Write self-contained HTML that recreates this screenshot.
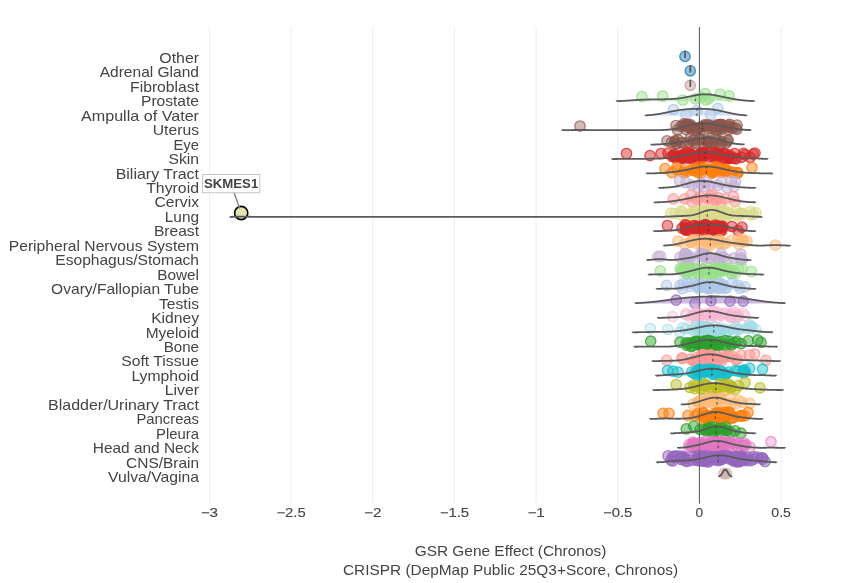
<!DOCTYPE html><html><head><meta charset="utf-8"><style>html,body{margin:0;padding:0;background:#fff}svg{will-change:transform}</style></head><body><svg width="849" height="583" viewBox="0 0 849 583" style="display:block;font-family:'Liberation Sans',sans-serif">
<rect width="849" height="583" fill="#fff"/>
<line x1="209.4" x2="209.4" y1="27" y2="503.6" stroke="#eee" stroke-width="1"/>
<line x1="291.1" x2="291.1" y1="27" y2="503.6" stroke="#eee" stroke-width="1"/>
<line x1="372.7" x2="372.7" y1="27" y2="503.6" stroke="#eee" stroke-width="1"/>
<line x1="454.4" x2="454.4" y1="27" y2="503.6" stroke="#eee" stroke-width="1"/>
<line x1="536.1" x2="536.1" y1="27" y2="503.6" stroke="#eee" stroke-width="1"/>
<line x1="617.7" x2="617.7" y1="27" y2="503.6" stroke="#eee" stroke-width="1"/>
<line x1="781.1" x2="781.1" y1="27" y2="503.6" stroke="#eee" stroke-width="1"/>
<line x1="699.4" x2="699.4" y1="27" y2="503.6" stroke="#666" stroke-width="1"/>
<g fill="#1f77b4" fill-opacity="0.47" stroke="#1f77b4" stroke-opacity="0.79" stroke-width="1.3"><circle cx="685.0" cy="56.4" r="5.2"/></g>
<line x1="685" x2="685" y1="58.0" y2="50.8" stroke="#5a5a5a" stroke-width="1.8"/>
<g fill="#1f77b4" fill-opacity="0.47" stroke="#1f77b4" stroke-opacity="0.79" stroke-width="1.3"><circle cx="690.3" cy="70.8" r="5.2"/></g>
<line x1="690.3" x2="690.3" y1="72.4" y2="65.2" stroke="#5a5a5a" stroke-width="1.8"/>
<g fill="#c49c94" fill-opacity="0.47" stroke="#c49c94" stroke-opacity="0.79" stroke-width="1.3"><circle cx="690.3" cy="85.3" r="5.2"/></g>
<line x1="690.3" x2="690.3" y1="86.9" y2="79.7" stroke="#5a5a5a" stroke-width="1.8"/>
<g fill="#98df8a" fill-opacity="0.47" stroke="#98df8a" stroke-opacity="0.79" stroke-width="1.3"><circle cx="641.9" cy="96.5" r="5.2"/><circle cx="662.7" cy="96.0" r="5.2"/><circle cx="682.9" cy="100.0" r="5.2"/><circle cx="695.4" cy="98.9" r="5.2"/><circle cx="701.0" cy="97.3" r="5.2"/><circle cx="705.3" cy="93.7" r="5.2"/><circle cx="706.0" cy="100.0" r="5.2"/><circle cx="709.0" cy="98.3" r="5.2"/><circle cx="720.1" cy="94.2" r="5.2"/><circle cx="729.1" cy="95.8" r="5.2"/></g>
<path d="M616.5,101.3L616.5,101.15L617.0,101.13L617.4,101.12L617.9,101.11L618.3,101.09L618.8,101.07L619.3,101.06L619.7,101.04L620.2,101.02L620.6,101.00L621.1,100.98L621.6,100.96L622.0,100.94L622.5,100.92L622.9,100.90L623.4,100.87L623.8,100.85L624.3,100.82L624.8,100.80L625.2,100.77L625.7,100.74L626.1,100.71L626.6,100.69L627.1,100.66L627.5,100.63L628.0,100.60L628.4,100.57L628.9,100.53L629.4,100.50L629.8,100.47L630.3,100.44L630.7,100.41L631.2,100.37L631.7,100.34L632.1,100.31L632.6,100.28L633.0,100.25L633.5,100.21L634.0,100.18L634.4,100.15L634.9,100.12L635.3,100.09L635.8,100.06L636.3,100.03L636.7,100.00L637.2,99.97L637.6,99.94L638.1,99.91L638.5,99.89L639.0,99.86L639.5,99.84L639.9,99.81L640.4,99.79L640.8,99.77L641.3,99.74L641.8,99.72L642.2,99.70L642.7,99.68L643.1,99.66L643.6,99.65L644.1,99.63L644.5,99.61L645.0,99.60L645.4,99.58L645.9,99.57L646.4,99.56L646.8,99.54L647.3,99.53L647.7,99.52L648.2,99.51L648.7,99.50L649.1,99.49L649.6,99.48L650.0,99.47L650.5,99.47L651.0,99.46L651.4,99.45L651.9,99.44L652.3,99.44L652.8,99.43L653.2,99.42L653.7,99.42L654.2,99.41L654.6,99.40L655.1,99.40L655.5,99.39L656.0,99.39L656.5,99.38L656.9,99.38L657.4,99.37L657.8,99.37L658.3,99.36L658.8,99.35L659.2,99.35L659.7,99.34L660.1,99.34L660.6,99.33L661.1,99.32L661.5,99.32L662.0,99.31L662.4,99.30L662.9,99.29L663.4,99.29L663.8,99.28L664.3,99.27L664.7,99.26L665.2,99.25L665.6,99.24L666.1,99.22L666.6,99.21L667.0,99.20L667.5,99.18L667.9,99.17L668.4,99.15L668.9,99.13L669.3,99.12L669.8,99.10L670.2,99.08L670.7,99.05L671.2,99.03L671.6,99.00L672.1,98.98L672.5,98.95L673.0,98.92L673.5,98.89L673.9,98.85L674.4,98.82L674.8,98.78L675.3,98.74L675.8,98.70L676.2,98.65L676.7,98.61L677.1,98.56L677.6,98.51L678.1,98.46L678.5,98.40L679.0,98.35L679.4,98.29L679.9,98.23L680.3,98.16L680.8,98.10L681.3,98.03L681.7,97.96L682.2,97.89L682.6,97.81L683.1,97.74L683.6,97.66L684.0,97.58L684.5,97.50L684.9,97.41L685.4,97.33L685.9,97.24L686.3,97.15L686.8,97.06L687.2,96.97L687.7,96.88L688.2,96.78L688.6,96.69L689.1,96.60L689.5,96.50L690.0,96.40L690.5,96.31L690.9,96.21L691.4,96.12L691.8,96.02L692.3,95.92L692.7,95.83L693.2,95.74L693.7,95.65L694.1,95.56L694.6,95.47L695.0,95.38L695.5,95.30L696.0,95.21L696.4,95.13L696.9,95.06L697.3,94.98L697.8,94.91L698.3,94.84L698.7,94.78L699.2,94.72L699.6,94.66L700.1,94.61L700.6,94.56L701.0,94.51L701.5,94.47L701.9,94.44L702.4,94.41L702.9,94.38L703.3,94.36L703.8,94.34L704.2,94.33L704.7,94.32L705.2,94.32L705.6,94.32L706.1,94.33L706.5,94.34L707.0,94.36L707.4,94.38L707.9,94.40L708.4,94.43L708.8,94.47L709.3,94.51L709.7,94.55L710.2,94.60L710.7,94.65L711.1,94.70L711.6,94.76L712.0,94.82L712.5,94.88L713.0,94.95L713.4,95.02L713.9,95.10L714.3,95.17L714.8,95.25L715.3,95.33L715.7,95.41L716.2,95.50L716.6,95.58L717.1,95.67L717.6,95.76L718.0,95.85L718.5,95.94L718.9,96.03L719.4,96.12L719.8,96.22L720.3,96.31L720.8,96.40L721.2,96.50L721.7,96.59L722.1,96.69L722.6,96.78L723.1,96.88L723.5,96.97L724.0,97.07L724.4,97.16L724.9,97.26L725.4,97.35L725.8,97.45L726.3,97.54L726.7,97.63L727.2,97.73L727.7,97.82L728.1,97.91L728.6,98.00L729.0,98.09L729.5,98.18L730.0,98.27L730.4,98.35L730.9,98.44L731.3,98.52L731.8,98.61L732.3,98.69L732.7,98.78L733.2,98.86L733.6,98.94L734.1,99.02L734.5,99.10L735.0,99.17L735.5,99.25L735.9,99.33L736.4,99.40L736.8,99.47L737.3,99.54L737.8,99.61L738.2,99.68L738.7,99.75L739.1,99.81L739.6,99.88L740.1,99.94L740.5,100.00L741.0,100.06L741.4,100.12L741.9,100.17L742.4,100.23L742.8,100.28L743.3,100.33L743.7,100.38L744.2,100.43L744.7,100.48L745.1,100.52L745.6,100.56L746.0,100.61L746.5,100.65L747.0,100.68L747.4,100.72L747.9,100.76L748.3,100.79L748.8,100.82L749.2,100.85L749.7,100.88L750.2,100.91L750.6,100.94L751.1,100.96L751.5,100.99L752.0,101.01L752.5,101.03L752.9,101.05L753.4,101.07L753.8,101.09L754.3,101.11L754.3,101.3" fill="#98df8a" fill-opacity="0.45" stroke="#5a5a5a" stroke-width="1.8" stroke-linejoin="round"/>
<line x1="695.3" x2="695.3" y1="101.3" y2="95.3" stroke="#333" stroke-opacity="0.7" stroke-width="1.3" stroke-dasharray="2.5,2.5"/>
<g fill="#aec7e8" fill-opacity="0.47" stroke="#aec7e8" stroke-opacity="0.79" stroke-width="1.3"><circle cx="673.5" cy="109.5" r="5.2"/><circle cx="686.0" cy="114.9" r="5.2"/><circle cx="696.6" cy="110.7" r="5.2"/><circle cx="710.7" cy="114.9" r="5.2"/><circle cx="717.8" cy="108.3" r="5.2"/></g>
<path d="M645.5,115.8L645.5,115.40L645.8,115.38L646.2,115.36L646.5,115.34L646.8,115.32L647.2,115.30L647.5,115.27L647.9,115.25L648.2,115.23L648.5,115.20L648.9,115.18L649.2,115.15L649.5,115.12L649.9,115.09L650.2,115.06L650.5,115.03L650.9,115.00L651.2,114.97L651.6,114.93L651.9,114.90L652.2,114.86L652.6,114.83L652.9,114.79L653.2,114.75L653.6,114.71L653.9,114.67L654.3,114.63L654.6,114.58L654.9,114.54L655.3,114.49L655.6,114.45L655.9,114.40L656.3,114.35L656.6,114.30L656.9,114.25L657.3,114.20L657.6,114.15L658.0,114.10L658.3,114.04L658.6,113.99L659.0,113.93L659.3,113.88L659.6,113.82L660.0,113.76L660.3,113.70L660.6,113.64L661.0,113.58L661.3,113.52L661.7,113.46L662.0,113.39L662.3,113.33L662.7,113.26L663.0,113.20L663.3,113.13L663.7,113.07L664.0,113.00L664.4,112.93L664.7,112.87L665.0,112.80L665.4,112.73L665.7,112.66L666.0,112.59L666.4,112.52L666.7,112.45L667.0,112.38L667.4,112.32L667.7,112.25L668.1,112.18L668.4,112.11L668.7,112.04L669.1,111.97L669.4,111.90L669.7,111.83L670.1,111.76L670.4,111.69L670.8,111.62L671.1,111.55L671.4,111.49L671.8,111.42L672.1,111.35L672.4,111.29L672.8,111.22L673.1,111.16L673.4,111.09L673.8,111.03L674.1,110.96L674.5,110.90L674.8,110.84L675.1,110.78L675.5,110.72L675.8,110.66L676.1,110.60L676.5,110.54L676.8,110.48L677.1,110.43L677.5,110.37L677.8,110.32L678.2,110.26L678.5,110.21L678.8,110.16L679.2,110.11L679.5,110.06L679.8,110.01L680.2,109.96L680.5,109.92L680.9,109.87L681.2,109.83L681.5,109.78L681.9,109.74L682.2,109.70L682.5,109.66L682.9,109.62L683.2,109.58L683.5,109.54L683.9,109.51L684.2,109.47L684.6,109.44L684.9,109.41L685.2,109.37L685.6,109.34L685.9,109.31L686.2,109.28L686.6,109.26L686.9,109.23L687.2,109.20L687.6,109.18L687.9,109.15L688.3,109.13L688.6,109.10L688.9,109.08L689.3,109.06L689.6,109.04L689.9,109.02L690.3,109.00L690.6,108.99L691.0,108.97L691.3,108.95L691.6,108.94L692.0,108.92L692.3,108.91L692.6,108.89L693.0,108.88L693.3,108.87L693.6,108.86L694.0,108.85L694.3,108.84L694.7,108.83L695.0,108.82L695.3,108.81L695.7,108.80L696.0,108.79L696.3,108.79L696.7,108.78L697.0,108.78L697.3,108.77L697.7,108.77L698.0,108.77L698.4,108.76L698.7,108.76L699.0,108.76L699.4,108.76L699.7,108.76L700.0,108.76L700.4,108.76L700.7,108.77L701.0,108.77L701.4,108.77L701.7,108.78L702.1,108.78L702.4,108.79L702.7,108.80L703.1,108.80L703.4,108.81L703.7,108.82L704.1,108.83L704.4,108.84L704.8,108.86L705.1,108.87L705.4,108.89L705.8,108.90L706.1,108.92L706.4,108.94L706.8,108.96L707.1,108.98L707.4,109.00L707.8,109.02L708.1,109.04L708.5,109.07L708.8,109.10L709.1,109.12L709.5,109.15L709.8,109.18L710.1,109.22L710.5,109.25L710.8,109.28L711.1,109.32L711.5,109.36L711.8,109.40L712.2,109.44L712.5,109.48L712.8,109.52L713.2,109.57L713.5,109.61L713.8,109.66L714.2,109.71L714.5,109.76L714.9,109.81L715.2,109.87L715.5,109.92L715.9,109.98L716.2,110.04L716.5,110.09L716.9,110.15L717.2,110.22L717.5,110.28L717.9,110.34L718.2,110.41L718.6,110.47L718.9,110.54L719.2,110.61L719.6,110.68L719.9,110.75L720.2,110.82L720.6,110.89L720.9,110.97L721.2,111.04L721.6,111.12L721.9,111.19L722.3,111.27L722.6,111.34L722.9,111.42L723.3,111.50L723.6,111.58L723.9,111.65L724.3,111.73L724.6,111.81L725.0,111.89L725.3,111.97L725.6,112.05L726.0,112.13L726.3,112.21L726.6,112.28L727.0,112.36L727.3,112.44L727.6,112.52L728.0,112.60L728.3,112.67L728.7,112.75L729.0,112.83L729.3,112.90L729.7,112.98L730.0,113.05L730.3,113.13L730.7,113.20L731.0,113.27L731.4,113.34L731.7,113.41L732.0,113.48L732.4,113.55L732.7,113.62L733.0,113.68L733.4,113.75L733.7,113.81L734.0,113.88L734.4,113.94L734.7,114.00L735.1,114.06L735.4,114.12L735.7,114.18L736.1,114.23L736.4,114.29L736.7,114.34L737.1,114.39L737.4,114.44L737.7,114.49L738.1,114.54L738.4,114.59L738.8,114.64L739.1,114.68L739.4,114.72L739.8,114.77L740.1,114.81L740.4,114.85L740.8,114.89L741.1,114.92L741.5,114.96L741.8,114.99L742.1,115.03L742.5,115.06L742.8,115.09L743.1,115.12L743.5,115.15L743.8,115.18L744.1,115.21L744.5,115.24L744.8,115.26L745.2,115.29L745.5,115.31L745.8,115.33L746.2,115.35L746.5,115.37L746.5,115.8" fill="#aec7e8" fill-opacity="0.45" stroke="#5a5a5a" stroke-width="1.8" stroke-linejoin="round"/>
<line x1="696.9" x2="696.9" y1="115.8" y2="108.8" stroke="#333" stroke-opacity="0.7" stroke-width="1.3" stroke-dasharray="2.5,2.5"/>
<g fill="#8c564b" fill-opacity="0.4" stroke="#8c564b" stroke-opacity="0.72" stroke-width="1.3"><circle cx="580.0" cy="126.0" r="5.2"/><circle cx="676.0" cy="125.5" r="5.2"/><circle cx="737.0" cy="125.1" r="5.2"/><circle cx="691.4" cy="126.2" r="5.2"/><circle cx="721.5" cy="129.7" r="5.2"/><circle cx="722.9" cy="125.1" r="5.2"/><circle cx="686.0" cy="124.5" r="5.2"/><circle cx="721.8" cy="124.4" r="5.2"/><circle cx="716.2" cy="125.1" r="5.2"/><circle cx="686.3" cy="125.7" r="5.2"/><circle cx="699.6" cy="127.7" r="5.2"/><circle cx="729.7" cy="127.6" r="5.2"/><circle cx="709.2" cy="128.8" r="5.2"/><circle cx="710.1" cy="125.8" r="5.2"/><circle cx="732.7" cy="127.8" r="5.2"/><circle cx="690.4" cy="124.7" r="5.2"/><circle cx="720.9" cy="128.5" r="5.2"/><circle cx="719.2" cy="128.3" r="5.2"/><circle cx="736.9" cy="129.4" r="5.2"/><circle cx="699.1" cy="128.2" r="5.2"/><circle cx="708.5" cy="124.9" r="5.2"/><circle cx="705.1" cy="124.6" r="5.2"/><circle cx="686.9" cy="124.0" r="5.2"/><circle cx="677.5" cy="129.8" r="5.2"/><circle cx="687.2" cy="125.5" r="5.2"/><circle cx="702.0" cy="126.3" r="5.2"/><circle cx="693.7" cy="127.7" r="5.2"/><circle cx="683.7" cy="123.9" r="5.2"/><circle cx="705.3" cy="125.6" r="5.2"/><circle cx="698.0" cy="128.0" r="5.2"/><circle cx="719.8" cy="124.6" r="5.2"/><circle cx="687.7" cy="127.1" r="5.2"/><circle cx="729.0" cy="126.9" r="5.2"/><circle cx="720.1" cy="126.9" r="5.2"/><circle cx="711.6" cy="126.9" r="5.2"/><circle cx="700.7" cy="129.8" r="5.2"/><circle cx="719.4" cy="124.7" r="5.2"/><circle cx="735.6" cy="128.0" r="5.2"/><circle cx="690.8" cy="127.1" r="5.2"/><circle cx="711.8" cy="128.9" r="5.2"/><circle cx="681.1" cy="126.3" r="5.2"/><circle cx="716.4" cy="129.5" r="5.2"/><circle cx="728.8" cy="129.8" r="5.2"/><circle cx="691.0" cy="128.6" r="5.2"/><circle cx="729.7" cy="124.3" r="5.2"/><circle cx="683.3" cy="125.6" r="5.2"/><circle cx="718.7" cy="125.3" r="5.2"/><circle cx="697.1" cy="129.4" r="5.2"/><circle cx="713.7" cy="127.1" r="5.2"/><circle cx="728.6" cy="125.2" r="5.2"/><circle cx="717.7" cy="125.2" r="5.2"/><circle cx="690.6" cy="127.1" r="5.2"/><circle cx="686.1" cy="129.5" r="5.2"/></g>
<path d="M562.0,130.2L562.0,130.17L562.6,130.16L563.3,130.16L563.9,130.15L564.5,130.14L565.1,130.14L565.8,130.13L566.4,130.12L567.0,130.11L567.7,130.10L568.3,130.09L568.9,130.08L569.6,130.07L570.2,130.06L570.8,130.05L571.4,130.04L572.1,130.03L572.7,130.02L573.3,130.01L574.0,130.00L574.6,129.99L575.2,129.98L575.8,129.98L576.5,129.97L577.1,129.96L577.7,129.96L578.4,129.95L579.0,129.95L579.6,129.95L580.3,129.95L580.9,129.95L581.5,129.95L582.1,129.96L582.8,129.96L583.4,129.97L584.0,129.97L584.7,129.98L585.3,129.99L585.9,130.00L586.5,130.01L587.2,130.02L587.8,130.03L588.4,130.04L589.1,130.05L589.7,130.06L590.3,130.07L590.9,130.08L591.6,130.09L592.2,130.10L592.8,130.11L593.5,130.12L594.1,130.13L594.7,130.13L595.4,130.14L596.0,130.15L596.6,130.15L597.2,130.16L597.9,130.17L598.5,130.17L599.1,130.17L599.8,130.18L600.4,130.18L601.0,130.18L601.6,130.19L602.3,130.19L602.9,130.19L603.5,130.19L604.2,130.19L604.8,130.19L605.4,130.20L606.1,130.20L606.7,130.20L607.3,130.20L607.9,130.20L608.6,130.20L609.2,130.20L609.8,130.20L610.5,130.20L611.1,130.20L611.7,130.20L612.3,130.20L613.0,130.20L613.6,130.20L614.2,130.20L614.9,130.20L615.5,130.20L616.1,130.20L616.8,130.20L617.4,130.20L618.0,130.20L618.6,130.20L619.3,130.20L619.9,130.20L620.5,130.20L621.2,130.20L621.8,130.20L622.4,130.20L623.0,130.20L623.7,130.20L624.3,130.20L624.9,130.20L625.6,130.20L626.2,130.20L626.8,130.20L627.5,130.20L628.1,130.20L628.7,130.20L629.3,130.20L630.0,130.20L630.6,130.20L631.2,130.20L631.9,130.20L632.5,130.20L633.1,130.20L633.7,130.20L634.4,130.20L635.0,130.20L635.6,130.20L636.3,130.20L636.9,130.20L637.5,130.20L638.1,130.20L638.8,130.20L639.4,130.20L640.0,130.20L640.7,130.20L641.3,130.20L641.9,130.20L642.6,130.20L643.2,130.20L643.8,130.20L644.4,130.20L645.1,130.20L645.7,130.20L646.3,130.20L647.0,130.20L647.6,130.20L648.2,130.20L648.8,130.19L649.5,130.19L650.1,130.19L650.7,130.19L651.4,130.19L652.0,130.19L652.6,130.18L653.3,130.18L653.9,130.18L654.5,130.17L655.1,130.17L655.8,130.16L656.4,130.15L657.0,130.15L657.7,130.14L658.3,130.13L658.9,130.11L659.5,130.10L660.2,130.09L660.8,130.07L661.4,130.05L662.1,130.03L662.7,130.00L663.3,129.97L664.0,129.94L664.6,129.91L665.2,129.87L665.8,129.83L666.5,129.79L667.1,129.74L667.7,129.69L668.4,129.63L669.0,129.57L669.6,129.50L670.2,129.43L670.9,129.36L671.5,129.28L672.1,129.20L672.8,129.11L673.4,129.02L674.0,128.92L674.7,128.82L675.3,128.71L675.9,128.60L676.5,128.48L677.2,128.36L677.8,128.24L678.4,128.11L679.1,127.98L679.7,127.84L680.3,127.70L680.9,127.56L681.6,127.42L682.2,127.27L682.8,127.12L683.5,126.97L684.1,126.81L684.7,126.66L685.3,126.50L686.0,126.34L686.6,126.18L687.2,126.02L687.9,125.86L688.5,125.71L689.1,125.55L689.8,125.39L690.4,125.23L691.0,125.08L691.6,124.93L692.3,124.78L692.9,124.63L693.5,124.49L694.2,124.36L694.8,124.23L695.4,124.10L696.0,123.98L696.7,123.87L697.3,123.77L697.9,123.67L698.6,123.58L699.2,123.50L699.8,123.43L700.5,123.36L701.1,123.31L701.7,123.27L702.3,123.24L703.0,123.21L703.6,123.20L704.2,123.20L704.9,123.21L705.5,123.23L706.1,123.26L706.7,123.30L707.4,123.35L708.0,123.40L708.6,123.47L709.3,123.55L709.9,123.63L710.5,123.73L711.2,123.83L711.8,123.94L712.4,124.05L713.0,124.17L713.7,124.30L714.3,124.43L714.9,124.56L715.6,124.70L716.2,124.84L716.8,124.98L717.4,125.13L718.1,125.27L718.7,125.42L719.3,125.57L720.0,125.72L720.6,125.87L721.2,126.01L721.9,126.16L722.5,126.30L723.1,126.45L723.7,126.59L724.4,126.73L725.0,126.87L725.6,127.00L726.3,127.13L726.9,127.26L727.5,127.39L728.1,127.52L728.8,127.64L729.4,127.76L730.0,127.88L730.7,127.99L731.3,128.10L731.9,128.21L732.5,128.32L733.2,128.42L733.8,128.52L734.4,128.62L735.1,128.72L735.7,128.81L736.3,128.90L737.0,128.98L737.6,129.07L738.2,129.15L738.8,129.22L739.5,129.30L740.1,129.37L740.7,129.43L741.4,129.50L742.0,129.56L742.6,129.61L743.2,129.67L743.9,129.72L744.5,129.76L745.1,129.81L745.8,129.85L746.4,129.89L747.0,129.92L747.7,129.95L748.3,129.98L748.9,130.01L749.5,130.03L750.2,130.05L750.8,130.07L750.8,130.2" fill="#8c564b" fill-opacity="0.45" stroke="#5a5a5a" stroke-width="1.8" stroke-linejoin="round"/>
<line x1="702.5" x2="702.5" y1="130.2" y2="123.2" stroke="#333" stroke-opacity="0.7" stroke-width="1.3" stroke-dasharray="2.5,2.5"/>
<g fill="#8c564b" fill-opacity="0.4" stroke="#8c564b" stroke-opacity="0.72" stroke-width="1.3"><circle cx="667.0" cy="140.9" r="5.2"/><circle cx="728.0" cy="139.8" r="5.2"/><circle cx="708.8" cy="141.2" r="5.2"/><circle cx="705.7" cy="139.7" r="5.2"/><circle cx="727.7" cy="140.9" r="5.2"/><circle cx="714.7" cy="139.1" r="5.2"/><circle cx="726.3" cy="143.0" r="5.2"/><circle cx="694.5" cy="139.0" r="5.2"/><circle cx="699.6" cy="139.6" r="5.2"/><circle cx="696.5" cy="143.7" r="5.2"/><circle cx="683.8" cy="143.0" r="5.2"/><circle cx="671.5" cy="142.5" r="5.2"/><circle cx="716.7" cy="139.3" r="5.2"/><circle cx="693.4" cy="140.3" r="5.2"/><circle cx="712.0" cy="144.0" r="5.2"/><circle cx="678.1" cy="139.7" r="5.2"/><circle cx="688.2" cy="142.4" r="5.2"/><circle cx="700.7" cy="138.8" r="5.2"/><circle cx="694.2" cy="142.6" r="5.2"/><circle cx="675.7" cy="143.8" r="5.2"/><circle cx="681.9" cy="142.3" r="5.2"/><circle cx="721.4" cy="141.4" r="5.2"/><circle cx="675.0" cy="141.6" r="5.2"/><circle cx="675.0" cy="140.9" r="5.2"/><circle cx="707.3" cy="143.7" r="5.2"/><circle cx="710.0" cy="142.7" r="5.2"/><circle cx="676.9" cy="144.2" r="5.2"/><circle cx="690.5" cy="138.0" r="5.2"/><circle cx="708.0" cy="141.3" r="5.2"/><circle cx="707.8" cy="142.6" r="5.2"/><circle cx="721.8" cy="143.3" r="5.2"/><circle cx="717.5" cy="140.5" r="5.2"/><circle cx="719.6" cy="144.4" r="5.2"/><circle cx="712.0" cy="143.4" r="5.2"/></g>
<path d="M650.6,144.6L650.6,144.60L650.9,144.60L651.2,144.59L651.5,144.59L651.8,144.59L652.2,144.58L652.5,144.58L652.8,144.57L653.1,144.56L653.4,144.56L653.7,144.55L654.0,144.54L654.3,144.54L654.7,144.53L655.0,144.52L655.3,144.51L655.6,144.50L655.9,144.49L656.2,144.48L656.5,144.47L656.8,144.46L657.2,144.44L657.5,144.43L657.8,144.42L658.1,144.40L658.4,144.39L658.7,144.37L659.0,144.36L659.3,144.34L659.6,144.32L660.0,144.30L660.3,144.29L660.6,144.27L660.9,144.25L661.2,144.22L661.5,144.20L661.8,144.18L662.1,144.16L662.5,144.14L662.8,144.11L663.1,144.09L663.4,144.06L663.7,144.04L664.0,144.01L664.3,143.99L664.6,143.96L665.0,143.93L665.3,143.90L665.6,143.87L665.9,143.85L666.2,143.82L666.5,143.79L666.8,143.76L667.1,143.73L667.4,143.70L667.8,143.67L668.1,143.64L668.4,143.60L668.7,143.57L669.0,143.54L669.3,143.51L669.6,143.48L669.9,143.45L670.3,143.41L670.6,143.38L670.9,143.35L671.2,143.32L671.5,143.28L671.8,143.25L672.1,143.22L672.4,143.18L672.8,143.15L673.1,143.12L673.4,143.08L673.7,143.05L674.0,143.02L674.3,142.98L674.6,142.95L674.9,142.91L675.2,142.88L675.6,142.84L675.9,142.81L676.2,142.77L676.5,142.74L676.8,142.70L677.1,142.67L677.4,142.63L677.7,142.59L678.1,142.55L678.4,142.51L678.7,142.48L679.0,142.44L679.3,142.40L679.6,142.35L679.9,142.31L680.2,142.27L680.6,142.23L680.9,142.18L681.2,142.14L681.5,142.09L681.8,142.05L682.1,142.00L682.4,141.95L682.7,141.90L683.0,141.85L683.4,141.80L683.7,141.75L684.0,141.70L684.3,141.64L684.6,141.59L684.9,141.53L685.2,141.48L685.5,141.42L685.9,141.36L686.2,141.30L686.5,141.24L686.8,141.18L687.1,141.12L687.4,141.05L687.7,140.99L688.0,140.92L688.4,140.86L688.7,140.79L689.0,140.72L689.3,140.65L689.6,140.58L689.9,140.51L690.2,140.44L690.5,140.37L690.8,140.30L691.2,140.23L691.5,140.15L691.8,140.08L692.1,140.01L692.4,139.93L692.7,139.86L693.0,139.79L693.3,139.71L693.7,139.64L694.0,139.57L694.3,139.49L694.6,139.42L694.9,139.35L695.2,139.27L695.5,139.20L695.8,139.13L696.2,139.06L696.5,138.99L696.8,138.92L697.1,138.85L697.4,138.79L697.7,138.72L698.0,138.66L698.3,138.59L698.6,138.53L699.0,138.47L699.3,138.41L699.6,138.35L699.9,138.30L700.2,138.25L700.5,138.19L700.8,138.14L701.1,138.10L701.5,138.05L701.8,138.01L702.1,137.96L702.4,137.92L702.7,137.89L703.0,137.85L703.3,137.82L703.6,137.79L704.0,137.76L704.3,137.74L704.6,137.72L704.9,137.70L705.2,137.68L705.5,137.67L705.8,137.66L706.1,137.65L706.4,137.64L706.8,137.64L707.1,137.64L707.4,137.64L707.7,137.65L708.0,137.66L708.3,137.67L708.6,137.68L708.9,137.70L709.3,137.72L709.6,137.74L709.9,137.77L710.2,137.80L710.5,137.83L710.8,137.86L711.1,137.90L711.4,137.94L711.8,137.98L712.1,138.02L712.4,138.07L712.7,138.12L713.0,138.17L713.3,138.23L713.6,138.28L713.9,138.34L714.2,138.40L714.6,138.46L714.9,138.53L715.2,138.59L715.5,138.66L715.8,138.73L716.1,138.81L716.4,138.88L716.7,138.96L717.1,139.03L717.4,139.11L717.7,139.19L718.0,139.27L718.3,139.36L718.6,139.44L718.9,139.53L719.2,139.61L719.6,139.70L719.9,139.79L720.2,139.88L720.5,139.97L720.8,140.06L721.1,140.15L721.4,140.24L721.7,140.33L722.0,140.42L722.4,140.52L722.7,140.61L723.0,140.70L723.3,140.79L723.6,140.89L723.9,140.98L724.2,141.07L724.5,141.16L724.9,141.25L725.2,141.34L725.5,141.43L725.8,141.52L726.1,141.61L726.4,141.70L726.7,141.79L727.0,141.88L727.4,141.96L727.7,142.05L728.0,142.13L728.3,142.21L728.6,142.29L728.9,142.37L729.2,142.45L729.5,142.53L729.8,142.60L730.2,142.68L730.5,142.75L730.8,142.82L731.1,142.89L731.4,142.96L731.7,143.03L732.0,143.09L732.3,143.16L732.7,143.22L733.0,143.28L733.3,143.34L733.6,143.40L733.9,143.45L734.2,143.51L734.5,143.56L734.8,143.61L735.2,143.66L735.5,143.70L735.8,143.75L736.1,143.79L736.4,143.84L736.7,143.88L737.0,143.92L737.3,143.95L737.6,143.99L738.0,144.02L738.3,144.06L738.6,144.09L738.9,144.12L739.2,144.15L739.5,144.18L739.8,144.20L740.1,144.23L740.5,144.25L740.8,144.27L741.1,144.30L741.4,144.32L741.7,144.34L742.0,144.35L742.3,144.37L742.6,144.39L743.0,144.40L743.3,144.42L743.6,144.43L743.9,144.45L744.2,144.46L744.2,144.6" fill="#8c564b" fill-opacity="0.45" stroke="#5a5a5a" stroke-width="1.8" stroke-linejoin="round"/>
<line x1="703.7" x2="703.7" y1="144.6" y2="137.8" stroke="#333" stroke-opacity="0.7" stroke-width="1.3" stroke-dasharray="2.5,2.5"/>
<g fill="#d62728" fill-opacity="0.47" stroke="#d62728" stroke-opacity="0.79" stroke-width="1.3"><circle cx="626.5" cy="153.5" r="5.2"/><circle cx="650.0" cy="155.6" r="5.2"/><circle cx="661.0" cy="153.6" r="5.2"/><circle cx="668.0" cy="153.1" r="5.2"/><circle cx="750.0" cy="157.4" r="5.2"/><circle cx="753.0" cy="154.1" r="5.2"/><circle cx="755.0" cy="153.1" r="5.2"/><circle cx="672.0" cy="156.4" r="5.2"/><circle cx="745.0" cy="154.9" r="5.2"/><circle cx="714.4" cy="152.8" r="5.2"/><circle cx="695.8" cy="158.6" r="5.2"/><circle cx="682.1" cy="155.1" r="5.2"/><circle cx="691.0" cy="157.5" r="5.2"/><circle cx="705.0" cy="153.5" r="5.2"/><circle cx="724.6" cy="154.1" r="5.2"/><circle cx="702.6" cy="152.6" r="5.2"/><circle cx="715.1" cy="152.6" r="5.2"/><circle cx="717.4" cy="154.7" r="5.2"/><circle cx="714.0" cy="157.2" r="5.2"/><circle cx="683.7" cy="154.2" r="5.2"/><circle cx="683.2" cy="155.9" r="5.2"/><circle cx="689.7" cy="157.2" r="5.2"/><circle cx="734.5" cy="158.2" r="5.2"/><circle cx="716.8" cy="153.1" r="5.2"/><circle cx="693.3" cy="156.0" r="5.2"/><circle cx="728.9" cy="158.0" r="5.2"/><circle cx="715.8" cy="157.4" r="5.2"/><circle cx="723.1" cy="158.0" r="5.2"/><circle cx="689.1" cy="158.5" r="5.2"/><circle cx="689.8" cy="154.0" r="5.2"/><circle cx="711.9" cy="155.8" r="5.2"/><circle cx="674.0" cy="156.9" r="5.2"/><circle cx="694.9" cy="156.8" r="5.2"/><circle cx="685.3" cy="157.1" r="5.2"/><circle cx="730.3" cy="155.6" r="5.2"/><circle cx="691.7" cy="155.2" r="5.2"/><circle cx="716.7" cy="158.4" r="5.2"/><circle cx="704.0" cy="156.2" r="5.2"/><circle cx="700.4" cy="153.2" r="5.2"/><circle cx="691.3" cy="154.2" r="5.2"/><circle cx="673.6" cy="155.5" r="5.2"/><circle cx="701.2" cy="156.3" r="5.2"/><circle cx="685.3" cy="156.8" r="5.2"/><circle cx="700.1" cy="157.9" r="5.2"/><circle cx="700.5" cy="156.9" r="5.2"/><circle cx="728.6" cy="158.1" r="5.2"/><circle cx="682.4" cy="158.7" r="5.2"/><circle cx="731.9" cy="158.1" r="5.2"/><circle cx="689.3" cy="152.4" r="5.2"/><circle cx="701.8" cy="152.7" r="5.2"/><circle cx="728.0" cy="158.6" r="5.2"/><circle cx="697.7" cy="156.6" r="5.2"/><circle cx="681.6" cy="158.1" r="5.2"/><circle cx="682.9" cy="156.6" r="5.2"/><circle cx="701.1" cy="154.9" r="5.2"/><circle cx="741.3" cy="157.3" r="5.2"/><circle cx="678.8" cy="156.0" r="5.2"/><circle cx="691.4" cy="157.7" r="5.2"/><circle cx="686.9" cy="155.5" r="5.2"/><circle cx="701.0" cy="157.9" r="5.2"/><circle cx="679.4" cy="156.8" r="5.2"/><circle cx="703.6" cy="156.2" r="5.2"/><circle cx="710.4" cy="157.1" r="5.2"/><circle cx="698.7" cy="155.7" r="5.2"/><circle cx="724.2" cy="153.8" r="5.2"/><circle cx="716.5" cy="156.1" r="5.2"/><circle cx="743.5" cy="153.4" r="5.2"/><circle cx="675.7" cy="157.8" r="5.2"/><circle cx="719.8" cy="154.3" r="5.2"/><circle cx="734.7" cy="153.5" r="5.2"/><circle cx="704.4" cy="152.7" r="5.2"/><circle cx="673.9" cy="154.4" r="5.2"/><circle cx="681.9" cy="156.8" r="5.2"/><circle cx="726.7" cy="154.4" r="5.2"/><circle cx="705.9" cy="154.8" r="5.2"/><circle cx="698.1" cy="156.3" r="5.2"/><circle cx="719.8" cy="155.0" r="5.2"/><circle cx="725.0" cy="158.6" r="5.2"/><circle cx="735.9" cy="158.8" r="5.2"/><circle cx="701.3" cy="157.7" r="5.2"/><circle cx="686.2" cy="152.9" r="5.2"/><circle cx="700.9" cy="158.7" r="5.2"/></g>
<path d="M611.8,159.1L611.8,159.05L612.3,159.04L612.8,159.04L613.4,159.03L613.9,159.03L614.4,159.02L614.9,159.01L615.4,159.01L616.0,159.00L616.5,158.99L617.0,158.98L617.5,158.97L618.0,158.96L618.6,158.95L619.1,158.94L619.6,158.93L620.1,158.92L620.6,158.91L621.2,158.90L621.7,158.89L622.2,158.88L622.7,158.88L623.2,158.87L623.8,158.86L624.3,158.86L624.8,158.85L625.3,158.85L625.8,158.85L626.4,158.85L626.9,158.85L627.4,158.85L627.9,158.85L628.4,158.85L628.9,158.86L629.5,158.86L630.0,158.87L630.5,158.87L631.0,158.88L631.5,158.89L632.1,158.89L632.6,158.90L633.1,158.91L633.6,158.92L634.1,158.92L634.7,158.93L635.2,158.93L635.7,158.94L636.2,158.94L636.7,158.95L637.3,158.95L637.8,158.95L638.3,158.95L638.8,158.95L639.3,158.95L639.9,158.94L640.4,158.94L640.9,158.93L641.4,158.93L641.9,158.92L642.5,158.91L643.0,158.90L643.5,158.89L644.0,158.88L644.5,158.87L645.1,158.86L645.6,158.85L646.1,158.84L646.6,158.83L647.1,158.81L647.7,158.80L648.2,158.79L648.7,158.78L649.2,158.77L649.7,158.76L650.3,158.74L650.8,158.73L651.3,158.72L651.8,158.71L652.3,158.70L652.9,158.69L653.4,158.68L653.9,158.67L654.4,158.66L654.9,158.64L655.5,158.63L656.0,158.62L656.5,158.60L657.0,158.59L657.5,158.57L658.1,158.56L658.6,158.54L659.1,158.52L659.6,158.50L660.1,158.48L660.6,158.46L661.2,158.43L661.7,158.41L662.2,158.38L662.7,158.35L663.2,158.32L663.8,158.29L664.3,158.26L664.8,158.22L665.3,158.18L665.8,158.15L666.4,158.10L666.9,158.06L667.4,158.02L667.9,157.97L668.4,157.92L669.0,157.87L669.5,157.81L670.0,157.76L670.5,157.70L671.0,157.64L671.6,157.58L672.1,157.51L672.6,157.45L673.1,157.38L673.6,157.31L674.2,157.23L674.7,157.16L675.2,157.08L675.7,157.00L676.2,156.92L676.8,156.84L677.3,156.75L677.8,156.67L678.3,156.58L678.8,156.49L679.4,156.40L679.9,156.31L680.4,156.21L680.9,156.11L681.4,156.01L682.0,155.91L682.5,155.81L683.0,155.71L683.5,155.60L684.0,155.50L684.6,155.39L685.1,155.28L685.6,155.17L686.1,155.06L686.6,154.95L687.2,154.83L687.7,154.72L688.2,154.60L688.7,154.49L689.2,154.37L689.8,154.26L690.3,154.14L690.8,154.03L691.3,153.91L691.8,153.80L692.3,153.69L692.9,153.58L693.4,153.47L693.9,153.36L694.4,153.26L694.9,153.16L695.5,153.06L696.0,152.96L696.5,152.87L697.0,152.79L697.5,152.70L698.1,152.62L698.6,152.55L699.1,152.48L699.6,152.41L700.1,152.35L700.7,152.30L701.2,152.25L701.7,152.21L702.2,152.17L702.7,152.14L703.3,152.12L703.8,152.10L704.3,152.09L704.8,152.08L705.3,152.08L705.9,152.09L706.4,152.10L706.9,152.12L707.4,152.15L707.9,152.18L708.5,152.22L709.0,152.26L709.5,152.31L710.0,152.37L710.5,152.43L711.1,152.50L711.6,152.57L712.1,152.65L712.6,152.73L713.1,152.81L713.7,152.90L714.2,152.99L714.7,153.09L715.2,153.19L715.7,153.29L716.3,153.39L716.8,153.50L717.3,153.61L717.8,153.72L718.3,153.83L718.9,153.94L719.4,154.06L719.9,154.17L720.4,154.28L720.9,154.40L721.4,154.51L722.0,154.62L722.5,154.73L723.0,154.85L723.5,154.96L724.0,155.06L724.6,155.17L725.1,155.28L725.6,155.38L726.1,155.48L726.6,155.58L727.2,155.68L727.7,155.77L728.2,155.86L728.7,155.95L729.2,156.04L729.8,156.13L730.3,156.21L730.8,156.29L731.3,156.37L731.8,156.44L732.4,156.52L732.9,156.59L733.4,156.66L733.9,156.73L734.4,156.79L735.0,156.85L735.5,156.92L736.0,156.98L736.5,157.03L737.0,157.09L737.6,157.14L738.1,157.20L738.6,157.25L739.1,157.30L739.6,157.34L740.2,157.39L740.7,157.43L741.2,157.48L741.7,157.52L742.2,157.56L742.8,157.59L743.3,157.63L743.8,157.67L744.3,157.70L744.8,157.73L745.4,157.76L745.9,157.79L746.4,157.82L746.9,157.85L747.4,157.87L748.0,157.90L748.5,157.93L749.0,157.95L749.5,157.98L750.0,158.01L750.6,158.03L751.1,158.06L751.6,158.09L752.1,158.11L752.6,158.14L753.1,158.17L753.7,158.20L754.2,158.23L754.7,158.27L755.2,158.30L755.7,158.33L756.3,158.37L756.8,158.40L757.3,158.44L757.8,158.47L758.3,158.51L758.9,158.54L759.4,158.58L759.9,158.61L760.4,158.65L760.9,158.68L761.5,158.71L762.0,158.74L762.5,158.77L763.0,158.80L763.5,158.82L764.1,158.85L764.6,158.87L765.1,158.90L765.6,158.92L766.1,158.93L766.7,158.95L767.2,158.97L767.7,158.98L767.7,159.1" fill="#d62728" fill-opacity="0.45" stroke="#5a5a5a" stroke-width="1.8" stroke-linejoin="round"/>
<line x1="705.2" x2="705.2" y1="159.1" y2="152.1" stroke="#333" stroke-opacity="0.7" stroke-width="1.3" stroke-dasharray="2.5,2.5"/>
<g fill="#ff7f0e" fill-opacity="0.47" stroke="#ff7f0e" stroke-opacity="0.79" stroke-width="1.3"><circle cx="665.0" cy="168.6" r="5.2"/><circle cx="752.0" cy="167.6" r="5.2"/><circle cx="672.0" cy="172.6" r="5.2"/><circle cx="738.0" cy="172.9" r="5.2"/><circle cx="725.8" cy="171.9" r="5.2"/><circle cx="699.0" cy="166.9" r="5.2"/><circle cx="677.3" cy="170.0" r="5.2"/><circle cx="685.3" cy="172.7" r="5.2"/><circle cx="714.0" cy="169.1" r="5.2"/><circle cx="684.5" cy="170.1" r="5.2"/><circle cx="712.3" cy="172.6" r="5.2"/><circle cx="737.2" cy="172.9" r="5.2"/><circle cx="713.4" cy="170.9" r="5.2"/><circle cx="704.0" cy="167.0" r="5.2"/><circle cx="726.9" cy="170.5" r="5.2"/><circle cx="714.2" cy="166.9" r="5.2"/><circle cx="694.8" cy="170.9" r="5.2"/><circle cx="722.1" cy="171.2" r="5.2"/><circle cx="737.1" cy="172.7" r="5.2"/><circle cx="704.9" cy="169.4" r="5.2"/><circle cx="731.5" cy="172.3" r="5.2"/><circle cx="717.3" cy="167.1" r="5.2"/><circle cx="715.7" cy="169.3" r="5.2"/><circle cx="701.0" cy="173.2" r="5.2"/><circle cx="693.1" cy="169.3" r="5.2"/><circle cx="711.4" cy="170.2" r="5.2"/><circle cx="725.5" cy="169.0" r="5.2"/><circle cx="724.2" cy="169.4" r="5.2"/><circle cx="712.1" cy="172.6" r="5.2"/><circle cx="700.1" cy="170.2" r="5.2"/><circle cx="720.4" cy="169.2" r="5.2"/><circle cx="712.5" cy="172.8" r="5.2"/><circle cx="676.7" cy="167.6" r="5.2"/><circle cx="702.5" cy="168.7" r="5.2"/><circle cx="720.7" cy="172.1" r="5.2"/><circle cx="698.5" cy="172.8" r="5.2"/><circle cx="723.7" cy="170.7" r="5.2"/><circle cx="696.1" cy="169.2" r="5.2"/><circle cx="697.6" cy="169.2" r="5.2"/><circle cx="683.4" cy="172.5" r="5.2"/><circle cx="708.0" cy="169.5" r="5.2"/><circle cx="695.4" cy="169.7" r="5.2"/><circle cx="732.7" cy="172.2" r="5.2"/><circle cx="691.4" cy="170.0" r="5.2"/></g>
<path d="M646.4,173.5L646.4,173.47L646.8,173.47L647.2,173.46L647.7,173.45L648.1,173.45L648.5,173.44L648.9,173.43L649.3,173.43L649.8,173.42L650.2,173.41L650.6,173.40L651.0,173.39L651.4,173.38L651.9,173.37L652.3,173.36L652.7,173.35L653.1,173.33L653.5,173.32L654.0,173.31L654.4,173.29L654.8,173.28L655.2,173.26L655.6,173.24L656.1,173.23L656.5,173.21L656.9,173.19L657.3,173.17L657.7,173.15L658.2,173.13L658.6,173.11L659.0,173.09L659.4,173.07L659.8,173.04L660.3,173.02L660.7,173.00L661.1,172.97L661.5,172.95L661.9,172.92L662.4,172.89L662.8,172.87L663.2,172.84L663.6,172.81L664.0,172.78L664.5,172.75L664.9,172.72L665.3,172.69L665.7,172.65L666.1,172.62L666.6,172.59L667.0,172.55L667.4,172.52L667.8,172.48L668.2,172.45L668.7,172.41L669.1,172.37L669.5,172.33L669.9,172.29L670.3,172.25L670.8,172.21L671.2,172.16L671.6,172.12L672.0,172.07L672.4,172.03L672.9,171.98L673.3,171.93L673.7,171.88L674.1,171.83L674.5,171.78L675.0,171.73L675.4,171.67L675.8,171.62L676.2,171.56L676.6,171.50L677.1,171.45L677.5,171.39L677.9,171.32L678.3,171.26L678.7,171.20L679.2,171.13L679.6,171.07L680.0,171.00L680.4,170.93L680.8,170.86L681.3,170.79L681.7,170.71L682.1,170.64L682.5,170.57L682.9,170.49L683.4,170.41L683.8,170.33L684.2,170.25L684.6,170.17L685.0,170.09L685.5,170.00L685.9,169.92L686.3,169.83L686.7,169.75L687.1,169.66L687.6,169.57L688.0,169.48L688.4,169.39L688.8,169.30L689.2,169.21L689.7,169.12L690.1,169.03L690.5,168.93L690.9,168.84L691.3,168.75L691.8,168.66L692.2,168.56L692.6,168.47L693.0,168.38L693.4,168.29L693.9,168.20L694.3,168.11L694.7,168.02L695.1,167.94L695.5,167.85L696.0,167.77L696.4,167.68L696.8,167.60L697.2,167.52L697.6,167.45L698.1,167.37L698.5,167.30L698.9,167.23L699.3,167.16L699.7,167.10L700.2,167.04L700.6,166.98L701.0,166.92L701.4,166.87L701.8,166.82L702.3,166.77L702.7,166.73L703.1,166.69L703.5,166.66L703.9,166.63L704.4,166.60L704.8,166.58L705.2,166.56L705.6,166.54L706.0,166.53L706.5,166.52L706.9,166.52L707.3,166.52L707.7,166.53L708.1,166.54L708.6,166.55L709.0,166.57L709.4,166.59L709.8,166.61L710.2,166.64L710.7,166.67L711.1,166.71L711.5,166.75L711.9,166.80L712.3,166.84L712.8,166.90L713.2,166.95L713.6,167.01L714.0,167.07L714.4,167.13L714.9,167.20L715.3,167.27L715.7,167.34L716.1,167.42L716.5,167.49L717.0,167.57L717.4,167.65L717.8,167.74L718.2,167.82L718.6,167.91L719.1,168.00L719.5,168.09L719.9,168.18L720.3,168.27L720.7,168.37L721.2,168.46L721.6,168.56L722.0,168.65L722.4,168.75L722.8,168.84L723.3,168.94L723.7,169.04L724.1,169.14L724.5,169.23L724.9,169.33L725.4,169.43L725.8,169.53L726.2,169.62L726.6,169.72L727.0,169.81L727.5,169.91L727.9,170.00L728.3,170.10L728.7,170.19L729.1,170.28L729.6,170.37L730.0,170.47L730.4,170.55L730.8,170.64L731.2,170.73L731.7,170.81L732.1,170.90L732.5,170.98L732.9,171.06L733.3,171.14L733.8,171.22L734.2,171.30L734.6,171.38L735.0,171.45L735.4,171.52L735.9,171.59L736.3,171.66L736.7,171.73L737.1,171.79L737.5,171.86L738.0,171.92L738.4,171.98L738.8,172.04L739.2,172.09L739.6,172.14L740.1,172.20L740.5,172.25L740.9,172.30L741.3,172.34L741.7,172.39L742.2,172.43L742.6,172.47L743.0,172.51L743.4,172.55L743.8,172.58L744.3,172.62L744.7,172.65L745.1,172.68L745.5,172.71L745.9,172.74L746.4,172.76L746.8,172.79L747.2,172.81L747.6,172.84L748.0,172.86L748.5,172.88L748.9,172.90L749.3,172.92L749.7,172.94L750.1,172.95L750.6,172.97L751.0,172.99L751.4,173.00L751.8,173.02L752.2,173.03L752.7,173.05L753.1,173.06L753.5,173.08L753.9,173.09L754.3,173.10L754.8,173.12L755.2,173.13L755.6,173.14L756.0,173.16L756.4,173.17L756.9,173.18L757.3,173.19L757.7,173.21L758.1,173.22L758.5,173.23L759.0,173.24L759.4,173.26L759.8,173.27L760.2,173.28L760.6,173.29L761.1,173.30L761.5,173.31L761.9,173.32L762.3,173.33L762.7,173.34L763.2,173.35L763.6,173.36L764.0,173.37L764.4,173.38L764.8,173.39L765.3,173.40L765.7,173.41L766.1,173.41L766.5,173.42L766.9,173.43L767.4,173.44L767.8,173.44L768.2,173.45L768.6,173.45L769.0,173.46L769.5,173.46L769.9,173.47L770.3,173.47L770.7,173.48L771.1,173.48L771.6,173.48L772.0,173.49L772.4,173.49L772.4,173.5" fill="#ff7f0e" fill-opacity="0.45" stroke="#5a5a5a" stroke-width="1.8" stroke-linejoin="round"/>
<line x1="706.4" x2="706.4" y1="173.5" y2="166.5" stroke="#333" stroke-opacity="0.7" stroke-width="1.3" stroke-dasharray="2.5,2.5"/>
<g fill="#c5b0d5" fill-opacity="0.47" stroke="#c5b0d5" stroke-opacity="0.79" stroke-width="1.3"><circle cx="679.7" cy="180.5" r="5.2"/><circle cx="686.0" cy="182.6" r="5.2"/><circle cx="692.0" cy="185.0" r="5.2"/><circle cx="698.0" cy="187.5" r="5.2"/><circle cx="701.0" cy="183.5" r="5.2"/><circle cx="704.4" cy="186.8" r="5.2"/><circle cx="706.0" cy="182.0" r="5.2"/><circle cx="710.0" cy="185.4" r="5.2"/><circle cx="717.8" cy="185.4" r="5.2"/><circle cx="721.4" cy="181.9" r="5.2"/><circle cx="727.0" cy="187.8" r="5.2"/><circle cx="731.3" cy="181.2" r="5.2"/><circle cx="735.5" cy="181.9" r="5.2"/><circle cx="734.0" cy="186.5" r="5.2"/></g>
<path d="M658.9,188.0L658.9,187.88L659.2,187.87L659.5,187.86L659.9,187.86L660.2,187.85L660.5,187.84L660.8,187.83L661.2,187.82L661.5,187.81L661.8,187.80L662.1,187.79L662.4,187.78L662.8,187.77L663.1,187.76L663.4,187.74L663.7,187.73L664.1,187.71L664.4,187.70L664.7,187.68L665.0,187.66L665.3,187.65L665.7,187.63L666.0,187.61L666.3,187.59L666.6,187.56L666.9,187.54L667.3,187.52L667.6,187.49L667.9,187.47L668.2,187.44L668.6,187.41L668.9,187.38L669.2,187.35L669.5,187.32L669.8,187.28L670.2,187.25L670.5,187.21L670.8,187.18L671.1,187.14L671.5,187.10L671.8,187.06L672.1,187.01L672.4,186.97L672.7,186.92L673.1,186.88L673.4,186.83L673.7,186.78L674.0,186.73L674.4,186.68L674.7,186.62L675.0,186.57L675.3,186.51L675.6,186.45L676.0,186.39L676.3,186.33L676.6,186.27L676.9,186.20L677.3,186.14L677.6,186.07L677.9,186.00L678.2,185.93L678.5,185.86L678.9,185.79L679.2,185.72L679.5,185.64L679.8,185.57L680.2,185.49L680.5,185.41L680.8,185.33L681.1,185.25L681.4,185.17L681.8,185.09L682.1,185.00L682.4,184.92L682.7,184.83L683.0,184.75L683.4,184.66L683.7,184.57L684.0,184.49L684.3,184.40L684.7,184.31L685.0,184.22L685.3,184.13L685.6,184.04L685.9,183.95L686.3,183.86L686.6,183.77L686.9,183.68L687.2,183.59L687.6,183.50L687.9,183.41L688.2,183.32L688.5,183.23L688.8,183.14L689.2,183.06L689.5,182.97L689.8,182.88L690.1,182.80L690.5,182.71L690.8,182.63L691.1,182.55L691.4,182.47L691.7,182.39L692.1,182.31L692.4,182.23L692.7,182.16L693.0,182.09L693.4,182.01L693.7,181.94L694.0,181.88L694.3,181.81L694.6,181.75L695.0,181.68L695.3,181.62L695.6,181.57L695.9,181.51L696.3,181.46L696.6,181.41L696.9,181.36L697.2,181.31L697.5,181.27L697.9,181.23L698.2,181.19L698.5,181.16L698.8,181.13L699.1,181.10L699.5,181.07L699.8,181.05L700.1,181.02L700.4,181.01L700.8,180.99L701.1,180.98L701.4,180.97L701.7,180.96L702.0,180.96L702.4,180.96L702.7,180.96L703.0,180.97L703.3,180.98L703.7,180.99L704.0,181.00L704.3,181.02L704.6,181.04L704.9,181.06L705.3,181.08L705.6,181.11L705.9,181.14L706.2,181.17L706.6,181.21L706.9,181.25L707.2,181.29L707.5,181.33L707.8,181.37L708.2,181.42L708.5,181.47L708.8,181.52L709.1,181.57L709.5,181.62L709.8,181.68L710.1,181.74L710.4,181.80L710.7,181.86L711.1,181.92L711.4,181.98L711.7,182.05L712.0,182.12L712.4,182.18L712.7,182.25L713.0,182.32L713.3,182.39L713.6,182.46L714.0,182.54L714.3,182.61L714.6,182.68L714.9,182.76L715.2,182.83L715.6,182.90L715.9,182.98L716.2,183.05L716.5,183.13L716.9,183.20L717.2,183.28L717.5,183.36L717.8,183.43L718.1,183.51L718.5,183.58L718.8,183.66L719.1,183.73L719.4,183.80L719.8,183.88L720.1,183.95L720.4,184.02L720.7,184.10L721.0,184.17L721.4,184.24L721.7,184.31L722.0,184.38L722.3,184.45L722.7,184.52L723.0,184.59L723.3,184.65L723.6,184.72L723.9,184.79L724.3,184.85L724.6,184.92L724.9,184.98L725.2,185.04L725.6,185.11L725.9,185.17L726.2,185.23L726.5,185.29L726.8,185.35L727.2,185.41L727.5,185.47L727.8,185.52L728.1,185.58L728.5,185.64L728.8,185.69L729.1,185.74L729.4,185.80L729.7,185.85L730.1,185.90L730.4,185.95L730.7,186.01L731.0,186.06L731.4,186.10L731.7,186.15L732.0,186.20L732.3,186.25L732.6,186.29L733.0,186.34L733.3,186.39L733.6,186.43L733.9,186.47L734.2,186.52L734.6,186.56L734.9,186.60L735.2,186.64L735.5,186.68L735.9,186.72L736.2,186.76L736.5,186.80L736.8,186.84L737.1,186.87L737.5,186.91L737.8,186.94L738.1,186.98L738.4,187.01L738.8,187.05L739.1,187.08L739.4,187.11L739.7,187.14L740.0,187.17L740.4,187.20L740.7,187.23L741.0,187.26L741.3,187.29L741.7,187.31L742.0,187.34L742.3,187.37L742.6,187.39L742.9,187.41L743.3,187.44L743.6,187.46L743.9,187.48L744.2,187.50L744.6,187.52L744.9,187.54L745.2,187.56L745.5,187.58L745.8,187.60L746.2,187.62L746.5,187.63L746.8,187.65L747.1,187.67L747.5,187.68L747.8,187.70L748.1,187.71L748.4,187.72L748.7,187.74L749.1,187.75L749.4,187.76L749.7,187.77L750.0,187.78L750.3,187.79L750.7,187.80L751.0,187.81L751.3,187.82L751.6,187.83L752.0,187.84L752.3,187.84L752.6,187.85L752.9,187.86L753.2,187.86L753.6,187.87L753.9,187.88L754.2,187.88L754.5,187.89L754.9,187.89L755.2,187.90L755.5,187.90L755.5,188.0" fill="#c5b0d5" fill-opacity="0.45" stroke="#5a5a5a" stroke-width="1.8" stroke-linejoin="round"/>
<line x1="704.2" x2="704.2" y1="188.0" y2="181.0" stroke="#333" stroke-opacity="0.7" stroke-width="1.3" stroke-dasharray="2.5,2.5"/>
<g fill="#ff9896" fill-opacity="0.47" stroke="#ff9896" stroke-opacity="0.79" stroke-width="1.3"><circle cx="673.3" cy="198.9" r="5.2"/><circle cx="684.6" cy="198.9" r="5.2"/><circle cx="691.0" cy="195.3" r="5.2"/><circle cx="692.4" cy="202.4" r="5.2"/><circle cx="697.0" cy="199.4" r="5.2"/><circle cx="700.0" cy="196.9" r="5.2"/><circle cx="704.0" cy="201.4" r="5.2"/><circle cx="708.0" cy="198.4" r="5.2"/><circle cx="710.0" cy="195.9" r="5.2"/><circle cx="712.2" cy="194.6" r="5.2"/><circle cx="714.0" cy="200.4" r="5.2"/><circle cx="716.4" cy="200.3" r="5.2"/><circle cx="718.0" cy="197.4" r="5.2"/><circle cx="720.7" cy="202.4" r="5.2"/><circle cx="725.0" cy="198.9" r="5.2"/><circle cx="733.4" cy="196.7" r="5.2"/><circle cx="734.8" cy="201.7" r="5.2"/></g>
<path d="M654.2,202.4L654.2,202.34L654.5,202.34L654.9,202.33L655.2,202.33L655.6,202.32L655.9,202.31L656.2,202.31L656.6,202.30L656.9,202.29L657.2,202.29L657.6,202.28L657.9,202.27L658.3,202.26L658.6,202.25L658.9,202.24L659.3,202.23L659.6,202.21L659.9,202.20L660.3,202.19L660.6,202.17L661.0,202.16L661.3,202.14L661.6,202.13L662.0,202.11L662.3,202.09L662.6,202.07L663.0,202.06L663.3,202.04L663.7,202.01L664.0,201.99L664.3,201.97L664.7,201.95L665.0,201.92L665.3,201.90L665.7,201.87L666.0,201.84L666.4,201.81L666.7,201.79L667.0,201.76L667.4,201.73L667.7,201.69L668.0,201.66L668.4,201.63L668.7,201.59L669.1,201.56L669.4,201.52L669.7,201.48L670.1,201.45L670.4,201.41L670.7,201.37L671.1,201.33L671.4,201.28L671.8,201.24L672.1,201.20L672.4,201.15L672.8,201.11L673.1,201.06L673.4,201.02L673.8,200.97L674.1,200.92L674.5,200.87L674.8,200.82L675.1,200.77L675.5,200.72L675.8,200.67L676.1,200.62L676.5,200.57L676.8,200.51L677.2,200.46L677.5,200.40L677.8,200.35L678.2,200.29L678.5,200.24L678.8,200.18L679.2,200.12L679.5,200.06L679.9,200.01L680.2,199.95L680.5,199.89L680.9,199.83L681.2,199.77L681.6,199.71L681.9,199.65L682.2,199.58L682.6,199.52L682.9,199.46L683.2,199.40L683.6,199.33L683.9,199.27L684.3,199.20L684.6,199.14L684.9,199.07L685.3,199.01L685.6,198.94L685.9,198.88L686.3,198.81L686.6,198.74L687.0,198.67L687.3,198.61L687.6,198.54L688.0,198.47L688.3,198.40L688.6,198.33L689.0,198.26L689.3,198.20L689.7,198.13L690.0,198.06L690.3,197.99L690.7,197.92L691.0,197.85L691.3,197.78L691.7,197.71L692.0,197.64L692.4,197.57L692.7,197.50L693.0,197.43L693.4,197.36L693.7,197.30L694.0,197.23L694.4,197.16L694.7,197.09L695.1,197.03L695.4,196.96L695.7,196.90L696.1,196.83L696.4,196.77L696.7,196.70L697.1,196.64L697.4,196.58L697.8,196.52L698.1,196.46L698.4,196.40L698.8,196.34L699.1,196.29L699.4,196.23L699.8,196.18L700.1,196.13L700.5,196.07L700.8,196.03L701.1,195.98L701.5,195.93L701.8,195.89L702.1,195.84L702.5,195.80L702.8,195.76L703.2,195.72L703.5,195.69L703.8,195.65L704.2,195.62L704.5,195.59L704.9,195.56L705.2,195.54L705.5,195.51L705.9,195.49L706.2,195.47L706.5,195.46L706.9,195.44L707.2,195.43L707.6,195.42L707.9,195.41L708.2,195.40L708.6,195.40L708.9,195.40L709.2,195.40L709.6,195.40L709.9,195.41L710.3,195.42L710.6,195.43L710.9,195.44L711.3,195.46L711.6,195.47L711.9,195.49L712.3,195.52L712.6,195.54L713.0,195.57L713.3,195.60L713.6,195.63L714.0,195.66L714.3,195.70L714.6,195.73L715.0,195.77L715.3,195.81L715.7,195.86L716.0,195.90L716.3,195.95L716.7,196.00L717.0,196.05L717.3,196.10L717.7,196.16L718.0,196.21L718.4,196.27L718.7,196.33L719.0,196.39L719.4,196.46L719.7,196.52L720.0,196.59L720.4,196.65L720.7,196.72L721.1,196.79L721.4,196.86L721.7,196.94L722.1,197.01L722.4,197.08L722.7,197.16L723.1,197.23L723.4,197.31L723.8,197.39L724.1,197.47L724.4,197.55L724.8,197.63L725.1,197.71L725.4,197.79L725.8,197.87L726.1,197.96L726.5,198.04L726.8,198.12L727.1,198.20L727.5,198.29L727.8,198.37L728.1,198.46L728.5,198.54L728.8,198.62L729.2,198.71L729.5,198.79L729.8,198.87L730.2,198.96L730.5,199.04L730.9,199.12L731.2,199.20L731.5,199.29L731.9,199.37L732.2,199.45L732.5,199.53L732.9,199.61L733.2,199.69L733.6,199.76L733.9,199.84L734.2,199.92L734.6,199.99L734.9,200.07L735.2,200.14L735.6,200.21L735.9,200.28L736.3,200.35L736.6,200.42L736.9,200.49L737.3,200.56L737.6,200.62L737.9,200.69L738.3,200.75L738.6,200.81L739.0,200.87L739.3,200.93L739.6,200.99L740.0,201.04L740.3,201.10L740.6,201.15L741.0,201.20L741.3,201.25L741.7,201.30L742.0,201.35L742.3,201.39L742.7,201.44L743.0,201.48L743.3,201.52L743.7,201.56L744.0,201.60L744.4,201.64L744.7,201.68L745.0,201.71L745.4,201.75L745.7,201.78L746.0,201.81L746.4,201.84L746.7,201.87L747.1,201.90L747.4,201.92L747.7,201.95L748.1,201.97L748.4,202.00L748.7,202.02L749.1,202.04L749.4,202.06L749.8,202.08L750.1,202.10L750.4,202.12L750.8,202.13L751.1,202.15L751.4,202.16L751.8,202.18L752.1,202.19L752.5,202.20L752.8,202.22L753.1,202.23L753.5,202.24L753.8,202.25L754.1,202.26L754.5,202.27L754.8,202.28L755.2,202.28L755.5,202.29L755.5,202.4" fill="#ff9896" fill-opacity="0.45" stroke="#5a5a5a" stroke-width="1.8" stroke-linejoin="round"/>
<line x1="707.3" x2="707.3" y1="202.4" y2="195.4" stroke="#333" stroke-opacity="0.7" stroke-width="1.3" stroke-dasharray="2.5,2.5"/>
<g fill="#dbdb8d" fill-opacity="0.47" stroke="#dbdb8d" stroke-opacity="0.79" stroke-width="1.3"><circle cx="671.0" cy="213.2" r="5.2"/><circle cx="756.0" cy="212.8" r="5.2"/><circle cx="715.2" cy="213.0" r="5.2"/><circle cx="738.2" cy="215.9" r="5.2"/><circle cx="702.1" cy="210.9" r="5.2"/><circle cx="706.8" cy="216.6" r="5.2"/><circle cx="728.0" cy="215.4" r="5.2"/><circle cx="702.7" cy="213.5" r="5.2"/><circle cx="706.4" cy="210.6" r="5.2"/><circle cx="717.0" cy="212.1" r="5.2"/><circle cx="694.2" cy="210.8" r="5.2"/><circle cx="727.0" cy="214.4" r="5.2"/><circle cx="709.2" cy="213.1" r="5.2"/><circle cx="724.8" cy="212.7" r="5.2"/><circle cx="708.4" cy="215.1" r="5.2"/><circle cx="710.1" cy="216.0" r="5.2"/><circle cx="691.2" cy="214.4" r="5.2"/><circle cx="701.8" cy="216.1" r="5.2"/><circle cx="710.7" cy="216.6" r="5.2"/><circle cx="708.3" cy="215.5" r="5.2"/><circle cx="723.3" cy="211.0" r="5.2"/><circle cx="695.1" cy="212.7" r="5.2"/><circle cx="682.4" cy="211.8" r="5.2"/><circle cx="729.0" cy="212.9" r="5.2"/><circle cx="709.6" cy="213.5" r="5.2"/><circle cx="736.5" cy="210.9" r="5.2"/><circle cx="753.3" cy="214.4" r="5.2"/><circle cx="691.4" cy="214.9" r="5.2"/><circle cx="712.7" cy="214.8" r="5.2"/><circle cx="713.7" cy="216.2" r="5.2"/><circle cx="727.1" cy="216.5" r="5.2"/><circle cx="736.0" cy="214.9" r="5.2"/><circle cx="702.3" cy="212.5" r="5.2"/><circle cx="694.3" cy="215.4" r="5.2"/><circle cx="740.6" cy="213.5" r="5.2"/><circle cx="750.7" cy="214.8" r="5.2"/><circle cx="701.1" cy="211.8" r="5.2"/><circle cx="720.1" cy="215.1" r="5.2"/><circle cx="675.0" cy="213.7" r="5.2"/><circle cx="701.9" cy="211.8" r="5.2"/><circle cx="723.5" cy="212.0" r="5.2"/><circle cx="715.6" cy="210.8" r="5.2"/><circle cx="704.6" cy="216.5" r="5.2"/><circle cx="690.9" cy="213.6" r="5.2"/><circle cx="721.0" cy="215.4" r="5.2"/><circle cx="681.3" cy="210.8" r="5.2"/><circle cx="681.0" cy="215.0" r="5.2"/><circle cx="706.5" cy="211.4" r="5.2"/><circle cx="742.4" cy="213.3" r="5.2"/><circle cx="703.9" cy="211.6" r="5.2"/><circle cx="750.5" cy="211.5" r="5.2"/><circle cx="708.8" cy="211.0" r="5.2"/><circle cx="710.9" cy="210.9" r="5.2"/><circle cx="710.9" cy="214.0" r="5.2"/><circle cx="713.1" cy="212.3" r="5.2"/><circle cx="725.9" cy="210.7" r="5.2"/><circle cx="702.6" cy="211.5" r="5.2"/><circle cx="718.0" cy="213.8" r="5.2"/><circle cx="720.3" cy="211.3" r="5.2"/><circle cx="719.2" cy="211.6" r="5.2"/><circle cx="705.4" cy="213.8" r="5.2"/><circle cx="741.5" cy="213.8" r="5.2"/></g>
<circle cx="241.2" cy="213" r="6.6" fill="#e4e4b0" stroke="#000" stroke-width="1.6"/>
<path d="M230.0,216.8L230.0,216.81L231.8,216.78L233.5,216.74L235.3,216.70L237.1,216.65L238.9,216.61L240.6,216.59L242.4,216.60L244.2,216.62L246.0,216.67L247.7,216.71L249.5,216.76L251.3,216.79L253.1,216.81L254.8,216.83L256.6,216.83L258.4,216.84L260.1,216.84L261.9,216.84L263.7,216.84L265.5,216.84L267.2,216.84L269.0,216.84L270.8,216.84L272.6,216.84L274.3,216.84L276.1,216.84L277.9,216.84L279.7,216.84L281.4,216.84L283.2,216.84L285.0,216.84L286.7,216.84L288.5,216.84L290.3,216.84L292.1,216.84L293.8,216.84L295.6,216.84L297.4,216.84L299.2,216.84L300.9,216.84L302.7,216.84L304.5,216.84L306.3,216.84L308.0,216.84L309.8,216.84L311.6,216.84L313.3,216.84L315.1,216.84L316.9,216.84L318.7,216.84L320.4,216.84L322.2,216.84L324.0,216.84L325.8,216.84L327.5,216.84L329.3,216.84L331.1,216.84L332.9,216.84L334.6,216.84L336.4,216.84L338.2,216.84L339.9,216.84L341.7,216.84L343.5,216.84L345.3,216.84L347.0,216.84L348.8,216.84L350.6,216.84L352.4,216.84L354.1,216.84L355.9,216.84L357.7,216.84L359.5,216.84L361.2,216.84L363.0,216.84L364.8,216.84L366.5,216.84L368.3,216.84L370.1,216.84L371.9,216.84L373.6,216.84L375.4,216.84L377.2,216.84L379.0,216.84L380.7,216.84L382.5,216.84L384.3,216.84L386.1,216.84L387.8,216.84L389.6,216.84L391.4,216.84L393.1,216.84L394.9,216.84L396.7,216.84L398.5,216.84L400.2,216.84L402.0,216.84L403.8,216.84L405.6,216.84L407.3,216.84L409.1,216.84L410.9,216.84L412.7,216.84L414.4,216.84L416.2,216.84L418.0,216.84L419.7,216.84L421.5,216.84L423.3,216.84L425.1,216.84L426.8,216.84L428.6,216.84L430.4,216.84L432.2,216.84L433.9,216.84L435.7,216.84L437.5,216.84L439.3,216.84L441.0,216.84L442.8,216.84L444.6,216.84L446.3,216.84L448.1,216.84L449.9,216.84L451.7,216.84L453.4,216.84L455.2,216.84L457.0,216.84L458.8,216.84L460.5,216.84L462.3,216.84L464.1,216.84L465.9,216.84L467.6,216.84L469.4,216.84L471.2,216.84L472.9,216.84L474.7,216.84L476.5,216.84L478.3,216.84L480.0,216.84L481.8,216.84L483.6,216.84L485.4,216.84L487.1,216.84L488.9,216.84L490.7,216.84L492.5,216.84L494.2,216.84L496.0,216.84L497.8,216.84L499.5,216.84L501.3,216.84L503.1,216.84L504.9,216.84L506.6,216.84L508.4,216.84L510.2,216.84L512.0,216.84L513.7,216.84L515.5,216.84L517.3,216.84L519.1,216.84L520.8,216.84L522.6,216.84L524.4,216.84L526.1,216.84L527.9,216.84L529.7,216.84L531.5,216.84L533.2,216.84L535.0,216.84L536.8,216.84L538.6,216.84L540.3,216.84L542.1,216.84L543.9,216.84L545.7,216.84L547.4,216.84L549.2,216.84L551.0,216.84L552.7,216.84L554.5,216.84L556.3,216.84L558.1,216.84L559.8,216.84L561.6,216.84L563.4,216.84L565.2,216.84L566.9,216.84L568.7,216.84L570.5,216.84L572.3,216.84L574.0,216.84L575.8,216.84L577.6,216.84L579.3,216.84L581.1,216.84L582.9,216.84L584.7,216.84L586.4,216.84L588.2,216.84L590.0,216.84L591.8,216.84L593.5,216.84L595.3,216.84L597.1,216.84L598.9,216.84L600.6,216.84L602.4,216.84L604.2,216.84L605.9,216.84L607.7,216.84L609.5,216.84L611.3,216.84L613.0,216.84L614.8,216.84L616.6,216.84L618.4,216.84L620.1,216.84L621.9,216.84L623.7,216.84L625.5,216.84L627.2,216.84L629.0,216.84L630.8,216.84L632.5,216.84L634.3,216.84L636.1,216.84L637.9,216.84L639.6,216.84L641.4,216.84L643.2,216.84L645.0,216.84L646.7,216.84L648.5,216.84L650.3,216.84L652.1,216.84L653.8,216.84L655.6,216.84L657.4,216.84L659.1,216.83L660.9,216.82L662.7,216.80L664.5,216.77L666.2,216.72L668.0,216.65L669.8,216.56L671.6,216.46L673.3,216.35L675.1,216.26L676.9,216.17L678.7,216.10L680.4,216.04L682.2,215.98L684.0,215.92L685.7,215.84L687.5,215.72L689.3,215.56L691.1,215.33L692.8,215.03L694.6,214.63L696.4,214.15L698.2,213.58L699.9,212.95L701.7,212.27L703.5,211.59L705.3,210.97L707.0,210.44L708.8,210.05L710.6,209.84L712.3,209.84L714.1,210.04L715.9,210.41L717.7,210.94L719.4,211.56L721.2,212.24L723.0,212.92L724.8,213.56L726.5,214.13L728.3,214.61L730.1,215.01L731.9,215.32L733.6,215.55L735.4,215.72L737.2,215.83L738.9,215.91L740.7,215.97L742.5,216.02L744.3,216.07L746.0,216.13L747.8,216.20L749.6,216.29L751.4,216.39L753.1,216.50L754.9,216.59L756.7,216.68L758.5,216.74L760.2,216.78L762.0,216.81L762.0,216.8" fill="#dbdb8d" fill-opacity="0.45" stroke="#5a5a5a" stroke-width="1.8" stroke-linejoin="round"/>
<line x1="707.3" x2="707.3" y1="216.8" y2="210.4" stroke="#333" stroke-opacity="0.7" stroke-width="1.3" stroke-dasharray="2.5,2.5"/>
<g fill="#d62728" fill-opacity="0.47" stroke="#d62728" stroke-opacity="0.79" stroke-width="1.3"><circle cx="667.5" cy="225.5" r="5.2"/><circle cx="682.0" cy="228.2" r="5.2"/><circle cx="742.0" cy="227.1" r="5.2"/><circle cx="722.0" cy="226.2" r="5.2"/><circle cx="701.9" cy="228.2" r="5.2"/><circle cx="685.4" cy="230.2" r="5.2"/><circle cx="695.3" cy="225.7" r="5.2"/><circle cx="705.4" cy="227.6" r="5.2"/><circle cx="708.2" cy="228.1" r="5.2"/><circle cx="695.6" cy="227.6" r="5.2"/><circle cx="696.6" cy="229.2" r="5.2"/><circle cx="716.5" cy="225.6" r="5.2"/><circle cx="718.6" cy="229.2" r="5.2"/><circle cx="685.9" cy="229.5" r="5.2"/><circle cx="721.4" cy="227.0" r="5.2"/><circle cx="720.8" cy="227.9" r="5.2"/><circle cx="687.0" cy="229.0" r="5.2"/><circle cx="697.0" cy="230.5" r="5.2"/><circle cx="696.7" cy="228.2" r="5.2"/><circle cx="708.8" cy="228.4" r="5.2"/><circle cx="710.2" cy="227.5" r="5.2"/><circle cx="696.6" cy="226.9" r="5.2"/><circle cx="715.0" cy="229.3" r="5.2"/><circle cx="721.8" cy="230.6" r="5.2"/><circle cx="715.8" cy="230.7" r="5.2"/><circle cx="697.9" cy="227.5" r="5.2"/><circle cx="715.2" cy="225.0" r="5.2"/><circle cx="718.3" cy="226.3" r="5.2"/><circle cx="686.1" cy="225.0" r="5.2"/><circle cx="704.9" cy="230.1" r="5.2"/><circle cx="696.8" cy="229.7" r="5.2"/><circle cx="710.8" cy="226.4" r="5.2"/><circle cx="712.9" cy="228.4" r="5.2"/><circle cx="686.1" cy="228.3" r="5.2"/><circle cx="702.7" cy="225.7" r="5.2"/><circle cx="696.0" cy="230.6" r="5.2"/><circle cx="705.5" cy="225.0" r="5.2"/><circle cx="712.3" cy="229.9" r="5.2"/><circle cx="685.5" cy="227.3" r="5.2"/><circle cx="723.1" cy="226.8" r="5.2"/><circle cx="718.6" cy="227.4" r="5.2"/><circle cx="705.8" cy="226.5" r="5.2"/><circle cx="717.8" cy="229.1" r="5.2"/><circle cx="711.9" cy="229.6" r="5.2"/><circle cx="701.5" cy="226.8" r="5.2"/><circle cx="685.1" cy="224.9" r="5.2"/><circle cx="702.3" cy="230.7" r="5.2"/><circle cx="720.4" cy="230.4" r="5.2"/><circle cx="705.6" cy="224.7" r="5.2"/><circle cx="738.2" cy="230.7" r="5.2"/><circle cx="688.2" cy="230.2" r="5.2"/><circle cx="718.3" cy="227.8" r="5.2"/><circle cx="699.5" cy="229.0" r="5.2"/><circle cx="732.0" cy="226.5" r="5.2"/><circle cx="717.4" cy="228.1" r="5.2"/><circle cx="693.1" cy="225.9" r="5.2"/></g>
<path d="M653.7,231.3L653.7,231.22L654.0,231.21L654.4,231.21L654.7,231.20L655.1,231.20L655.4,231.19L655.7,231.18L656.1,231.17L656.4,231.16L656.8,231.15L657.1,231.14L657.4,231.13L657.8,231.12L658.1,231.11L658.5,231.10L658.8,231.09L659.1,231.08L659.5,231.06L659.8,231.05L660.1,231.04L660.5,231.02L660.8,231.01L661.2,230.99L661.5,230.98L661.8,230.96L662.2,230.95L662.5,230.93L662.9,230.92L663.2,230.90L663.5,230.89L663.9,230.87L664.2,230.86L664.6,230.84L664.9,230.83L665.2,230.81L665.6,230.80L665.9,230.78L666.3,230.77L666.6,230.75L666.9,230.74L667.3,230.72L667.6,230.71L668.0,230.69L668.3,230.68L668.6,230.66L669.0,230.64L669.3,230.63L669.6,230.61L670.0,230.59L670.3,230.57L670.7,230.55L671.0,230.53L671.3,230.50L671.7,230.48L672.0,230.46L672.4,230.43L672.7,230.40L673.0,230.37L673.4,230.34L673.7,230.30L674.1,230.27L674.4,230.23L674.7,230.19L675.1,230.15L675.4,230.10L675.8,230.05L676.1,230.00L676.4,229.95L676.8,229.89L677.1,229.84L677.5,229.78L677.8,229.71L678.1,229.65L678.5,229.58L678.8,229.51L679.2,229.44L679.5,229.36L679.8,229.29L680.2,229.21L680.5,229.13L680.8,229.05L681.2,228.96L681.5,228.88L681.9,228.79L682.2,228.70L682.5,228.61L682.9,228.52L683.2,228.43L683.6,228.34L683.9,228.24L684.2,228.15L684.6,228.06L684.9,227.96L685.3,227.87L685.6,227.78L685.9,227.68L686.3,227.59L686.6,227.50L687.0,227.40L687.3,227.31L687.6,227.22L688.0,227.13L688.3,227.04L688.7,226.95L689.0,226.87L689.3,226.78L689.7,226.69L690.0,226.61L690.3,226.53L690.7,226.44L691.0,226.36L691.4,226.28L691.7,226.21L692.0,226.13L692.4,226.05L692.7,225.98L693.1,225.91L693.4,225.83L693.7,225.76L694.1,225.69L694.4,225.63L694.8,225.56L695.1,225.50L695.4,225.43L695.8,225.37L696.1,225.31L696.5,225.25L696.8,225.19L697.1,225.14L697.5,225.08L697.8,225.03L698.2,224.98L698.5,224.93L698.8,224.88L699.2,224.83L699.5,224.79L699.8,224.74L700.2,224.70L700.5,224.66L700.9,224.62L701.2,224.59L701.5,224.55L701.9,224.52L702.2,224.49L702.6,224.46L702.9,224.44L703.2,224.41L703.6,224.39L703.9,224.37L704.3,224.35L704.6,224.33L704.9,224.32L705.3,224.31L705.6,224.30L706.0,224.29L706.3,224.28L706.6,224.28L707.0,224.28L707.3,224.28L707.7,224.28L708.0,224.29L708.3,224.30L708.7,224.31L709.0,224.32L709.4,224.33L709.7,224.35L710.0,224.36L710.4,224.38L710.7,224.41L711.0,224.43L711.4,224.46L711.7,224.48L712.1,224.51L712.4,224.54L712.7,224.58L713.1,224.61L713.4,224.65L713.8,224.69L714.1,224.73L714.4,224.77L714.8,224.81L715.1,224.85L715.5,224.90L715.8,224.95L716.1,224.99L716.5,225.04L716.8,225.09L717.2,225.15L717.5,225.20L717.8,225.25L718.2,225.31L718.5,225.36L718.9,225.42L719.2,225.47L719.5,225.53L719.9,225.59L720.2,225.65L720.5,225.71L720.9,225.77L721.2,225.83L721.6,225.89L721.9,225.95L722.2,226.01L722.6,226.07L722.9,226.13L723.3,226.19L723.6,226.25L723.9,226.32L724.3,226.38L724.6,226.44L725.0,226.50L725.3,226.56L725.6,226.63L726.0,226.69L726.3,226.75L726.7,226.81L727.0,226.87L727.3,226.93L727.7,227.00L728.0,227.06L728.4,227.12L728.7,227.18L729.0,227.24L729.4,227.31L729.7,227.37L730.0,227.43L730.4,227.49L730.7,227.56L731.1,227.62L731.4,227.68L731.7,227.75L732.1,227.81L732.4,227.88L732.8,227.94L733.1,228.01L733.4,228.07L733.8,228.14L734.1,228.21L734.5,228.28L734.8,228.34L735.1,228.41L735.5,228.48L735.8,228.55L736.2,228.62L736.5,228.69L736.8,228.76L737.2,228.83L737.5,228.90L737.9,228.97L738.2,229.04L738.5,229.12L738.9,229.19L739.2,229.26L739.6,229.33L739.9,229.40L740.2,229.47L740.6,229.54L740.9,229.61L741.2,229.68L741.6,229.74L741.9,229.81L742.3,229.87L742.6,229.94L742.9,230.00L743.3,230.06L743.6,230.12L744.0,230.18L744.3,230.24L744.6,230.30L745.0,230.35L745.3,230.40L745.7,230.45L746.0,230.50L746.3,230.55L746.7,230.60L747.0,230.64L747.4,230.68L747.7,230.72L748.0,230.76L748.4,230.79L748.7,230.83L749.1,230.86L749.4,230.89L749.7,230.92L750.1,230.95L750.4,230.97L750.7,231.00L751.1,231.02L751.4,231.04L751.8,231.06L752.1,231.08L752.4,231.09L752.8,231.11L753.1,231.13L753.5,231.14L753.8,231.15L754.1,231.16L754.5,231.17L754.8,231.18L755.2,231.19L755.5,231.20L755.5,231.3" fill="#d62728" fill-opacity="0.45" stroke="#5a5a5a" stroke-width="1.8" stroke-linejoin="round"/>
<line x1="708.3" x2="708.3" y1="231.3" y2="224.3" stroke="#333" stroke-opacity="0.7" stroke-width="1.3" stroke-dasharray="2.5,2.5"/>
<g fill="#ffbb78" fill-opacity="0.47" stroke="#ffbb78" stroke-opacity="0.79" stroke-width="1.3"><circle cx="775.3" cy="245.1" r="5.2"/><circle cx="678.0" cy="241.2" r="5.2"/><circle cx="747.0" cy="241.2" r="5.2"/><circle cx="737.9" cy="239.5" r="5.2"/><circle cx="723.3" cy="244.0" r="5.2"/><circle cx="738.8" cy="244.2" r="5.2"/><circle cx="708.0" cy="241.4" r="5.2"/><circle cx="719.3" cy="239.7" r="5.2"/><circle cx="697.4" cy="239.5" r="5.2"/><circle cx="705.2" cy="240.4" r="5.2"/><circle cx="743.7" cy="241.6" r="5.2"/><circle cx="718.5" cy="243.2" r="5.2"/><circle cx="709.1" cy="240.4" r="5.2"/><circle cx="690.4" cy="241.4" r="5.2"/><circle cx="693.7" cy="239.8" r="5.2"/><circle cx="706.1" cy="240.6" r="5.2"/><circle cx="691.2" cy="242.3" r="5.2"/><circle cx="714.4" cy="241.3" r="5.2"/><circle cx="707.9" cy="244.2" r="5.2"/><circle cx="697.2" cy="243.7" r="5.2"/><circle cx="731.5" cy="240.5" r="5.2"/><circle cx="741.1" cy="240.9" r="5.2"/><circle cx="710.5" cy="245.3" r="5.2"/><circle cx="684.6" cy="244.2" r="5.2"/><circle cx="709.6" cy="242.8" r="5.2"/><circle cx="720.2" cy="241.8" r="5.2"/><circle cx="700.3" cy="243.2" r="5.2"/><circle cx="725.9" cy="243.1" r="5.2"/><circle cx="742.4" cy="239.4" r="5.2"/></g>
<path d="M663.6,245.7L663.6,245.56L664.0,245.55L664.4,245.53L664.9,245.51L665.3,245.49L665.7,245.47L666.1,245.45L666.6,245.43L667.0,245.40L667.4,245.37L667.8,245.34L668.2,245.31L668.7,245.27L669.1,245.24L669.5,245.20L669.9,245.15L670.4,245.11L670.8,245.06L671.2,245.01L671.6,244.96L672.0,244.90L672.5,244.84L672.9,244.78L673.3,244.72L673.7,244.65L674.2,244.58L674.6,244.51L675.0,244.43L675.4,244.35L675.8,244.27L676.3,244.19L676.7,244.10L677.1,244.02L677.5,243.93L678.0,243.83L678.4,243.74L678.8,243.64L679.2,243.55L679.6,243.45L680.1,243.35L680.5,243.24L680.9,243.14L681.3,243.04L681.8,242.93L682.2,242.82L682.6,242.72L683.0,242.61L683.4,242.50L683.9,242.39L684.3,242.28L684.7,242.18L685.1,242.07L685.6,241.96L686.0,241.85L686.4,241.74L686.8,241.64L687.3,241.53L687.7,241.42L688.1,241.32L688.5,241.21L688.9,241.11L689.4,241.01L689.8,240.91L690.2,240.80L690.6,240.71L691.1,240.61L691.5,240.51L691.9,240.41L692.3,240.32L692.7,240.23L693.2,240.14L693.6,240.05L694.0,239.96L694.4,239.88L694.9,239.79L695.3,239.71L695.7,239.64L696.1,239.56L696.5,239.49L697.0,239.42L697.4,239.35L697.8,239.28L698.2,239.22L698.7,239.16L699.1,239.11L699.5,239.06L699.9,239.01L700.3,238.96L700.8,238.92L701.2,238.88L701.6,238.85L702.0,238.82L702.5,238.79L702.9,238.77L703.3,238.75L703.7,238.74L704.1,238.73L704.6,238.72L705.0,238.72L705.4,238.72L705.8,238.73L706.3,238.74L706.7,238.75L707.1,238.77L707.5,238.79L707.9,238.82L708.4,238.85L708.8,238.88L709.2,238.92L709.6,238.96L710.1,239.00L710.5,239.05L710.9,239.10L711.3,239.15L711.7,239.21L712.2,239.27L712.6,239.33L713.0,239.40L713.4,239.47L713.9,239.54L714.3,239.61L714.7,239.69L715.1,239.76L715.5,239.84L716.0,239.92L716.4,240.00L716.8,240.08L717.2,240.17L717.7,240.25L718.1,240.34L718.5,240.42L718.9,240.51L719.3,240.60L719.8,240.69L720.2,240.77L720.6,240.86L721.0,240.95L721.5,241.04L721.9,241.12L722.3,241.21L722.7,241.29L723.1,241.38L723.6,241.46L724.0,241.54L724.4,241.63L724.8,241.71L725.3,241.79L725.7,241.86L726.1,241.94L726.5,242.02L727.0,242.09L727.4,242.16L727.8,242.24L728.2,242.31L728.6,242.37L729.1,242.44L729.5,242.51L729.9,242.57L730.3,242.63L730.8,242.69L731.2,242.75L731.6,242.81L732.0,242.87L732.4,242.93L732.9,242.98L733.3,243.04L733.7,243.09L734.1,243.14L734.6,243.20L735.0,243.25L735.4,243.30L735.8,243.35L736.2,243.40L736.7,243.45L737.1,243.50L737.5,243.54L737.9,243.59L738.4,243.64L738.8,243.69L739.2,243.74L739.6,243.79L740.0,243.84L740.5,243.89L740.9,243.94L741.3,243.99L741.7,244.04L742.2,244.09L742.6,244.14L743.0,244.19L743.4,244.24L743.8,244.29L744.3,244.35L744.7,244.40L745.1,244.45L745.5,244.50L746.0,244.55L746.4,244.60L746.8,244.65L747.2,244.70L747.6,244.75L748.1,244.80L748.5,244.85L748.9,244.90L749.3,244.94L749.8,244.99L750.2,245.03L750.6,245.07L751.0,245.11L751.4,245.15L751.9,245.19L752.3,245.23L752.7,245.26L753.1,245.29L753.6,245.32L754.0,245.35L754.4,245.38L754.8,245.41L755.2,245.43L755.7,245.45L756.1,245.47L756.5,245.49L756.9,245.50L757.4,245.52L757.8,245.53L758.2,245.54L758.6,245.55L759.0,245.55L759.5,245.56L759.9,245.56L760.3,245.56L760.7,245.56L761.2,245.56L761.6,245.55L762.0,245.55L762.4,245.54L762.8,245.53L763.3,245.52L763.7,245.51L764.1,245.50L764.5,245.48L765.0,245.47L765.4,245.45L765.8,245.43L766.2,245.42L766.6,245.40L767.1,245.38L767.5,245.36L767.9,245.34L768.3,245.32L768.8,245.30L769.2,245.28L769.6,245.26L770.0,245.24L770.5,245.22L770.9,245.21L771.3,245.19L771.7,245.17L772.1,245.16L772.6,245.15L773.0,245.14L773.4,245.13L773.8,245.12L774.3,245.12L774.7,245.11L775.1,245.11L775.5,245.11L775.9,245.11L776.4,245.12L776.8,245.12L777.2,245.13L777.6,245.14L778.1,245.15L778.5,245.16L778.9,245.18L779.3,245.19L779.7,245.21L780.2,245.23L780.6,245.24L781.0,245.26L781.4,245.28L781.9,245.30L782.3,245.32L782.7,245.34L783.1,245.37L783.5,245.39L784.0,245.41L784.4,245.43L784.8,245.45L785.2,245.47L785.7,245.48L786.1,245.50L786.5,245.52L786.9,245.54L787.3,245.55L787.8,245.57L788.2,245.58L788.6,245.59L789.0,245.61L789.5,245.62L789.9,245.63L790.3,245.64L790.3,245.7" fill="#ffbb78" fill-opacity="0.45" stroke="#5a5a5a" stroke-width="1.8" stroke-linejoin="round"/>
<line x1="710.4" x2="710.4" y1="245.7" y2="239.0" stroke="#333" stroke-opacity="0.7" stroke-width="1.3" stroke-dasharray="2.5,2.5"/>
<g fill="#c5b0d5" fill-opacity="0.47" stroke="#c5b0d5" stroke-opacity="0.79" stroke-width="1.3"><circle cx="658.0" cy="256.4" r="5.2"/><circle cx="660.5" cy="256.4" r="5.2"/><circle cx="680.0" cy="257.2" r="5.2"/><circle cx="742.0" cy="259.5" r="5.2"/><circle cx="686.1" cy="259.1" r="5.2"/><circle cx="710.7" cy="258.3" r="5.2"/><circle cx="740.8" cy="254.1" r="5.2"/><circle cx="727.3" cy="259.6" r="5.2"/><circle cx="683.9" cy="256.8" r="5.2"/><circle cx="719.0" cy="259.9" r="5.2"/><circle cx="740.6" cy="257.6" r="5.2"/><circle cx="703.3" cy="253.6" r="5.2"/><circle cx="686.8" cy="254.5" r="5.2"/><circle cx="720.3" cy="256.9" r="5.2"/><circle cx="733.9" cy="258.2" r="5.2"/><circle cx="708.1" cy="258.2" r="5.2"/><circle cx="703.5" cy="256.4" r="5.2"/><circle cx="703.8" cy="257.1" r="5.2"/><circle cx="717.4" cy="258.2" r="5.2"/><circle cx="740.4" cy="259.7" r="5.2"/><circle cx="701.6" cy="254.9" r="5.2"/><circle cx="684.9" cy="253.5" r="5.2"/><circle cx="721.0" cy="253.7" r="5.2"/><circle cx="690.4" cy="256.7" r="5.2"/><circle cx="723.8" cy="257.4" r="5.2"/><circle cx="688.7" cy="259.2" r="5.2"/><circle cx="700.7" cy="253.5" r="5.2"/><circle cx="685.1" cy="257.1" r="5.2"/><circle cx="693.5" cy="259.5" r="5.2"/><circle cx="685.3" cy="253.7" r="5.2"/><circle cx="706.7" cy="255.7" r="5.2"/><circle cx="706.4" cy="255.1" r="5.2"/></g>
<path d="M647.0,260.2L647.0,260.05L647.3,260.04L647.7,260.02L648.0,260.00L648.4,259.98L648.7,259.96L649.1,259.94L649.4,259.91L649.8,259.89L650.1,259.86L650.5,259.83L650.8,259.79L651.2,259.76L651.5,259.72L651.8,259.68L652.2,259.65L652.5,259.61L652.9,259.57L653.2,259.52L653.6,259.48L653.9,259.44L654.3,259.40L654.6,259.36L655.0,259.32L655.3,259.28L655.6,259.24L656.0,259.21L656.3,259.18L656.7,259.15L657.0,259.12L657.4,259.10L657.7,259.08L658.1,259.06L658.4,259.05L658.8,259.04L659.1,259.04L659.5,259.04L659.8,259.04L660.1,259.05L660.5,259.06L660.8,259.08L661.2,259.10L661.5,259.12L661.9,259.15L662.2,259.18L662.6,259.21L662.9,259.25L663.3,259.28L663.6,259.32L664.0,259.36L664.3,259.40L664.6,259.44L665.0,259.48L665.3,259.52L665.7,259.56L666.0,259.60L666.4,259.64L666.7,259.68L667.1,259.71L667.4,259.75L667.8,259.78L668.1,259.81L668.5,259.83L668.8,259.86L669.1,259.88L669.5,259.90L669.8,259.91L670.2,259.92L670.5,259.94L670.9,259.94L671.2,259.95L671.6,259.95L671.9,259.95L672.3,259.95L672.6,259.94L673.0,259.93L673.3,259.92L673.6,259.91L674.0,259.89L674.3,259.87L674.7,259.85L675.0,259.82L675.4,259.80L675.7,259.77L676.1,259.74L676.4,259.71L676.8,259.67L677.1,259.64L677.4,259.60L677.8,259.56L678.1,259.52L678.5,259.47L678.8,259.43L679.2,259.38L679.5,259.34L679.9,259.29L680.2,259.24L680.6,259.19L680.9,259.14L681.3,259.09L681.6,259.04L681.9,258.99L682.3,258.94L682.6,258.89L683.0,258.83L683.3,258.78L683.7,258.73L684.0,258.68L684.4,258.63L684.7,258.58L685.1,258.52L685.4,258.47L685.8,258.42L686.1,258.37L686.4,258.32L686.8,258.26L687.1,258.21L687.5,258.15L687.8,258.10L688.2,258.04L688.5,257.99L688.9,257.93L689.2,257.87L689.6,257.81L689.9,257.75L690.2,257.68L690.6,257.62L690.9,257.55L691.3,257.48L691.6,257.41L692.0,257.34L692.3,257.26L692.7,257.18L693.0,257.10L693.4,257.02L693.7,256.94L694.1,256.85L694.4,256.76L694.7,256.67L695.1,256.58L695.4,256.49L695.8,256.39L696.1,256.29L696.5,256.19L696.8,256.09L697.2,255.99L697.5,255.89L697.9,255.78L698.2,255.68L698.6,255.57L698.9,255.46L699.2,255.35L699.6,255.25L699.9,255.14L700.3,255.03L700.6,254.92L701.0,254.82L701.3,254.71L701.7,254.61L702.0,254.51L702.4,254.41L702.7,254.31L703.1,254.22L703.4,254.12L703.7,254.03L704.1,253.95L704.4,253.86L704.8,253.78L705.1,253.71L705.5,253.64L705.8,253.57L706.2,253.51L706.5,253.45L706.9,253.39L707.2,253.35L707.5,253.30L707.9,253.27L708.2,253.23L708.6,253.21L708.9,253.19L709.3,253.17L709.6,253.16L710.0,253.16L710.3,253.16L710.7,253.17L711.0,253.18L711.4,253.20L711.7,253.23L712.0,253.26L712.4,253.30L712.7,253.34L713.1,253.39L713.4,253.44L713.8,253.50L714.1,253.56L714.5,253.62L714.8,253.70L715.2,253.77L715.5,253.85L715.9,253.93L716.2,254.02L716.5,254.11L716.9,254.20L717.2,254.30L717.6,254.39L717.9,254.49L718.3,254.59L718.6,254.70L719.0,254.80L719.3,254.91L719.7,255.01L720.0,255.12L720.4,255.23L720.7,255.34L721.0,255.44L721.4,255.55L721.7,255.66L722.1,255.76L722.4,255.87L722.8,255.97L723.1,256.08L723.5,256.18L723.8,256.28L724.2,256.38L724.5,256.47L724.8,256.57L725.2,256.66L725.5,256.75L725.9,256.84L726.2,256.93L726.6,257.01L726.9,257.09L727.3,257.17L727.6,257.25L728.0,257.32L728.3,257.40L728.7,257.47L729.0,257.54L729.3,257.61L729.7,257.67L730.0,257.74L730.4,257.80L730.7,257.86L731.1,257.92L731.4,257.98L731.8,258.03L732.1,258.09L732.5,258.15L732.8,258.20L733.2,258.25L733.5,258.31L733.8,258.36L734.2,258.41L734.5,258.46L734.9,258.52L735.2,258.57L735.6,258.62L735.9,258.67L736.3,258.72L736.6,258.77L737.0,258.83L737.3,258.88L737.7,258.93L738.0,258.98L738.3,259.03L738.7,259.08L739.0,259.13L739.4,259.18L739.7,259.23L740.1,259.28L740.4,259.33L740.8,259.38L741.1,259.42L741.5,259.47L741.8,259.51L742.1,259.56L742.5,259.60L742.8,259.64L743.2,259.67L743.5,259.71L743.9,259.75L744.2,259.78L744.6,259.81L744.9,259.84L745.3,259.87L745.6,259.90L746.0,259.92L746.3,259.95L746.6,259.97L747.0,259.99L747.3,260.01L747.7,260.02L748.0,260.04L748.4,260.05L748.7,260.06L749.1,260.08L749.4,260.09L749.8,260.10L750.1,260.10L750.5,260.11L750.8,260.12L750.8,260.2" fill="#c5b0d5" fill-opacity="0.45" stroke="#5a5a5a" stroke-width="1.8" stroke-linejoin="round"/>
<line x1="706.8" x2="706.8" y1="260.2" y2="253.4" stroke="#333" stroke-opacity="0.7" stroke-width="1.3" stroke-dasharray="2.5,2.5"/>
<g fill="#98df8a" fill-opacity="0.47" stroke="#98df8a" stroke-opacity="0.79" stroke-width="1.3"><circle cx="660.3" cy="270.9" r="5.2"/><circle cx="751.4" cy="271.5" r="5.2"/><circle cx="680.0" cy="268.7" r="5.2"/><circle cx="742.0" cy="268.4" r="5.2"/><circle cx="710.0" cy="271.0" r="5.2"/><circle cx="726.8" cy="269.2" r="5.2"/><circle cx="713.7" cy="271.2" r="5.2"/><circle cx="700.3" cy="274.2" r="5.2"/><circle cx="692.0" cy="273.5" r="5.2"/><circle cx="713.9" cy="270.4" r="5.2"/><circle cx="682.6" cy="269.2" r="5.2"/><circle cx="718.2" cy="271.2" r="5.2"/><circle cx="720.7" cy="268.3" r="5.2"/><circle cx="729.5" cy="268.4" r="5.2"/><circle cx="712.2" cy="274.2" r="5.2"/><circle cx="686.6" cy="273.8" r="5.2"/><circle cx="690.3" cy="270.1" r="5.2"/><circle cx="716.5" cy="268.3" r="5.2"/><circle cx="733.7" cy="270.6" r="5.2"/><circle cx="703.7" cy="269.5" r="5.2"/><circle cx="710.5" cy="270.5" r="5.2"/><circle cx="702.9" cy="270.2" r="5.2"/><circle cx="731.6" cy="273.9" r="5.2"/><circle cx="723.3" cy="268.9" r="5.2"/><circle cx="726.7" cy="269.1" r="5.2"/><circle cx="689.9" cy="268.8" r="5.2"/><circle cx="692.3" cy="268.1" r="5.2"/><circle cx="697.9" cy="269.6" r="5.2"/><circle cx="711.6" cy="273.6" r="5.2"/><circle cx="717.9" cy="270.6" r="5.2"/><circle cx="713.4" cy="274.3" r="5.2"/><circle cx="703.0" cy="269.6" r="5.2"/><circle cx="685.0" cy="268.2" r="5.2"/><circle cx="714.6" cy="272.9" r="5.2"/><circle cx="709.1" cy="273.6" r="5.2"/><circle cx="716.3" cy="269.1" r="5.2"/><circle cx="702.0" cy="268.5" r="5.2"/><circle cx="730.2" cy="272.8" r="5.2"/><circle cx="738.7" cy="269.0" r="5.2"/><circle cx="683.9" cy="269.6" r="5.2"/><circle cx="717.5" cy="273.8" r="5.2"/><circle cx="721.3" cy="270.5" r="5.2"/><circle cx="716.2" cy="268.1" r="5.2"/><circle cx="685.9" cy="272.0" r="5.2"/><circle cx="698.4" cy="274.3" r="5.2"/><circle cx="706.2" cy="274.3" r="5.2"/><circle cx="681.7" cy="270.3" r="5.2"/><circle cx="708.2" cy="268.1" r="5.2"/><circle cx="735.4" cy="273.2" r="5.2"/><circle cx="711.7" cy="270.1" r="5.2"/><circle cx="722.2" cy="271.0" r="5.2"/><circle cx="689.6" cy="271.4" r="5.2"/></g>
<path d="M648.3,274.6L648.3,274.55L648.7,274.54L649.1,274.54L649.5,274.53L649.8,274.52L650.2,274.51L650.6,274.50L651.0,274.49L651.4,274.48L651.8,274.47L652.1,274.46L652.5,274.44L652.9,274.43L653.3,274.42L653.7,274.40L654.1,274.39L654.5,274.38L654.8,274.36L655.2,274.35L655.6,274.33L656.0,274.32L656.4,274.31L656.8,274.30L657.1,274.29L657.5,274.28L657.9,274.27L658.3,274.26L658.7,274.25L659.1,274.24L659.5,274.24L659.8,274.24L660.2,274.24L660.6,274.24L661.0,274.24L661.4,274.24L661.8,274.24L662.1,274.25L662.5,274.25L662.9,274.26L663.3,274.27L663.7,274.28L664.1,274.28L664.5,274.29L664.8,274.30L665.2,274.31L665.6,274.32L666.0,274.33L666.4,274.34L666.8,274.35L667.1,274.36L667.5,274.36L667.9,274.37L668.3,274.37L668.7,274.37L669.1,274.37L669.5,274.37L669.8,274.37L670.2,274.36L670.6,274.35L671.0,274.34L671.4,274.33L671.8,274.32L672.1,274.30L672.5,274.28L672.9,274.25L673.3,274.23L673.7,274.20L674.1,274.17L674.5,274.13L674.8,274.10L675.2,274.06L675.6,274.01L676.0,273.97L676.4,273.92L676.8,273.87L677.1,273.81L677.5,273.76L677.9,273.70L678.3,273.64L678.7,273.57L679.1,273.51L679.5,273.44L679.8,273.37L680.2,273.30L680.6,273.23L681.0,273.15L681.4,273.08L681.8,273.00L682.2,272.92L682.5,272.84L682.9,272.76L683.3,272.68L683.7,272.59L684.1,272.51L684.5,272.42L684.8,272.34L685.2,272.25L685.6,272.17L686.0,272.08L686.4,271.99L686.8,271.90L687.2,271.81L687.5,271.72L687.9,271.63L688.3,271.54L688.7,271.44L689.1,271.35L689.5,271.26L689.8,271.16L690.2,271.06L690.6,270.97L691.0,270.87L691.4,270.77L691.8,270.67L692.2,270.57L692.5,270.47L692.9,270.37L693.3,270.27L693.7,270.17L694.1,270.07L694.5,269.97L694.8,269.87L695.2,269.76L695.6,269.66L696.0,269.56L696.4,269.46L696.8,269.36L697.2,269.26L697.5,269.16L697.9,269.07L698.3,268.97L698.7,268.88L699.1,268.79L699.5,268.70L699.8,268.61L700.2,268.53L700.6,268.44L701.0,268.36L701.4,268.29L701.8,268.21L702.2,268.15L702.5,268.08L702.9,268.02L703.3,267.96L703.7,267.90L704.1,267.85L704.5,267.81L704.8,267.76L705.2,267.73L705.6,267.69L706.0,267.67L706.4,267.64L706.8,267.63L707.2,267.61L707.5,267.60L707.9,267.60L708.3,267.60L708.7,267.61L709.1,267.62L709.5,267.64L709.8,267.66L710.2,267.68L710.6,267.71L711.0,267.75L711.4,267.79L711.8,267.83L712.2,267.88L712.5,267.94L712.9,267.99L713.3,268.05L713.7,268.12L714.1,268.19L714.5,268.26L714.8,268.33L715.2,268.41L715.6,268.49L716.0,268.58L716.4,268.66L716.8,268.75L717.2,268.84L717.5,268.93L717.9,269.03L718.3,269.12L718.7,269.22L719.1,269.32L719.5,269.42L719.8,269.52L720.2,269.62L720.6,269.72L721.0,269.82L721.4,269.92L721.8,270.02L722.2,270.11L722.5,270.21L722.9,270.31L723.3,270.41L723.7,270.51L724.1,270.60L724.5,270.69L724.8,270.79L725.2,270.88L725.6,270.97L726.0,271.06L726.4,271.14L726.8,271.23L727.2,271.31L727.5,271.39L727.9,271.47L728.3,271.55L728.7,271.62L729.1,271.70L729.5,271.77L729.8,271.84L730.2,271.91L730.6,271.98L731.0,272.05L731.4,272.11L731.8,272.17L732.2,272.24L732.5,272.30L732.9,272.36L733.3,272.42L733.7,272.48L734.1,272.53L734.5,272.59L734.9,272.65L735.2,272.70L735.6,272.76L736.0,272.81L736.4,272.86L736.8,272.92L737.2,272.97L737.5,273.02L737.9,273.08L738.3,273.13L738.7,273.18L739.1,273.23L739.5,273.28L739.9,273.33L740.2,273.37L740.6,273.42L741.0,273.46L741.4,273.51L741.8,273.55L742.2,273.59L742.5,273.63L742.9,273.67L743.3,273.71L743.7,273.74L744.1,273.77L744.5,273.80L744.9,273.83L745.2,273.86L745.6,273.89L746.0,273.91L746.4,273.93L746.8,273.95L747.2,273.97L747.5,273.99L747.9,274.01L748.3,274.03L748.7,274.04L749.1,274.06L749.5,274.07L749.9,274.08L750.2,274.10L750.6,274.11L751.0,274.12L751.4,274.13L751.8,274.15L752.2,274.16L752.5,274.18L752.9,274.19L753.3,274.20L753.7,274.22L754.1,274.23L754.5,274.25L754.9,274.26L755.2,274.28L755.6,274.30L756.0,274.31L756.4,274.33L756.8,274.35L757.2,274.36L757.5,274.38L757.9,274.39L758.3,274.41L758.7,274.42L759.1,274.44L759.5,274.45L759.9,274.46L760.2,274.48L760.6,274.49L761.0,274.50L761.4,274.51L761.8,274.52L762.2,274.53L762.5,274.54L762.9,274.54L763.3,274.55L763.7,274.56L763.7,274.6" fill="#98df8a" fill-opacity="0.45" stroke="#5a5a5a" stroke-width="1.8" stroke-linejoin="round"/>
<line x1="708.9" x2="708.9" y1="274.6" y2="267.6" stroke="#333" stroke-opacity="0.7" stroke-width="1.3" stroke-dasharray="2.5,2.5"/>
<g fill="#aec7e8" fill-opacity="0.47" stroke="#aec7e8" stroke-opacity="0.79" stroke-width="1.3"><circle cx="666.6" cy="285.3" r="5.2"/><circle cx="745.0" cy="286.9" r="5.2"/><circle cx="680.0" cy="285.4" r="5.2"/><circle cx="740.0" cy="288.1" r="5.2"/><circle cx="694.4" cy="283.8" r="5.2"/><circle cx="718.8" cy="287.1" r="5.2"/><circle cx="698.7" cy="287.0" r="5.2"/><circle cx="709.0" cy="287.1" r="5.2"/><circle cx="704.5" cy="287.4" r="5.2"/><circle cx="720.4" cy="283.4" r="5.2"/><circle cx="698.9" cy="286.4" r="5.2"/><circle cx="698.3" cy="288.3" r="5.2"/><circle cx="683.4" cy="283.6" r="5.2"/><circle cx="687.6" cy="283.7" r="5.2"/><circle cx="721.0" cy="288.4" r="5.2"/><circle cx="709.5" cy="288.0" r="5.2"/><circle cx="707.7" cy="288.6" r="5.2"/><circle cx="704.3" cy="285.5" r="5.2"/><circle cx="722.5" cy="284.7" r="5.2"/><circle cx="704.3" cy="287.1" r="5.2"/><circle cx="717.9" cy="283.6" r="5.2"/><circle cx="725.6" cy="287.8" r="5.2"/><circle cx="707.4" cy="286.7" r="5.2"/><circle cx="714.3" cy="286.1" r="5.2"/><circle cx="722.2" cy="286.1" r="5.2"/><circle cx="701.5" cy="285.3" r="5.2"/><circle cx="737.6" cy="285.2" r="5.2"/><circle cx="711.6" cy="287.7" r="5.2"/><circle cx="682.3" cy="288.6" r="5.2"/><circle cx="707.5" cy="286.4" r="5.2"/><circle cx="689.7" cy="286.5" r="5.2"/><circle cx="712.2" cy="286.0" r="5.2"/><circle cx="709.5" cy="288.5" r="5.2"/><circle cx="732.0" cy="283.2" r="5.2"/><circle cx="726.1" cy="288.2" r="5.2"/><circle cx="711.9" cy="288.0" r="5.2"/><circle cx="713.0" cy="285.9" r="5.2"/><circle cx="696.6" cy="285.1" r="5.2"/><circle cx="717.6" cy="288.2" r="5.2"/><circle cx="699.2" cy="283.4" r="5.2"/><circle cx="709.1" cy="285.7" r="5.2"/><circle cx="709.2" cy="284.3" r="5.2"/></g>
<path d="M656.5,289.0L656.5,288.97L656.8,288.96L657.2,288.95L657.5,288.94L657.8,288.93L658.1,288.92L658.5,288.90L658.8,288.89L659.1,288.87L659.5,288.85L659.8,288.84L660.1,288.82L660.5,288.80L660.8,288.78L661.1,288.76L661.5,288.74L661.8,288.72L662.1,288.70L662.4,288.68L662.8,288.66L663.1,288.64L663.4,288.62L663.8,288.60L664.1,288.59L664.4,288.57L664.8,288.56L665.1,288.55L665.4,288.54L665.7,288.53L666.1,288.53L666.4,288.52L666.7,288.52L667.1,288.52L667.4,288.52L667.7,288.53L668.0,288.53L668.4,288.54L668.7,288.54L669.0,288.55L669.4,288.56L669.7,288.57L670.0,288.58L670.4,288.59L670.7,288.60L671.0,288.61L671.4,288.62L671.7,288.63L672.0,288.63L672.3,288.64L672.7,288.64L673.0,288.64L673.3,288.64L673.7,288.64L674.0,288.63L674.3,288.62L674.6,288.61L675.0,288.60L675.3,288.58L675.6,288.56L676.0,288.53L676.3,288.51L676.6,288.48L677.0,288.44L677.3,288.41L677.6,288.37L678.0,288.33L678.3,288.29L678.6,288.24L678.9,288.20L679.3,288.15L679.6,288.10L679.9,288.05L680.3,287.99L680.6,287.94L680.9,287.88L681.2,287.83L681.6,287.77L681.9,287.71L682.2,287.65L682.6,287.59L682.9,287.53L683.2,287.48L683.6,287.42L683.9,287.36L684.2,287.30L684.5,287.24L684.9,287.18L685.2,287.12L685.5,287.06L685.9,287.00L686.2,286.94L686.5,286.88L686.9,286.82L687.2,286.75L687.5,286.69L687.9,286.63L688.2,286.57L688.5,286.50L688.8,286.44L689.2,286.37L689.5,286.31L689.8,286.24L690.2,286.17L690.5,286.10L690.8,286.03L691.1,285.96L691.5,285.89L691.8,285.81L692.1,285.73L692.5,285.66L692.8,285.58L693.1,285.50L693.5,285.42L693.8,285.33L694.1,285.25L694.5,285.17L694.8,285.08L695.1,284.99L695.4,284.91L695.8,284.82L696.1,284.73L696.4,284.64L696.8,284.55L697.1,284.46L697.4,284.36L697.8,284.27L698.1,284.18L698.4,284.09L698.7,284.00L699.1,283.91L699.4,283.81L699.7,283.72L700.1,283.64L700.4,283.55L700.7,283.46L701.0,283.37L701.4,283.29L701.7,283.21L702.0,283.12L702.4,283.05L702.7,282.97L703.0,282.89L703.4,282.82L703.7,282.75L704.0,282.68L704.4,282.62L704.7,282.55L705.0,282.49L705.3,282.44L705.7,282.39L706.0,282.34L706.3,282.29L706.7,282.25L707.0,282.21L707.3,282.18L707.6,282.14L708.0,282.12L708.3,282.09L708.6,282.08L709.0,282.06L709.3,282.05L709.6,282.04L710.0,282.04L710.3,282.04L710.6,282.05L711.0,282.06L711.3,282.07L711.6,282.09L711.9,282.11L712.3,282.14L712.6,282.17L712.9,282.20L713.3,282.24L713.6,282.28L713.9,282.33L714.2,282.37L714.6,282.43L714.9,282.48L715.2,282.54L715.6,282.60L715.9,282.67L716.2,282.73L716.6,282.80L716.9,282.87L717.2,282.95L717.5,283.03L717.9,283.11L718.2,283.19L718.5,283.27L718.9,283.35L719.2,283.44L719.5,283.53L719.9,283.61L720.2,283.70L720.5,283.79L720.9,283.88L721.2,283.97L721.5,284.07L721.8,284.16L722.2,284.25L722.5,284.34L722.8,284.43L723.2,284.52L723.5,284.62L723.8,284.71L724.1,284.80L724.5,284.88L724.8,284.97L725.1,285.06L725.5,285.15L725.8,285.23L726.1,285.31L726.5,285.40L726.8,285.48L727.1,285.56L727.5,285.64L727.8,285.71L728.1,285.79L728.4,285.87L728.8,285.94L729.1,286.01L729.4,286.08L729.8,286.15L730.1,286.22L730.4,286.28L730.8,286.35L731.1,286.41L731.4,286.47L731.7,286.54L732.1,286.60L732.4,286.66L732.7,286.71L733.1,286.77L733.4,286.83L733.7,286.88L734.0,286.93L734.4,286.99L734.7,287.04L735.0,287.09L735.4,287.14L735.7,287.19L736.0,287.24L736.4,287.29L736.7,287.33L737.0,287.38L737.4,287.42L737.7,287.47L738.0,287.51L738.3,287.55L738.7,287.59L739.0,287.63L739.3,287.67L739.7,287.70L740.0,287.74L740.3,287.78L740.6,287.81L741.0,287.84L741.3,287.88L741.6,287.91L742.0,287.94L742.3,287.97L742.6,288.00L743.0,288.03L743.3,288.06L743.6,288.09L744.0,288.12L744.3,288.15L744.6,288.18L744.9,288.21L745.3,288.24L745.6,288.27L745.9,288.30L746.3,288.33L746.6,288.36L746.9,288.39L747.2,288.43L747.6,288.46L747.9,288.49L748.2,288.52L748.6,288.55L748.9,288.58L749.2,288.61L749.6,288.64L749.9,288.66L750.2,288.69L750.5,288.72L750.9,288.74L751.2,288.77L751.5,288.79L751.9,288.81L752.2,288.83L752.5,288.85L752.9,288.87L753.2,288.89L753.5,288.91L753.9,288.92L754.2,288.93L754.5,288.95L754.8,288.96L755.2,288.97L755.5,288.98L755.5,289.0" fill="#aec7e8" fill-opacity="0.45" stroke="#5a5a5a" stroke-width="1.8" stroke-linejoin="round"/>
<line x1="709.8" x2="709.8" y1="289.0" y2="282.0" stroke="#333" stroke-opacity="0.7" stroke-width="1.3" stroke-dasharray="2.5,2.5"/>
<g fill="#9467bd" fill-opacity="0.47" stroke="#9467bd" stroke-opacity="0.79" stroke-width="1.3"><circle cx="676.2" cy="300.2" r="5.2"/><circle cx="695.0" cy="303.3" r="5.2"/><circle cx="711.0" cy="300.8" r="5.2"/><circle cx="730.0" cy="301.2" r="5.2"/><circle cx="743.2" cy="301.2" r="5.2"/></g>
<path d="M635.3,303.5L635.3,303.12L635.8,303.10L636.3,303.08L636.8,303.06L637.3,303.04L637.8,303.02L638.3,302.99L638.8,302.97L639.3,302.95L639.8,302.92L640.3,302.89L640.8,302.87L641.3,302.84L641.8,302.81L642.3,302.78L642.8,302.75L643.3,302.71L643.8,302.68L644.3,302.65L644.8,302.61L645.3,302.58L645.8,302.54L646.3,302.50L646.8,302.46L647.3,302.42L647.8,302.38L648.3,302.34L648.8,302.29L649.3,302.25L649.8,302.20L650.3,302.16L650.8,302.11L651.3,302.06L651.8,302.01L652.3,301.96L652.8,301.91L653.3,301.85L653.8,301.80L654.3,301.75L654.8,301.69L655.3,301.63L655.8,301.58L656.3,301.52L656.8,301.46L657.3,301.40L657.8,301.34L658.3,301.28L658.8,301.22L659.3,301.15L659.8,301.09L660.2,301.03L660.7,300.96L661.2,300.89L661.7,300.83L662.2,300.76L662.7,300.70L663.2,300.63L663.7,300.56L664.2,300.49L664.7,300.42L665.2,300.36L665.7,300.29L666.2,300.22L666.7,300.15L667.2,300.08L667.7,300.01L668.2,299.94L668.7,299.87L669.2,299.80L669.7,299.73L670.2,299.66L670.7,299.59L671.2,299.52L671.7,299.46L672.2,299.39L672.7,299.32L673.2,299.25L673.7,299.18L674.2,299.12L674.7,299.05L675.2,298.98L675.7,298.92L676.2,298.85L676.7,298.79L677.2,298.73L677.7,298.66L678.2,298.60L678.7,298.54L679.2,298.48L679.7,298.42L680.2,298.36L680.7,298.30L681.2,298.25L681.7,298.19L682.2,298.13L682.7,298.08L683.2,298.03L683.7,297.97L684.2,297.92L684.7,297.87L685.2,297.82L685.7,297.77L686.2,297.72L686.7,297.67L687.2,297.63L687.7,297.58L688.2,297.54L688.7,297.50L689.2,297.45L689.7,297.41L690.2,297.37L690.7,297.33L691.2,297.30L691.7,297.26L692.2,297.22L692.7,297.19L693.2,297.15L693.7,297.12L694.2,297.09L694.7,297.06L695.2,297.03L695.7,297.00L696.2,296.97L696.7,296.94L697.2,296.91L697.7,296.89L698.2,296.86L698.7,296.84L699.2,296.82L699.7,296.79L700.2,296.77L700.7,296.75L701.2,296.73L701.7,296.71L702.2,296.69L702.7,296.68L703.2,296.66L703.7,296.65L704.2,296.63L704.7,296.62L705.2,296.60L705.7,296.59L706.2,296.58L706.7,296.57L707.2,296.55L707.7,296.54L708.2,296.54L708.7,296.53L709.2,296.52L709.7,296.51L710.1,296.51L710.6,296.50L711.1,296.49L711.6,296.49L712.1,296.49L712.6,296.48L713.1,296.48L713.6,296.48L714.1,296.48L714.6,296.48L715.1,296.48L715.6,296.48L716.1,296.49L716.6,296.49L717.1,296.49L717.6,296.50L718.1,296.50L718.6,296.51L719.1,296.52L719.6,296.53L720.1,296.54L720.6,296.55L721.1,296.56L721.6,296.57L722.1,296.58L722.6,296.60L723.1,296.61L723.6,296.63L724.1,296.65L724.6,296.67L725.1,296.69L725.6,296.71L726.1,296.73L726.6,296.75L727.1,296.78L727.6,296.80L728.1,296.83L728.6,296.86L729.1,296.89L729.6,296.92L730.1,296.95L730.6,296.98L731.1,297.02L731.6,297.06L732.1,297.09L732.6,297.13L733.1,297.17L733.6,297.21L734.1,297.26L734.6,297.30L735.1,297.35L735.6,297.40L736.1,297.44L736.6,297.49L737.1,297.55L737.6,297.60L738.1,297.65L738.6,297.71L739.1,297.76L739.6,297.82L740.1,297.88L740.6,297.94L741.1,298.00L741.6,298.07L742.1,298.13L742.6,298.20L743.1,298.26L743.6,298.33L744.1,298.40L744.6,298.47L745.1,298.54L745.6,298.61L746.1,298.68L746.6,298.75L747.1,298.82L747.6,298.90L748.1,298.97L748.6,299.05L749.1,299.12L749.6,299.20L750.1,299.28L750.6,299.35L751.1,299.43L751.6,299.51L752.1,299.58L752.6,299.66L753.1,299.74L753.6,299.82L754.1,299.89L754.6,299.97L755.1,300.05L755.6,300.13L756.1,300.20L756.6,300.28L757.1,300.36L757.6,300.43L758.1,300.51L758.6,300.58L759.1,300.66L759.6,300.73L760.0,300.80L760.5,300.88L761.0,300.95L761.5,301.02L762.0,301.09L762.5,301.16L763.0,301.23L763.5,301.29L764.0,301.36L764.5,301.43L765.0,301.49L765.5,301.55L766.0,301.62L766.5,301.68L767.0,301.74L767.5,301.80L768.0,301.85L768.5,301.91L769.0,301.96L769.5,302.02L770.0,302.07L770.5,302.12L771.0,302.17L771.5,302.22L772.0,302.27L772.5,302.32L773.0,302.36L773.5,302.41L774.0,302.45L774.5,302.49L775.0,302.53L775.5,302.57L776.0,302.61L776.5,302.65L777.0,302.68L777.5,302.72L778.0,302.75L778.5,302.78L779.0,302.82L779.5,302.85L780.0,302.88L780.5,302.90L781.0,302.93L781.5,302.96L782.0,302.98L782.5,303.01L783.0,303.03L783.5,303.05L784.0,303.07L784.5,303.10L785.0,303.11L785.0,303.5" fill="#9467bd" fill-opacity="0.45" stroke="#5a5a5a" stroke-width="1.8" stroke-linejoin="round"/>
<line x1="711.1" x2="711.1" y1="303.5" y2="296.5" stroke="#333" stroke-opacity="0.7" stroke-width="1.3" stroke-dasharray="2.5,2.5"/>
<g fill="#f7b6d2" fill-opacity="0.3" stroke="#f7b6d2" stroke-opacity="0.62" stroke-width="1.3"><circle cx="672.6" cy="316.7" r="5.2"/><circle cx="686.0" cy="313.7" r="5.2"/><circle cx="745.0" cy="315.8" r="5.2"/><circle cx="710.7" cy="315.4" r="5.2"/><circle cx="731.3" cy="315.6" r="5.2"/><circle cx="738.3" cy="316.5" r="5.2"/><circle cx="713.4" cy="315.2" r="5.2"/><circle cx="696.6" cy="313.2" r="5.2"/><circle cx="698.9" cy="317.4" r="5.2"/><circle cx="702.9" cy="317.7" r="5.2"/><circle cx="698.3" cy="315.9" r="5.2"/><circle cx="737.8" cy="314.7" r="5.2"/><circle cx="695.5" cy="316.7" r="5.2"/><circle cx="730.5" cy="317.4" r="5.2"/><circle cx="736.0" cy="317.7" r="5.2"/><circle cx="734.5" cy="312.7" r="5.2"/><circle cx="722.8" cy="313.6" r="5.2"/><circle cx="691.1" cy="317.5" r="5.2"/><circle cx="736.6" cy="316.9" r="5.2"/><circle cx="694.4" cy="316.5" r="5.2"/><circle cx="731.5" cy="313.1" r="5.2"/><circle cx="686.4" cy="315.0" r="5.2"/><circle cx="718.1" cy="317.3" r="5.2"/><circle cx="702.8" cy="314.5" r="5.2"/><circle cx="696.6" cy="311.4" r="5.2"/><circle cx="707.7" cy="314.1" r="5.2"/><circle cx="713.3" cy="311.4" r="5.2"/><circle cx="711.4" cy="315.2" r="5.2"/><circle cx="696.5" cy="313.5" r="5.2"/><circle cx="700.7" cy="314.0" r="5.2"/><circle cx="707.6" cy="313.8" r="5.2"/><circle cx="716.8" cy="312.1" r="5.2"/><circle cx="721.5" cy="315.4" r="5.2"/><circle cx="730.7" cy="317.0" r="5.2"/><circle cx="730.0" cy="314.3" r="5.2"/><circle cx="717.4" cy="314.3" r="5.2"/><circle cx="693.1" cy="315.2" r="5.2"/><circle cx="713.8" cy="311.9" r="5.2"/><circle cx="710.6" cy="317.6" r="5.2"/><circle cx="743.1" cy="313.3" r="5.2"/><circle cx="724.8" cy="313.2" r="5.2"/></g>
<path d="M657.7,317.9L657.7,317.87L658.0,317.86L658.4,317.86L658.7,317.85L659.0,317.85L659.4,317.84L659.7,317.83L660.0,317.83L660.4,317.82L660.7,317.81L661.1,317.80L661.4,317.79L661.7,317.79L662.1,317.78L662.4,317.77L662.7,317.76L663.1,317.75L663.4,317.73L663.7,317.72L664.1,317.71L664.4,317.70L664.7,317.69L665.1,317.68L665.4,317.66L665.7,317.65L666.1,317.64L666.4,317.63L666.8,317.61L667.1,317.60L667.4,317.59L667.8,317.57L668.1,317.56L668.4,317.55L668.8,317.53L669.1,317.52L669.4,317.51L669.8,317.49L670.1,317.48L670.4,317.46L670.8,317.45L671.1,317.44L671.4,317.42L671.8,317.41L672.1,317.40L672.5,317.38L672.8,317.37L673.1,317.35L673.5,317.34L673.8,317.32L674.1,317.31L674.5,317.29L674.8,317.27L675.1,317.25L675.5,317.24L675.8,317.22L676.1,317.20L676.5,317.17L676.8,317.15L677.1,317.13L677.5,317.10L677.8,317.07L678.2,317.05L678.5,317.02L678.8,316.99L679.2,316.95L679.5,316.92L679.8,316.88L680.2,316.84L680.5,316.80L680.8,316.76L681.2,316.71L681.5,316.66L681.8,316.62L682.2,316.56L682.5,316.51L682.9,316.45L683.2,316.40L683.5,316.33L683.9,316.27L684.2,316.21L684.5,316.14L684.9,316.07L685.2,316.00L685.5,315.93L685.9,315.85L686.2,315.77L686.5,315.69L686.9,315.61L687.2,315.53L687.5,315.45L687.9,315.36L688.2,315.27L688.6,315.18L688.9,315.09L689.2,315.00L689.6,314.91L689.9,314.81L690.2,314.72L690.6,314.62L690.9,314.53L691.2,314.43L691.6,314.33L691.9,314.24L692.2,314.14L692.6,314.04L692.9,313.94L693.2,313.84L693.6,313.74L693.9,313.64L694.3,313.55L694.6,313.45L694.9,313.35L695.3,313.25L695.6,313.16L695.9,313.06L696.3,312.97L696.6,312.87L696.9,312.78L697.3,312.69L697.6,312.60L697.9,312.51L698.3,312.42L698.6,312.33L698.9,312.25L699.3,312.17L699.6,312.08L700.0,312.01L700.3,311.93L700.6,311.85L701.0,311.78L701.3,311.71L701.6,311.64L702.0,311.58L702.3,311.52L702.6,311.46L703.0,311.40L703.3,311.34L703.6,311.29L704.0,311.24L704.3,311.20L704.6,311.16L705.0,311.12L705.3,311.08L705.7,311.05L706.0,311.02L706.3,311.00L706.7,310.98L707.0,310.96L707.3,310.94L707.7,310.93L708.0,310.92L708.3,310.92L708.7,310.92L709.0,310.92L709.3,310.93L709.7,310.94L710.0,310.95L710.3,310.97L710.7,310.99L711.0,311.02L711.4,311.05L711.7,311.08L712.0,311.11L712.4,311.15L712.7,311.19L713.0,311.23L713.4,311.28L713.7,311.33L714.0,311.38L714.4,311.44L714.7,311.49L715.0,311.55L715.4,311.62L715.7,311.68L716.0,311.75L716.4,311.82L716.7,311.89L717.1,311.96L717.4,312.03L717.7,312.11L718.1,312.18L718.4,312.26L718.7,312.34L719.1,312.42L719.4,312.50L719.7,312.59L720.1,312.67L720.4,312.75L720.7,312.84L721.1,312.92L721.4,313.00L721.7,313.09L722.1,313.17L722.4,313.26L722.8,313.34L723.1,313.42L723.4,313.51L723.8,313.59L724.1,313.67L724.4,313.75L724.8,313.83L725.1,313.91L725.4,313.99L725.8,314.07L726.1,314.15L726.4,314.22L726.8,314.30L727.1,314.37L727.4,314.44L727.8,314.51L728.1,314.58L728.5,314.65L728.8,314.72L729.1,314.79L729.5,314.85L729.8,314.92L730.1,314.98L730.5,315.04L730.8,315.10L731.1,315.16L731.5,315.22L731.8,315.27L732.1,315.33L732.5,315.38L732.8,315.44L733.1,315.49L733.5,315.54L733.8,315.59L734.2,315.64L734.5,315.69L734.8,315.74L735.2,315.79L735.5,315.84L735.8,315.88L736.2,315.93L736.5,315.97L736.8,316.02L737.2,316.06L737.5,316.11L737.8,316.15L738.2,316.19L738.5,316.23L738.9,316.28L739.2,316.32L739.5,316.36L739.9,316.40L740.2,316.44L740.5,316.48L740.9,316.52L741.2,316.57L741.5,316.61L741.9,316.65L742.2,316.69L742.5,316.73L742.9,316.76L743.2,316.80L743.5,316.84L743.9,316.88L744.2,316.92L744.6,316.96L744.9,316.99L745.2,317.03L745.6,317.07L745.9,317.10L746.2,317.14L746.6,317.17L746.9,317.21L747.2,317.24L747.6,317.27L747.9,317.30L748.2,317.33L748.6,317.36L748.9,317.39L749.2,317.42L749.6,317.45L749.9,317.47L750.3,317.50L750.6,317.52L750.9,317.55L751.3,317.57L751.6,317.59L751.9,317.61L752.3,317.63L752.6,317.65L752.9,317.67L753.3,317.69L753.6,317.71L753.9,317.72L754.3,317.74L754.6,317.75L754.9,317.76L755.3,317.78L755.6,317.79L756.0,317.80L756.3,317.81L756.6,317.82L757.0,317.83L757.3,317.84L757.6,317.84L758.0,317.85L758.3,317.86L758.3,317.9" fill="#f7b6d2" fill-opacity="0.45" stroke="#5a5a5a" stroke-width="1.8" stroke-linejoin="round"/>
<line x1="710.0" x2="710.0" y1="317.9" y2="311.0" stroke="#333" stroke-opacity="0.7" stroke-width="1.3" stroke-dasharray="2.5,2.5"/>
<g fill="#9edae5" fill-opacity="0.32" stroke="#9edae5" stroke-opacity="0.64" stroke-width="1.3"><circle cx="650.3" cy="328.5" r="5.2"/><circle cx="667.7" cy="329.5" r="5.2"/><circle cx="680.0" cy="332.0" r="5.2"/><circle cx="749.3" cy="324.9" r="5.2"/><circle cx="755.7" cy="329.5" r="5.2"/><circle cx="683.0" cy="327.5" r="5.2"/><circle cx="752.0" cy="326.8" r="5.2"/><circle cx="724.3" cy="330.8" r="5.2"/><circle cx="735.9" cy="326.8" r="5.2"/><circle cx="700.1" cy="328.3" r="5.2"/><circle cx="712.5" cy="330.8" r="5.2"/><circle cx="709.2" cy="331.2" r="5.2"/><circle cx="713.5" cy="331.4" r="5.2"/><circle cx="723.2" cy="328.9" r="5.2"/><circle cx="700.7" cy="326.3" r="5.2"/><circle cx="733.5" cy="329.2" r="5.2"/><circle cx="739.2" cy="329.2" r="5.2"/><circle cx="692.0" cy="329.9" r="5.2"/><circle cx="746.6" cy="328.3" r="5.2"/><circle cx="699.7" cy="328.1" r="5.2"/><circle cx="699.3" cy="330.6" r="5.2"/><circle cx="714.6" cy="330.9" r="5.2"/><circle cx="720.0" cy="331.9" r="5.2"/><circle cx="706.8" cy="327.6" r="5.2"/><circle cx="694.7" cy="328.4" r="5.2"/><circle cx="695.3" cy="331.5" r="5.2"/><circle cx="705.6" cy="326.5" r="5.2"/><circle cx="709.4" cy="327.6" r="5.2"/><circle cx="718.8" cy="332.0" r="5.2"/><circle cx="749.4" cy="327.8" r="5.2"/><circle cx="726.7" cy="331.9" r="5.2"/><circle cx="720.2" cy="329.1" r="5.2"/><circle cx="751.4" cy="326.2" r="5.2"/><circle cx="708.9" cy="328.1" r="5.2"/><circle cx="701.5" cy="331.1" r="5.2"/><circle cx="715.8" cy="331.4" r="5.2"/><circle cx="696.2" cy="326.1" r="5.2"/><circle cx="734.2" cy="332.2" r="5.2"/><circle cx="702.5" cy="330.5" r="5.2"/><circle cx="703.8" cy="331.2" r="5.2"/><circle cx="728.2" cy="330.3" r="5.2"/><circle cx="738.7" cy="329.8" r="5.2"/><circle cx="702.3" cy="326.8" r="5.2"/><circle cx="708.3" cy="329.7" r="5.2"/><circle cx="685.9" cy="329.0" r="5.2"/><circle cx="714.2" cy="327.0" r="5.2"/><circle cx="719.0" cy="329.0" r="5.2"/></g>
<path d="M632.5,332.4L632.5,332.31L633.0,332.31L633.4,332.30L633.9,332.30L634.4,332.29L634.8,332.28L635.3,332.28L635.8,332.27L636.2,332.26L636.7,332.25L637.2,332.24L637.6,332.24L638.1,332.23L638.6,332.22L639.0,332.21L639.5,332.19L640.0,332.18L640.4,332.17L640.9,332.16L641.4,332.15L641.8,332.14L642.3,332.13L642.8,332.12L643.2,332.10L643.7,332.09L644.2,332.08L644.6,332.07L645.1,332.06L645.6,332.05L646.0,332.04L646.5,332.03L647.0,332.02L647.4,332.01L647.9,332.00L648.4,331.99L648.8,331.99L649.3,331.98L649.8,331.97L650.2,331.97L650.7,331.96L651.2,331.96L651.6,331.95L652.1,331.95L652.6,331.94L653.0,331.94L653.5,331.94L654.0,331.94L654.4,331.93L654.9,331.93L655.4,331.93L655.8,331.92L656.3,331.92L656.7,331.92L657.2,331.92L657.7,331.91L658.1,331.91L658.6,331.91L659.1,331.90L659.5,331.90L660.0,331.89L660.5,331.89L660.9,331.88L661.4,331.87L661.9,331.86L662.3,331.86L662.8,331.85L663.3,331.84L663.7,331.83L664.2,331.82L664.7,331.81L665.1,331.79L665.6,331.78L666.1,331.77L666.5,331.75L667.0,331.74L667.5,331.72L667.9,331.70L668.4,331.68L668.9,331.66L669.3,331.64L669.8,331.62L670.3,331.60L670.7,331.58L671.2,331.55L671.7,331.53L672.1,331.50L672.6,331.47L673.1,331.44L673.5,331.41L674.0,331.38L674.5,331.34L674.9,331.31L675.4,331.27L675.9,331.23L676.3,331.19L676.8,331.15L677.3,331.11L677.7,331.06L678.2,331.02L678.7,330.97L679.1,330.92L679.6,330.87L680.1,330.82L680.5,330.76L681.0,330.70L681.5,330.65L681.9,330.59L682.4,330.53L682.9,330.46L683.3,330.40L683.8,330.33L684.3,330.26L684.7,330.20L685.2,330.12L685.7,330.05L686.1,329.98L686.6,329.90L687.1,329.82L687.5,329.75L688.0,329.66L688.5,329.58L688.9,329.50L689.4,329.41L689.9,329.33L690.3,329.24L690.8,329.15L691.3,329.06L691.7,328.97L692.2,328.87L692.7,328.78L693.1,328.68L693.6,328.59L694.1,328.49L694.5,328.39L695.0,328.29L695.5,328.19L695.9,328.09L696.4,327.99L696.9,327.89L697.3,327.79L697.8,327.68L698.3,327.58L698.7,327.48L699.2,327.38L699.7,327.28L700.1,327.18L700.6,327.08L701.1,326.98L701.5,326.88L702.0,326.79L702.5,326.69L702.9,326.60L703.4,326.51L703.8,326.42L704.3,326.33L704.8,326.25L705.2,326.17L705.7,326.09L706.2,326.01L706.6,325.94L707.1,325.88L707.6,325.81L708.0,325.75L708.5,325.69L709.0,325.64L709.4,325.59L709.9,325.55L710.4,325.51L710.8,325.47L711.3,325.44L711.8,325.42L712.2,325.40L712.7,325.38L713.2,325.37L713.6,325.36L714.1,325.36L714.6,325.36L715.0,325.37L715.5,325.39L716.0,325.40L716.4,325.43L716.9,325.45L717.4,325.49L717.8,325.52L718.3,325.57L718.8,325.61L719.2,325.66L719.7,325.72L720.2,325.77L720.6,325.84L721.1,325.90L721.6,325.97L722.0,326.04L722.5,326.12L723.0,326.20L723.4,326.28L723.9,326.36L724.4,326.45L724.8,326.54L725.3,326.62L725.8,326.72L726.2,326.81L726.7,326.90L727.2,327.00L727.6,327.09L728.1,327.19L728.6,327.28L729.0,327.38L729.5,327.48L730.0,327.57L730.4,327.67L730.9,327.76L731.4,327.86L731.8,327.95L732.3,328.04L732.8,328.14L733.2,328.22L733.7,328.31L734.2,328.40L734.6,328.48L735.1,328.57L735.6,328.65L736.0,328.73L736.5,328.81L737.0,328.88L737.4,328.95L737.9,329.03L738.4,329.10L738.8,329.16L739.3,329.23L739.8,329.29L740.2,329.36L740.7,329.42L741.2,329.48L741.6,329.53L742.1,329.59L742.6,329.64L743.0,329.70L743.5,329.75L744.0,329.80L744.4,329.85L744.9,329.90L745.4,329.95L745.8,330.00L746.3,330.05L746.8,330.10L747.2,330.15L747.7,330.20L748.2,330.25L748.6,330.30L749.1,330.34L749.5,330.39L750.0,330.44L750.5,330.49L750.9,330.54L751.4,330.59L751.9,330.65L752.3,330.70L752.8,330.75L753.3,330.80L753.7,330.85L754.2,330.90L754.7,330.96L755.1,331.01L755.6,331.06L756.1,331.11L756.5,331.17L757.0,331.22L757.5,331.27L757.9,331.32L758.4,331.37L758.9,331.42L759.3,331.47L759.8,331.51L760.3,331.56L760.7,331.60L761.2,331.65L761.7,331.69L762.1,331.73L762.6,331.77L763.1,331.81L763.5,331.85L764.0,331.88L764.5,331.92L764.9,331.95L765.4,331.98L765.9,332.01L766.3,332.04L766.8,332.06L767.3,332.09L767.7,332.11L768.2,332.13L768.7,332.15L769.1,332.17L769.6,332.19L770.1,332.20L770.5,332.22L771.0,332.23L771.5,332.25L771.9,332.26L772.4,332.27L772.4,332.4" fill="#9edae5" fill-opacity="0.45" stroke="#5a5a5a" stroke-width="1.8" stroke-linejoin="round"/>
<line x1="713.7" x2="713.7" y1="332.4" y2="325.4" stroke="#333" stroke-opacity="0.7" stroke-width="1.3" stroke-dasharray="2.5,2.5"/>
<g fill="#2ca02c" fill-opacity="0.47" stroke="#2ca02c" stroke-opacity="0.79" stroke-width="1.3"><circle cx="650.7" cy="341.2" r="5.2"/><circle cx="748.3" cy="340.8" r="5.2"/><circle cx="757.8" cy="340.1" r="5.2"/><circle cx="761.0" cy="342.3" r="5.2"/><circle cx="680.0" cy="342.2" r="5.2"/><circle cx="741.0" cy="343.6" r="5.2"/><circle cx="720.3" cy="341.6" r="5.2"/><circle cx="736.9" cy="341.4" r="5.2"/><circle cx="714.0" cy="345.7" r="5.2"/><circle cx="707.0" cy="344.7" r="5.2"/><circle cx="695.3" cy="343.0" r="5.2"/><circle cx="725.1" cy="345.9" r="5.2"/><circle cx="706.1" cy="345.5" r="5.2"/><circle cx="697.5" cy="341.9" r="5.2"/><circle cx="710.6" cy="346.3" r="5.2"/><circle cx="698.8" cy="345.0" r="5.2"/><circle cx="692.7" cy="345.7" r="5.2"/><circle cx="707.3" cy="340.7" r="5.2"/><circle cx="703.8" cy="342.0" r="5.2"/><circle cx="703.4" cy="341.7" r="5.2"/><circle cx="704.1" cy="341.3" r="5.2"/><circle cx="713.2" cy="345.2" r="5.2"/><circle cx="696.9" cy="341.3" r="5.2"/><circle cx="711.6" cy="344.3" r="5.2"/><circle cx="697.6" cy="344.1" r="5.2"/><circle cx="710.6" cy="346.1" r="5.2"/><circle cx="717.2" cy="344.8" r="5.2"/><circle cx="718.8" cy="344.1" r="5.2"/><circle cx="695.8" cy="341.3" r="5.2"/><circle cx="701.4" cy="343.4" r="5.2"/><circle cx="710.6" cy="344.8" r="5.2"/><circle cx="735.0" cy="342.7" r="5.2"/><circle cx="700.3" cy="344.6" r="5.2"/><circle cx="712.2" cy="341.3" r="5.2"/><circle cx="706.7" cy="344.4" r="5.2"/><circle cx="731.6" cy="345.2" r="5.2"/><circle cx="724.3" cy="344.1" r="5.2"/><circle cx="686.1" cy="342.8" r="5.2"/><circle cx="717.5" cy="342.4" r="5.2"/><circle cx="705.3" cy="344.8" r="5.2"/><circle cx="688.6" cy="343.1" r="5.2"/><circle cx="692.4" cy="342.4" r="5.2"/><circle cx="686.6" cy="345.2" r="5.2"/><circle cx="715.8" cy="344.6" r="5.2"/><circle cx="730.5" cy="343.8" r="5.2"/><circle cx="729.6" cy="341.4" r="5.2"/><circle cx="718.4" cy="345.7" r="5.2"/><circle cx="708.7" cy="344.9" r="5.2"/><circle cx="725.3" cy="340.7" r="5.2"/><circle cx="697.7" cy="343.2" r="5.2"/><circle cx="691.3" cy="346.6" r="5.2"/><circle cx="707.3" cy="343.1" r="5.2"/><circle cx="708.3" cy="340.3" r="5.2"/><circle cx="694.2" cy="343.3" r="5.2"/><circle cx="711.0" cy="341.5" r="5.2"/><circle cx="704.0" cy="341.3" r="5.2"/></g>
<path d="M634.2,346.8L634.2,346.76L634.7,346.76L635.2,346.75L635.6,346.75L636.1,346.74L636.6,346.74L637.1,346.73L637.5,346.73L638.0,346.72L638.5,346.71L639.0,346.70L639.4,346.70L639.9,346.69L640.4,346.68L640.9,346.67L641.3,346.66L641.8,346.65L642.3,346.64L642.8,346.63L643.3,346.62L643.7,346.61L644.2,346.61L644.7,346.60L645.2,346.59L645.6,346.58L646.1,346.57L646.6,346.57L647.1,346.56L647.5,346.55L648.0,346.55L648.5,346.54L649.0,346.54L649.4,346.54L649.9,346.53L650.4,346.53L650.9,346.53L651.3,346.53L651.8,346.54L652.3,346.54L652.8,346.54L653.3,346.54L653.7,346.55L654.2,346.55L654.7,346.56L655.2,346.57L655.6,346.57L656.1,346.58L656.6,346.59L657.1,346.59L657.5,346.60L658.0,346.61L658.5,346.62L659.0,346.62L659.4,346.63L659.9,346.64L660.4,346.64L660.9,346.65L661.4,346.65L661.8,346.65L662.3,346.66L662.8,346.66L663.3,346.66L663.7,346.66L664.2,346.66L664.7,346.65L665.2,346.65L665.6,346.64L666.1,346.63L666.6,346.62L667.1,346.61L667.5,346.60L668.0,346.58L668.5,346.57L669.0,346.55L669.4,346.53L669.9,346.50L670.4,346.48L670.9,346.45L671.4,346.42L671.8,346.38L672.3,346.35L672.8,346.31L673.3,346.26L673.7,346.22L674.2,346.17L674.7,346.12L675.2,346.07L675.6,346.02L676.1,345.96L676.6,345.90L677.1,345.83L677.5,345.77L678.0,345.70L678.5,345.63L679.0,345.55L679.5,345.48L679.9,345.40L680.4,345.32L680.9,345.23L681.4,345.15L681.8,345.06L682.3,344.97L682.8,344.88L683.3,344.78L683.7,344.68L684.2,344.59L684.7,344.49L685.2,344.38L685.6,344.28L686.1,344.17L686.6,344.07L687.1,343.96L687.5,343.85L688.0,343.74L688.5,343.62L689.0,343.51L689.5,343.39L689.9,343.28L690.4,343.16L690.9,343.04L691.4,342.92L691.8,342.80L692.3,342.68L692.8,342.56L693.3,342.44L693.7,342.32L694.2,342.20L694.7,342.08L695.2,341.96L695.6,341.85L696.1,341.73L696.6,341.61L697.1,341.50L697.6,341.38L698.0,341.27L698.5,341.16L699.0,341.06L699.5,340.95L699.9,340.85L700.4,340.75L700.9,340.66L701.4,340.57L701.8,340.48L702.3,340.40L702.8,340.32L703.3,340.25L703.7,340.18L704.2,340.11L704.7,340.06L705.2,340.00L705.7,339.96L706.1,339.92L706.6,339.88L707.1,339.85L707.6,339.83L708.0,339.81L708.5,339.80L709.0,339.80L709.5,339.80L709.9,339.81L710.4,339.83L710.9,339.85L711.4,339.88L711.8,339.91L712.3,339.95L712.8,340.00L713.3,340.05L713.7,340.11L714.2,340.17L714.7,340.24L715.2,340.31L715.7,340.39L716.1,340.47L716.6,340.55L717.1,340.64L717.6,340.74L718.0,340.83L718.5,340.93L719.0,341.04L719.5,341.14L719.9,341.25L720.4,341.36L720.9,341.47L721.4,341.58L721.8,341.69L722.3,341.81L722.8,341.92L723.3,342.04L723.8,342.15L724.2,342.27L724.7,342.38L725.2,342.50L725.7,342.61L726.1,342.72L726.6,342.84L727.1,342.95L727.6,343.06L728.0,343.17L728.5,343.27L729.0,343.38L729.5,343.48L729.9,343.58L730.4,343.68L730.9,343.78L731.4,343.88L731.8,343.97L732.3,344.07L732.8,344.16L733.3,344.25L733.8,344.33L734.2,344.42L734.7,344.50L735.2,344.58L735.7,344.66L736.1,344.73L736.6,344.81L737.1,344.88L737.6,344.95L738.0,345.02L738.5,345.08L739.0,345.15L739.5,345.21L739.9,345.26L740.4,345.32L740.9,345.37L741.4,345.43L741.9,345.47L742.3,345.52L742.8,345.57L743.3,345.61L743.8,345.65L744.2,345.68L744.7,345.72L745.2,345.75L745.7,345.78L746.1,345.81L746.6,345.84L747.1,345.86L747.6,345.88L748.0,345.90L748.5,345.92L749.0,345.94L749.5,345.95L749.9,345.97L750.4,345.98L750.9,345.99L751.4,346.00L751.9,346.01L752.3,346.02L752.8,346.03L753.3,346.03L753.8,346.04L754.2,346.05L754.7,346.06L755.2,346.06L755.7,346.07L756.1,346.08L756.6,346.08L757.1,346.09L757.6,346.10L758.0,346.11L758.5,346.12L759.0,346.13L759.5,346.14L760.0,346.16L760.4,346.17L760.9,346.19L761.4,346.20L761.9,346.22L762.3,346.24L762.8,346.25L763.3,346.27L763.8,346.29L764.2,346.31L764.7,346.33L765.2,346.35L765.7,346.37L766.1,346.39L766.6,346.41L767.1,346.44L767.6,346.46L768.0,346.48L768.5,346.50L769.0,346.52L769.5,346.54L770.0,346.55L770.4,346.57L770.9,346.59L771.4,346.61L771.9,346.62L772.3,346.64L772.8,346.65L773.3,346.66L773.8,346.68L774.2,346.69L774.7,346.70L775.2,346.71L775.7,346.72L776.1,346.73L776.6,346.74L777.1,346.74L777.1,346.8" fill="#2ca02c" fill-opacity="0.45" stroke="#5a5a5a" stroke-width="1.8" stroke-linejoin="round"/>
<line x1="710.9" x2="710.9" y1="346.8" y2="339.8" stroke="#333" stroke-opacity="0.7" stroke-width="1.3" stroke-dasharray="2.5,2.5"/>
<g fill="#ff9896" fill-opacity="0.47" stroke="#ff9896" stroke-opacity="0.79" stroke-width="1.3"><circle cx="666.6" cy="360.3" r="5.2"/><circle cx="749.3" cy="355.0" r="5.2"/><circle cx="754.6" cy="354.0" r="5.2"/><circle cx="765.9" cy="360.3" r="5.2"/><circle cx="682.0" cy="357.8" r="5.2"/><circle cx="741.0" cy="355.1" r="5.2"/><circle cx="716.4" cy="356.4" r="5.2"/><circle cx="736.0" cy="360.1" r="5.2"/><circle cx="682.4" cy="358.5" r="5.2"/><circle cx="732.1" cy="356.1" r="5.2"/><circle cx="721.9" cy="360.5" r="5.2"/><circle cx="706.1" cy="355.4" r="5.2"/><circle cx="693.1" cy="360.7" r="5.2"/><circle cx="707.3" cy="356.7" r="5.2"/><circle cx="696.9" cy="357.4" r="5.2"/><circle cx="701.9" cy="354.8" r="5.2"/><circle cx="707.4" cy="358.6" r="5.2"/><circle cx="737.3" cy="359.0" r="5.2"/><circle cx="712.6" cy="359.9" r="5.2"/><circle cx="714.3" cy="359.2" r="5.2"/><circle cx="690.6" cy="359.0" r="5.2"/><circle cx="703.6" cy="357.3" r="5.2"/><circle cx="719.5" cy="359.2" r="5.2"/><circle cx="716.4" cy="359.9" r="5.2"/><circle cx="710.4" cy="355.4" r="5.2"/><circle cx="697.2" cy="360.6" r="5.2"/><circle cx="701.9" cy="354.8" r="5.2"/><circle cx="708.3" cy="359.4" r="5.2"/><circle cx="728.6" cy="356.1" r="5.2"/><circle cx="711.1" cy="356.3" r="5.2"/><circle cx="710.6" cy="354.8" r="5.2"/><circle cx="712.4" cy="356.0" r="5.2"/><circle cx="694.1" cy="361.0" r="5.2"/><circle cx="728.6" cy="356.1" r="5.2"/><circle cx="702.9" cy="354.7" r="5.2"/><circle cx="722.6" cy="355.9" r="5.2"/><circle cx="723.1" cy="357.7" r="5.2"/><circle cx="694.5" cy="360.7" r="5.2"/><circle cx="702.8" cy="360.9" r="5.2"/><circle cx="705.9" cy="359.4" r="5.2"/><circle cx="711.3" cy="356.3" r="5.2"/><circle cx="707.8" cy="360.0" r="5.2"/></g>
<path d="M652.3,361.2L652.3,361.19L652.7,361.18L653.2,361.17L653.6,361.16L654.0,361.16L654.4,361.15L654.9,361.14L655.3,361.13L655.7,361.12L656.1,361.10L656.6,361.09L657.0,361.08L657.4,361.07L657.8,361.05L658.3,361.04L658.7,361.02L659.1,361.01L659.5,360.99L660.0,360.98L660.4,360.96L660.8,360.95L661.3,360.93L661.7,360.92L662.1,360.91L662.5,360.89L663.0,360.88L663.4,360.87L663.8,360.86L664.2,360.85L664.7,360.84L665.1,360.83L665.5,360.82L665.9,360.81L666.4,360.81L666.8,360.80L667.2,360.79L667.6,360.79L668.1,360.79L668.5,360.78L668.9,360.78L669.4,360.77L669.8,360.77L670.2,360.77L670.6,360.76L671.1,360.76L671.5,360.75L671.9,360.75L672.3,360.74L672.8,360.73L673.2,360.72L673.6,360.70L674.0,360.69L674.5,360.67L674.9,360.65L675.3,360.63L675.7,360.60L676.2,360.58L676.6,360.54L677.0,360.51L677.5,360.47L677.9,360.43L678.3,360.39L678.7,360.34L679.2,360.30L679.6,360.24L680.0,360.19L680.4,360.13L680.9,360.07L681.3,360.01L681.7,359.94L682.1,359.87L682.6,359.80L683.0,359.72L683.4,359.65L683.8,359.57L684.3,359.49L684.7,359.40L685.1,359.32L685.6,359.23L686.0,359.14L686.4,359.05L686.8,358.96L687.3,358.87L687.7,358.77L688.1,358.68L688.5,358.58L689.0,358.48L689.4,358.38L689.8,358.27L690.2,358.17L690.7,358.07L691.1,357.96L691.5,357.85L691.9,357.75L692.4,357.64L692.8,357.53L693.2,357.42L693.7,357.31L694.1,357.20L694.5,357.08L694.9,356.97L695.4,356.86L695.8,356.74L696.2,356.63L696.6,356.52L697.1,356.41L697.5,356.29L697.9,356.18L698.3,356.07L698.8,355.96L699.2,355.85L699.6,355.75L700.0,355.64L700.5,355.54L700.9,355.44L701.3,355.34L701.8,355.24L702.2,355.15L702.6,355.06L703.0,354.98L703.5,354.89L703.9,354.82L704.3,354.74L704.7,354.67L705.2,354.61L705.6,354.55L706.0,354.49L706.4,354.44L706.9,354.40L707.3,354.36L707.7,354.32L708.1,354.30L708.6,354.27L709.0,354.26L709.4,354.24L709.9,354.24L710.3,354.24L710.7,354.25L711.1,354.26L711.6,354.28L712.0,354.30L712.4,354.33L712.8,354.37L713.3,354.41L713.7,354.46L714.1,354.51L714.5,354.57L715.0,354.63L715.4,354.69L715.8,354.76L716.2,354.84L716.7,354.92L717.1,355.00L717.5,355.09L718.0,355.18L718.4,355.27L718.8,355.37L719.2,355.46L719.7,355.57L720.1,355.67L720.5,355.77L720.9,355.88L721.4,355.99L721.8,356.09L722.2,356.20L722.6,356.31L723.1,356.42L723.5,356.53L723.9,356.64L724.4,356.75L724.8,356.86L725.2,356.97L725.6,357.08L726.1,357.18L726.5,357.29L726.9,357.39L727.3,357.50L727.8,357.60L728.2,357.70L728.6,357.80L729.0,357.90L729.5,357.99L729.9,358.09L730.3,358.18L730.7,358.27L731.2,358.36L731.6,358.45L732.0,358.53L732.5,358.62L732.9,358.70L733.3,358.78L733.7,358.86L734.2,358.93L734.6,359.01L735.0,359.08L735.4,359.15L735.9,359.22L736.3,359.29L736.7,359.35L737.1,359.41L737.6,359.47L738.0,359.53L738.4,359.59L738.8,359.64L739.3,359.69L739.7,359.74L740.1,359.79L740.6,359.83L741.0,359.87L741.4,359.91L741.8,359.95L742.3,359.98L742.7,360.02L743.1,360.05L743.5,360.07L744.0,360.10L744.4,360.12L744.8,360.14L745.2,360.16L745.7,360.18L746.1,360.19L746.5,360.21L746.9,360.22L747.4,360.23L747.8,360.24L748.2,360.25L748.7,360.26L749.1,360.27L749.5,360.27L749.9,360.28L750.4,360.29L750.8,360.30L751.2,360.30L751.6,360.31L752.1,360.32L752.5,360.33L752.9,360.34L753.3,360.34L753.8,360.35L754.2,360.36L754.6,360.37L755.0,360.38L755.5,360.40L755.9,360.41L756.3,360.42L756.8,360.43L757.2,360.44L757.6,360.45L758.0,360.47L758.5,360.48L758.9,360.49L759.3,360.50L759.7,360.52L760.2,360.53L760.6,360.54L761.0,360.55L761.4,360.57L761.9,360.58L762.3,360.59L762.7,360.60L763.1,360.62L763.6,360.63L764.0,360.64L764.4,360.66L764.9,360.67L765.3,360.68L765.7,360.70L766.1,360.71L766.6,360.73L767.0,360.74L767.4,360.76L767.8,360.77L768.3,360.79L768.7,360.81L769.1,360.82L769.5,360.84L770.0,360.86L770.4,360.88L770.8,360.89L771.2,360.91L771.7,360.93L772.1,360.95L772.5,360.96L773.0,360.98L773.4,361.00L773.8,361.01L774.2,361.03L774.7,361.05L775.1,361.06L775.5,361.07L775.9,361.09L776.4,361.10L776.8,361.11L777.2,361.12L777.6,361.14L778.1,361.15L778.5,361.15L778.9,361.16L779.3,361.17L779.8,361.18L780.2,361.19L780.2,361.2" fill="#ff9896" fill-opacity="0.45" stroke="#5a5a5a" stroke-width="1.8" stroke-linejoin="round"/>
<line x1="712.8" x2="712.8" y1="361.2" y2="354.4" stroke="#333" stroke-opacity="0.7" stroke-width="1.3" stroke-dasharray="2.5,2.5"/>
<g fill="#17becf" fill-opacity="0.47" stroke="#17becf" stroke-opacity="0.79" stroke-width="1.3"><circle cx="667.7" cy="370.5" r="5.2"/><circle cx="673.0" cy="371.2" r="5.2"/><circle cx="749.7" cy="368.3" r="5.2"/><circle cx="762.5" cy="369.2" r="5.2"/><circle cx="678.0" cy="372.2" r="5.2"/><circle cx="745.0" cy="371.1" r="5.2"/><circle cx="702.7" cy="370.0" r="5.2"/><circle cx="705.5" cy="371.4" r="5.2"/><circle cx="713.0" cy="374.4" r="5.2"/><circle cx="697.2" cy="375.1" r="5.2"/><circle cx="706.7" cy="369.1" r="5.2"/><circle cx="743.0" cy="372.8" r="5.2"/><circle cx="708.5" cy="372.1" r="5.2"/><circle cx="720.1" cy="374.8" r="5.2"/><circle cx="700.0" cy="372.2" r="5.2"/><circle cx="699.0" cy="373.2" r="5.2"/><circle cx="714.4" cy="374.4" r="5.2"/><circle cx="706.7" cy="371.1" r="5.2"/><circle cx="713.7" cy="371.1" r="5.2"/><circle cx="696.9" cy="371.5" r="5.2"/><circle cx="700.0" cy="370.1" r="5.2"/><circle cx="700.4" cy="369.2" r="5.2"/><circle cx="743.5" cy="370.0" r="5.2"/><circle cx="701.1" cy="375.0" r="5.2"/><circle cx="721.9" cy="372.1" r="5.2"/><circle cx="738.1" cy="371.2" r="5.2"/><circle cx="698.1" cy="369.7" r="5.2"/><circle cx="691.7" cy="372.0" r="5.2"/><circle cx="714.2" cy="372.6" r="5.2"/><circle cx="697.1" cy="373.6" r="5.2"/><circle cx="724.4" cy="374.0" r="5.2"/><circle cx="715.7" cy="370.1" r="5.2"/><circle cx="720.3" cy="375.4" r="5.2"/><circle cx="735.2" cy="370.7" r="5.2"/><circle cx="710.7" cy="369.1" r="5.2"/><circle cx="724.7" cy="375.1" r="5.2"/><circle cx="726.0" cy="374.3" r="5.2"/><circle cx="694.1" cy="373.7" r="5.2"/><circle cx="714.2" cy="370.2" r="5.2"/><circle cx="744.0" cy="370.2" r="5.2"/><circle cx="712.4" cy="369.5" r="5.2"/><circle cx="703.5" cy="371.5" r="5.2"/><circle cx="728.0" cy="372.1" r="5.2"/><circle cx="744.6" cy="372.3" r="5.2"/><circle cx="704.6" cy="371.9" r="5.2"/><circle cx="720.2" cy="370.7" r="5.2"/></g>
<path d="M655.8,375.7L655.8,375.61L656.2,375.60L656.6,375.59L657.0,375.57L657.4,375.56L657.8,375.54L658.2,375.53L658.6,375.51L659.0,375.49L659.4,375.47L659.8,375.44L660.2,375.42L660.6,375.39L661.0,375.37L661.4,375.34L661.8,375.31L662.2,375.28L662.6,375.25L663.0,375.21L663.4,375.18L663.8,375.15L664.2,375.11L664.6,375.08L665.0,375.04L665.4,375.01L665.8,374.97L666.2,374.94L666.6,374.91L667.0,374.87L667.4,374.84L667.8,374.81L668.2,374.78L668.6,374.76L669.0,374.73L669.4,374.70L669.8,374.68L670.2,374.66L670.6,374.63L671.1,374.61L671.5,374.59L671.9,374.57L672.3,374.56L672.7,374.54L673.1,374.52L673.5,374.50L673.9,374.49L674.3,374.47L674.7,374.45L675.1,374.43L675.5,374.41L675.9,374.39L676.3,374.37L676.7,374.35L677.1,374.33L677.5,374.30L677.9,374.28L678.3,374.25L678.7,374.22L679.1,374.19L679.5,374.15L679.9,374.12L680.3,374.08L680.7,374.04L681.1,374.00L681.5,373.96L681.9,373.92L682.3,373.88L682.7,373.83L683.1,373.78L683.5,373.73L683.9,373.68L684.3,373.63L684.7,373.58L685.1,373.52L685.5,373.46L685.9,373.41L686.3,373.35L686.7,373.29L687.1,373.22L687.5,373.16L687.9,373.10L688.3,373.03L688.7,372.96L689.1,372.89L689.5,372.82L689.9,372.75L690.3,372.67L690.7,372.59L691.1,372.52L691.5,372.44L691.9,372.35L692.3,372.27L692.7,372.19L693.1,372.10L693.5,372.01L693.9,371.92L694.3,371.83L694.7,371.74L695.1,371.65L695.5,371.55L695.9,371.46L696.3,371.36L696.7,371.26L697.1,371.16L697.5,371.07L697.9,370.97L698.3,370.87L698.7,370.77L699.1,370.67L699.5,370.57L699.9,370.48L700.3,370.38L700.7,370.28L701.2,370.19L701.6,370.09L702.0,370.00L702.4,369.91L702.8,369.82L703.2,369.73L703.6,369.65L704.0,369.57L704.4,369.49L704.8,369.41L705.2,369.34L705.6,369.27L706.0,369.20L706.4,369.13L706.8,369.07L707.2,369.02L707.6,368.97L708.0,368.92L708.4,368.87L708.8,368.83L709.2,368.80L709.6,368.77L710.0,368.74L710.4,368.72L710.8,368.70L711.2,368.69L711.6,368.68L712.0,368.68L712.4,368.68L712.8,368.69L713.2,368.70L713.6,368.72L714.0,368.74L714.4,368.77L714.8,368.80L715.2,368.83L715.6,368.87L716.0,368.91L716.4,368.96L716.8,369.01L717.2,369.07L717.6,369.13L718.0,369.19L718.4,369.26L718.8,369.33L719.2,369.41L719.6,369.48L720.0,369.56L720.4,369.64L720.8,369.73L721.2,369.81L721.6,369.90L722.0,369.99L722.4,370.09L722.8,370.18L723.2,370.28L723.6,370.37L724.0,370.47L724.4,370.57L724.8,370.66L725.2,370.76L725.6,370.86L726.0,370.96L726.4,371.06L726.8,371.16L727.2,371.26L727.6,371.35L728.0,371.45L728.4,371.55L728.8,371.64L729.2,371.73L729.6,371.83L730.0,371.92L730.4,372.01L730.8,372.10L731.3,372.18L731.7,372.27L732.1,372.35L732.5,372.44L732.9,372.52L733.3,372.60L733.7,372.67L734.1,372.75L734.5,372.82L734.9,372.90L735.3,372.97L735.7,373.04L736.1,373.11L736.5,373.17L736.9,373.24L737.3,373.30L737.7,373.37L738.1,373.43L738.5,373.49L738.9,373.55L739.3,373.61L739.7,373.66L740.1,373.72L740.5,373.77L740.9,373.82L741.3,373.87L741.7,373.93L742.1,373.97L742.5,374.02L742.9,374.07L743.3,374.12L743.7,374.16L744.1,374.21L744.5,374.25L744.9,374.29L745.3,374.33L745.7,374.37L746.1,374.41L746.5,374.45L746.9,374.49L747.3,374.53L747.7,374.57L748.1,374.60L748.5,374.64L748.9,374.67L749.3,374.71L749.7,374.74L750.1,374.77L750.5,374.80L750.9,374.83L751.3,374.86L751.7,374.89L752.1,374.91L752.5,374.94L752.9,374.96L753.3,374.98L753.7,375.01L754.1,375.02L754.5,375.04L754.9,375.06L755.3,375.07L755.7,375.08L756.1,375.09L756.5,375.10L756.9,375.11L757.3,375.11L757.7,375.12L758.1,375.12L758.5,375.13L758.9,375.13L759.3,375.13L759.7,375.14L760.1,375.14L760.5,375.14L760.9,375.15L761.4,375.15L761.8,375.16L762.2,375.16L762.6,375.17L763.0,375.18L763.4,375.19L763.8,375.20L764.2,375.21L764.6,375.22L765.0,375.24L765.4,375.25L765.8,375.27L766.2,375.29L766.6,375.31L767.0,375.33L767.4,375.34L767.8,375.36L768.2,375.38L768.6,375.40L769.0,375.42L769.4,375.44L769.8,375.46L770.2,375.48L770.6,375.50L771.0,375.51L771.4,375.53L771.8,375.54L772.2,375.56L772.6,375.57L773.0,375.58L773.4,375.59L773.8,375.60L774.2,375.61L774.6,375.62L775.0,375.63L775.4,375.64L775.8,375.64L776.2,375.65L776.2,375.7" fill="#17becf" fill-opacity="0.45" stroke="#5a5a5a" stroke-width="1.8" stroke-linejoin="round"/>
<line x1="711.9" x2="711.9" y1="375.7" y2="368.7" stroke="#333" stroke-opacity="0.7" stroke-width="1.3" stroke-dasharray="2.5,2.5"/>
<g fill="#bcbd22" fill-opacity="0.47" stroke="#bcbd22" stroke-opacity="0.79" stroke-width="1.3"><circle cx="676.2" cy="384.7" r="5.2"/><circle cx="738.7" cy="385.7" r="5.2"/><circle cx="745.0" cy="382.5" r="5.2"/><circle cx="760.0" cy="387.8" r="5.2"/><circle cx="690.0" cy="387.5" r="5.2"/><circle cx="735.0" cy="389.7" r="5.2"/><circle cx="693.9" cy="385.0" r="5.2"/><circle cx="694.8" cy="388.7" r="5.2"/><circle cx="724.8" cy="384.6" r="5.2"/><circle cx="728.3" cy="384.0" r="5.2"/><circle cx="705.2" cy="385.6" r="5.2"/><circle cx="701.0" cy="388.8" r="5.2"/><circle cx="709.6" cy="387.7" r="5.2"/><circle cx="716.9" cy="387.4" r="5.2"/><circle cx="704.2" cy="389.4" r="5.2"/><circle cx="730.7" cy="387.0" r="5.2"/><circle cx="696.4" cy="386.2" r="5.2"/><circle cx="716.6" cy="387.7" r="5.2"/><circle cx="731.0" cy="388.7" r="5.2"/><circle cx="712.3" cy="389.3" r="5.2"/><circle cx="731.1" cy="385.8" r="5.2"/><circle cx="726.1" cy="389.8" r="5.2"/><circle cx="717.4" cy="387.6" r="5.2"/><circle cx="716.9" cy="388.4" r="5.2"/><circle cx="724.6" cy="386.5" r="5.2"/><circle cx="706.7" cy="385.2" r="5.2"/><circle cx="705.4" cy="384.0" r="5.2"/><circle cx="703.8" cy="385.8" r="5.2"/><circle cx="720.1" cy="383.5" r="5.2"/></g>
<path d="M653.0,390.1L653.0,390.07L653.4,390.06L653.9,390.06L654.3,390.05L654.7,390.05L655.2,390.04L655.6,390.04L656.0,390.03L656.5,390.03L656.9,390.02L657.3,390.01L657.8,390.01L658.2,390.00L658.6,389.99L659.1,389.98L659.5,389.98L659.9,389.97L660.4,389.96L660.8,389.95L661.3,389.94L661.7,389.93L662.1,389.92L662.6,389.91L663.0,389.90L663.4,389.88L663.9,389.87L664.3,389.86L664.7,389.85L665.2,389.84L665.6,389.82L666.0,389.81L666.5,389.79L666.9,389.78L667.3,389.77L667.8,389.75L668.2,389.74L668.6,389.72L669.1,389.70L669.5,389.69L669.9,389.67L670.4,389.65L670.8,389.63L671.2,389.61L671.7,389.60L672.1,389.58L672.5,389.56L673.0,389.53L673.4,389.51L673.8,389.49L674.3,389.47L674.7,389.44L675.2,389.42L675.6,389.39L676.0,389.37L676.5,389.34L676.9,389.31L677.3,389.28L677.8,389.25L678.2,389.22L678.6,389.19L679.1,389.15L679.5,389.12L679.9,389.08L680.4,389.04L680.8,389.00L681.2,388.96L681.7,388.92L682.1,388.87L682.5,388.83L683.0,388.78L683.4,388.73L683.8,388.67L684.3,388.62L684.7,388.56L685.1,388.50L685.6,388.44L686.0,388.38L686.4,388.31L686.9,388.25L687.3,388.18L687.7,388.10L688.2,388.03L688.6,387.95L689.0,387.88L689.5,387.79L689.9,387.71L690.4,387.63L690.8,387.54L691.2,387.45L691.7,387.36L692.1,387.26L692.5,387.17L693.0,387.07L693.4,386.97L693.8,386.87L694.3,386.77L694.7,386.66L695.1,386.56L695.6,386.45L696.0,386.35L696.4,386.24L696.9,386.13L697.3,386.02L697.7,385.91L698.2,385.80L698.6,385.69L699.0,385.57L699.5,385.46L699.9,385.35L700.3,385.24L700.8,385.13L701.2,385.03L701.6,384.92L702.1,384.81L702.5,384.71L702.9,384.61L703.4,384.51L703.8,384.41L704.3,384.31L704.7,384.22L705.1,384.13L705.6,384.04L706.0,383.95L706.4,383.87L706.9,383.79L707.3,383.72L707.7,383.65L708.2,383.58L708.6,383.52L709.0,383.46L709.5,383.41L709.9,383.36L710.3,383.31L710.8,383.27L711.2,383.23L711.6,383.20L712.1,383.18L712.5,383.16L712.9,383.14L713.4,383.13L713.8,383.12L714.2,383.12L714.7,383.12L715.1,383.13L715.5,383.15L716.0,383.16L716.4,383.19L716.8,383.22L717.3,383.25L717.7,383.29L718.1,383.33L718.6,383.38L719.0,383.43L719.5,383.48L719.9,383.54L720.3,383.60L720.8,383.67L721.2,383.74L721.6,383.81L722.1,383.89L722.5,383.97L722.9,384.05L723.4,384.14L723.8,384.23L724.2,384.32L724.7,384.41L725.1,384.50L725.5,384.60L726.0,384.69L726.4,384.79L726.8,384.89L727.3,384.99L727.7,385.09L728.1,385.19L728.6,385.30L729.0,385.40L729.4,385.50L729.9,385.60L730.3,385.71L730.7,385.81L731.2,385.91L731.6,386.01L732.0,386.11L732.5,386.21L732.9,386.31L733.4,386.40L733.8,386.50L734.2,386.59L734.7,386.69L735.1,386.78L735.5,386.87L736.0,386.96L736.4,387.04L736.8,387.13L737.3,387.21L737.7,387.29L738.1,387.37L738.6,387.45L739.0,387.53L739.4,387.60L739.9,387.67L740.3,387.75L740.7,387.81L741.2,387.88L741.6,387.95L742.0,388.01L742.5,388.07L742.9,388.13L743.3,388.19L743.8,388.25L744.2,388.30L744.6,388.35L745.1,388.41L745.5,388.46L745.9,388.50L746.4,388.55L746.8,388.60L747.3,388.64L747.7,388.68L748.1,388.72L748.6,388.76L749.0,388.80L749.4,388.84L749.9,388.87L750.3,388.91L750.7,388.94L751.2,388.97L751.6,389.01L752.0,389.04L752.5,389.06L752.9,389.09L753.3,389.12L753.8,389.15L754.2,389.17L754.6,389.20L755.1,389.22L755.5,389.25L755.9,389.27L756.4,389.29L756.8,389.31L757.2,389.33L757.7,389.35L758.1,389.37L758.5,389.39L759.0,389.41L759.4,389.43L759.8,389.45L760.3,389.47L760.7,389.49L761.1,389.50L761.6,389.52L762.0,389.54L762.5,389.56L762.9,389.57L763.3,389.59L763.8,389.60L764.2,389.62L764.6,389.64L765.1,389.65L765.5,389.67L765.9,389.68L766.4,389.70L766.8,389.71L767.2,389.73L767.7,389.74L768.1,389.75L768.5,389.77L769.0,389.78L769.4,389.79L769.8,389.81L770.3,389.82L770.7,389.83L771.1,389.84L771.6,389.86L772.0,389.87L772.4,389.88L772.9,389.89L773.3,389.90L773.7,389.91L774.2,389.92L774.6,389.93L775.0,389.94L775.5,389.95L775.9,389.96L776.4,389.97L776.8,389.98L777.2,389.99L777.7,389.99L778.1,390.00L778.5,390.01L779.0,390.02L779.4,390.02L779.8,390.03L780.3,390.03L780.7,390.04L781.1,390.05L781.6,390.05L782.0,390.06L782.4,390.06L782.9,390.06L783.3,390.07L783.3,390.1" fill="#bcbd22" fill-opacity="0.45" stroke="#5a5a5a" stroke-width="1.8" stroke-linejoin="round"/>
<line x1="715.8" x2="715.8" y1="390.1" y2="383.1" stroke="#333" stroke-opacity="0.7" stroke-width="1.3" stroke-dasharray="2.5,2.5"/>
<g fill="#ffbb78" fill-opacity="0.47" stroke="#ffbb78" stroke-opacity="0.79" stroke-width="1.3"><circle cx="750.0" cy="403.3" r="5.2"/><circle cx="693.0" cy="404.2" r="5.2"/><circle cx="742.0" cy="402.3" r="5.2"/><circle cx="709.2" cy="398.2" r="5.2"/><circle cx="713.2" cy="401.3" r="5.2"/><circle cx="731.6" cy="403.4" r="5.2"/><circle cx="701.1" cy="401.3" r="5.2"/><circle cx="715.8" cy="399.6" r="5.2"/><circle cx="713.9" cy="399.0" r="5.2"/><circle cx="698.0" cy="402.0" r="5.2"/><circle cx="699.9" cy="400.4" r="5.2"/><circle cx="735.3" cy="404.0" r="5.2"/><circle cx="707.5" cy="398.9" r="5.2"/><circle cx="698.2" cy="401.8" r="5.2"/><circle cx="713.1" cy="403.6" r="5.2"/><circle cx="699.6" cy="403.0" r="5.2"/><circle cx="720.9" cy="399.1" r="5.2"/><circle cx="730.7" cy="398.6" r="5.2"/><circle cx="699.5" cy="403.1" r="5.2"/><circle cx="721.1" cy="398.1" r="5.2"/><circle cx="718.1" cy="402.9" r="5.2"/><circle cx="712.8" cy="403.9" r="5.2"/><circle cx="727.4" cy="404.2" r="5.2"/><circle cx="703.7" cy="403.3" r="5.2"/><circle cx="719.0" cy="399.7" r="5.2"/><circle cx="739.0" cy="400.7" r="5.2"/><circle cx="718.7" cy="398.4" r="5.2"/><circle cx="704.1" cy="403.0" r="5.2"/><circle cx="721.4" cy="403.3" r="5.2"/><circle cx="717.1" cy="398.8" r="5.2"/><circle cx="705.2" cy="401.2" r="5.2"/></g>
<path d="M681.3,404.6L681.3,404.49L681.6,404.48L681.8,404.47L682.1,404.46L682.4,404.46L682.6,404.45L682.9,404.44L683.1,404.42L683.4,404.41L683.7,404.40L683.9,404.39L684.2,404.37L684.5,404.36L684.7,404.34L685.0,404.32L685.2,404.30L685.5,404.28L685.8,404.26L686.0,404.24L686.3,404.22L686.6,404.19L686.8,404.16L687.1,404.14L687.3,404.11L687.6,404.08L687.9,404.05L688.1,404.01L688.4,403.98L688.7,403.94L688.9,403.90L689.2,403.86L689.5,403.82L689.7,403.78L690.0,403.73L690.2,403.69L690.5,403.64L690.8,403.59L691.0,403.54L691.3,403.49L691.6,403.44L691.8,403.38L692.1,403.33L692.3,403.27L692.6,403.21L692.9,403.15L693.1,403.09L693.4,403.03L693.7,402.96L693.9,402.90L694.2,402.83L694.4,402.77L694.7,402.70L695.0,402.63L695.2,402.56L695.5,402.49L695.8,402.42L696.0,402.34L696.3,402.27L696.6,402.19L696.8,402.12L697.1,402.04L697.3,401.96L697.6,401.88L697.9,401.81L698.1,401.73L698.4,401.65L698.7,401.57L698.9,401.48L699.2,401.40L699.4,401.32L699.7,401.24L700.0,401.15L700.2,401.07L700.5,400.99L700.8,400.90L701.0,400.82L701.3,400.73L701.6,400.64L701.8,400.56L702.1,400.47L702.3,400.39L702.6,400.30L702.9,400.21L703.1,400.13L703.4,400.04L703.7,399.95L703.9,399.87L704.2,399.78L704.4,399.70L704.7,399.61L705.0,399.53L705.2,399.44L705.5,399.36L705.8,399.28L706.0,399.20L706.3,399.12L706.5,399.04L706.8,398.96L707.1,398.88L707.3,398.80L707.6,398.73L707.9,398.66L708.1,398.58L708.4,398.51L708.7,398.45L708.9,398.38L709.2,398.31L709.4,398.25L709.7,398.19L710.0,398.13L710.2,398.08L710.5,398.02L710.8,397.97L711.0,397.93L711.3,397.88L711.5,397.84L711.8,397.80L712.1,397.76L712.3,397.73L712.6,397.70L712.9,397.67L713.1,397.64L713.4,397.62L713.6,397.60L713.9,397.59L714.2,397.58L714.4,397.57L714.7,397.56L715.0,397.56L715.2,397.56L715.5,397.57L715.8,397.57L716.0,397.58L716.3,397.60L716.5,397.62L716.8,397.64L717.1,397.66L717.3,397.69L717.6,397.72L717.9,397.75L718.1,397.79L718.4,397.83L718.6,397.87L718.9,397.91L719.2,397.96L719.4,398.01L719.7,398.06L720.0,398.12L720.2,398.17L720.5,398.23L720.8,398.29L721.0,398.36L721.3,398.42L721.5,398.49L721.8,398.56L722.1,398.63L722.3,398.70L722.6,398.77L722.9,398.85L723.1,398.92L723.4,399.00L723.6,399.08L723.9,399.16L724.2,399.24L724.4,399.32L724.7,399.40L725.0,399.48L725.2,399.56L725.5,399.64L725.7,399.72L726.0,399.80L726.3,399.88L726.5,399.97L726.8,400.05L727.1,400.13L727.3,400.21L727.6,400.29L727.9,400.37L728.1,400.45L728.4,400.52L728.6,400.60L728.9,400.68L729.2,400.76L729.4,400.83L729.7,400.91L730.0,400.98L730.2,401.05L730.5,401.12L730.7,401.19L731.0,401.26L731.3,401.33L731.5,401.40L731.8,401.47L732.1,401.53L732.3,401.60L732.6,401.66L732.8,401.73L733.1,401.79L733.4,401.85L733.6,401.91L733.9,401.97L734.2,402.03L734.4,402.08L734.7,402.14L735.0,402.20L735.2,402.25L735.5,402.30L735.7,402.36L736.0,402.41L736.3,402.46L736.5,402.51L736.8,402.56L737.1,402.61L737.3,402.66L737.6,402.70L737.8,402.75L738.1,402.79L738.4,402.84L738.6,402.88L738.9,402.92L739.2,402.96L739.4,403.00L739.7,403.04L739.9,403.08L740.2,403.12L740.5,403.16L740.7,403.19L741.0,403.23L741.3,403.26L741.5,403.29L741.8,403.32L742.1,403.35L742.3,403.38L742.6,403.41L742.8,403.44L743.1,403.46L743.4,403.49L743.6,403.51L743.9,403.54L744.2,403.56L744.4,403.58L744.7,403.60L744.9,403.62L745.2,403.64L745.5,403.66L745.7,403.67L746.0,403.69L746.3,403.70L746.5,403.72L746.8,403.73L747.1,403.75L747.3,403.76L747.6,403.77L747.8,403.79L748.1,403.80L748.4,403.81L748.6,403.83L748.9,403.84L749.2,403.85L749.4,403.86L749.7,403.88L749.9,403.89L750.2,403.90L750.5,403.92L750.7,403.93L751.0,403.94L751.3,403.96L751.5,403.97L751.8,403.99L752.0,404.00L752.3,404.02L752.6,404.03L752.8,404.05L753.1,404.07L753.4,404.08L753.6,404.10L753.9,404.11L754.2,404.13L754.4,404.15L754.7,404.16L754.9,404.18L755.2,404.20L755.5,404.21L755.7,404.23L756.0,404.24L756.3,404.26L756.5,404.28L756.8,404.29L757.0,404.30L757.3,404.32L757.6,404.33L757.8,404.35L758.1,404.36L758.4,404.37L758.6,404.38L758.9,404.40L759.1,404.41L759.4,404.42L759.7,404.43L759.9,404.44L760.2,404.45L760.2,404.6" fill="#ffbb78" fill-opacity="0.45" stroke="#5a5a5a" stroke-width="1.8" stroke-linejoin="round"/>
<line x1="717.0" x2="717.0" y1="404.6" y2="397.7" stroke="#333" stroke-opacity="0.7" stroke-width="1.3" stroke-dasharray="2.5,2.5"/>
<g fill="#ff7f0e" fill-opacity="0.47" stroke="#ff7f0e" stroke-opacity="0.79" stroke-width="1.3"><circle cx="663.0" cy="413.3" r="5.2"/><circle cx="669.0" cy="413.3" r="5.2"/><circle cx="688.0" cy="415.4" r="5.2"/><circle cx="748.0" cy="412.5" r="5.2"/><circle cx="695.0" cy="415.7" r="5.2"/><circle cx="745.0" cy="415.8" r="5.2"/><circle cx="719.1" cy="417.7" r="5.2"/><circle cx="731.9" cy="418.3" r="5.2"/><circle cx="725.4" cy="414.9" r="5.2"/><circle cx="733.9" cy="417.3" r="5.2"/><circle cx="730.4" cy="413.9" r="5.2"/><circle cx="720.2" cy="413.7" r="5.2"/><circle cx="705.0" cy="415.8" r="5.2"/><circle cx="719.5" cy="417.8" r="5.2"/><circle cx="719.5" cy="413.0" r="5.2"/><circle cx="741.3" cy="415.6" r="5.2"/><circle cx="725.3" cy="415.4" r="5.2"/><circle cx="703.4" cy="416.5" r="5.2"/><circle cx="739.6" cy="416.1" r="5.2"/><circle cx="716.8" cy="415.4" r="5.2"/><circle cx="697.8" cy="413.8" r="5.2"/><circle cx="709.8" cy="416.1" r="5.2"/><circle cx="725.6" cy="415.2" r="5.2"/><circle cx="721.8" cy="413.1" r="5.2"/><circle cx="726.2" cy="418.7" r="5.2"/><circle cx="706.0" cy="417.9" r="5.2"/><circle cx="726.3" cy="412.5" r="5.2"/><circle cx="704.8" cy="416.7" r="5.2"/><circle cx="721.6" cy="417.6" r="5.2"/><circle cx="717.4" cy="412.8" r="5.2"/><circle cx="725.2" cy="412.7" r="5.2"/><circle cx="703.1" cy="418.5" r="5.2"/><circle cx="703.4" cy="413.1" r="5.2"/><circle cx="719.5" cy="415.9" r="5.2"/><circle cx="713.5" cy="417.4" r="5.2"/><circle cx="716.2" cy="415.0" r="5.2"/><circle cx="725.7" cy="413.9" r="5.2"/><circle cx="712.3" cy="415.4" r="5.2"/><circle cx="741.8" cy="415.8" r="5.2"/><circle cx="720.4" cy="418.5" r="5.2"/><circle cx="706.5" cy="415.8" r="5.2"/><circle cx="706.9" cy="418.2" r="5.2"/><circle cx="731.9" cy="416.8" r="5.2"/><circle cx="703.3" cy="412.6" r="5.2"/><circle cx="729.4" cy="412.4" r="5.2"/><circle cx="728.0" cy="412.4" r="5.2"/><circle cx="725.1" cy="416.2" r="5.2"/><circle cx="718.7" cy="415.7" r="5.2"/><circle cx="715.8" cy="413.1" r="5.2"/><circle cx="709.1" cy="416.1" r="5.2"/><circle cx="721.4" cy="417.4" r="5.2"/><circle cx="723.4" cy="415.6" r="5.2"/></g>
<path d="M650.0,419.0L650.0,418.96L650.4,418.95L650.8,418.94L651.1,418.94L651.5,418.93L651.9,418.92L652.2,418.91L652.6,418.90L653.0,418.89L653.4,418.88L653.8,418.87L654.1,418.86L654.5,418.85L654.9,418.84L655.2,418.82L655.6,418.81L656.0,418.79L656.4,418.78L656.8,418.76L657.1,418.75L657.5,418.73L657.9,418.71L658.2,418.70L658.6,418.68L659.0,418.66L659.4,418.65L659.8,418.63L660.1,418.61L660.5,418.60L660.9,418.58L661.2,418.57L661.6,418.55L662.0,418.54L662.4,418.53L662.8,418.52L663.1,418.51L663.5,418.50L663.9,418.49L664.2,418.48L664.6,418.48L665.0,418.47L665.4,418.47L665.8,418.47L666.1,418.47L666.5,418.47L666.9,418.47L667.2,418.47L667.6,418.48L668.0,418.48L668.4,418.49L668.8,418.50L669.1,418.51L669.5,418.52L669.9,418.53L670.2,418.54L670.6,418.55L671.0,418.57L671.4,418.58L671.8,418.59L672.1,418.61L672.5,418.62L672.9,418.63L673.2,418.65L673.6,418.66L674.0,418.67L674.4,418.69L674.8,418.70L675.1,418.71L675.5,418.72L675.9,418.73L676.2,418.73L676.6,418.74L677.0,418.74L677.4,418.75L677.8,418.75L678.1,418.75L678.5,418.75L678.9,418.75L679.2,418.75L679.6,418.74L680.0,418.73L680.4,418.73L680.8,418.72L681.1,418.70L681.5,418.69L681.9,418.68L682.2,418.66L682.6,418.64L683.0,418.63L683.4,418.61L683.8,418.58L684.1,418.56L684.5,418.54L684.9,418.51L685.2,418.48L685.6,418.46L686.0,418.43L686.4,418.39L686.8,418.36L687.1,418.33L687.5,418.29L687.9,418.25L688.2,418.21L688.6,418.17L689.0,418.13L689.4,418.08L689.8,418.03L690.1,417.98L690.5,417.93L690.9,417.87L691.2,417.82L691.6,417.76L692.0,417.70L692.4,417.63L692.8,417.56L693.1,417.49L693.5,417.42L693.9,417.35L694.2,417.27L694.6,417.19L695.0,417.10L695.4,417.02L695.8,416.93L696.1,416.84L696.5,416.74L696.9,416.64L697.2,416.54L697.6,416.44L698.0,416.34L698.4,416.23L698.8,416.13L699.1,416.02L699.5,415.90L699.9,415.79L700.2,415.68L700.6,415.56L701.0,415.44L701.4,415.32L701.8,415.20L702.1,415.08L702.5,414.96L702.9,414.84L703.2,414.72L703.6,414.60L704.0,414.48L704.4,414.36L704.8,414.23L705.1,414.12L705.5,414.00L705.9,413.88L706.2,413.76L706.6,413.65L707.0,413.54L707.4,413.43L707.8,413.32L708.1,413.21L708.5,413.11L708.9,413.01L709.2,412.92L709.6,412.83L710.0,412.74L710.4,412.65L710.8,412.57L711.1,412.50L711.5,412.43L711.9,412.36L712.2,412.30L712.6,412.24L713.0,412.19L713.4,412.15L713.8,412.11L714.1,412.08L714.5,412.05L714.9,412.03L715.2,412.01L715.6,412.00L716.0,412.00L716.4,412.00L716.8,412.01L717.1,412.03L717.5,412.05L717.9,412.07L718.2,412.11L718.6,412.15L719.0,412.19L719.4,412.24L719.8,412.29L720.1,412.35L720.5,412.42L720.9,412.49L721.2,412.56L721.6,412.64L722.0,412.72L722.4,412.81L722.8,412.90L723.1,412.99L723.5,413.08L723.9,413.18L724.2,413.28L724.6,413.39L725.0,413.49L725.4,413.60L725.8,413.70L726.1,413.81L726.5,413.92L726.9,414.03L727.2,414.14L727.6,414.25L728.0,414.36L728.4,414.47L728.8,414.58L729.1,414.69L729.5,414.79L729.9,414.90L730.2,415.00L730.6,415.11L731.0,415.21L731.4,415.31L731.8,415.41L732.1,415.50L732.5,415.60L732.9,415.69L733.2,415.78L733.6,415.87L734.0,415.95L734.4,416.04L734.8,416.12L735.1,416.20L735.5,416.27L735.9,416.35L736.2,416.42L736.6,416.49L737.0,416.56L737.4,416.63L737.8,416.70L738.1,416.76L738.5,416.82L738.9,416.89L739.2,416.95L739.6,417.00L740.0,417.06L740.4,417.12L740.8,417.17L741.1,417.23L741.5,417.28L741.9,417.33L742.2,417.38L742.6,417.43L743.0,417.48L743.4,417.53L743.8,417.58L744.1,417.63L744.5,417.67L744.9,417.72L745.2,417.77L745.6,417.81L746.0,417.86L746.4,417.90L746.8,417.95L747.1,417.99L747.5,418.03L747.9,418.08L748.2,418.12L748.6,418.16L749.0,418.20L749.4,418.24L749.8,418.28L750.1,418.32L750.5,418.36L750.9,418.39L751.2,418.43L751.6,418.46L752.0,418.50L752.4,418.53L752.8,418.56L753.1,418.59L753.5,418.62L753.9,418.65L754.2,418.67L754.6,418.70L755.0,418.72L755.4,418.74L755.8,418.77L756.1,418.79L756.5,418.80L756.9,418.82L757.2,418.84L757.6,418.85L758.0,418.87L758.4,418.88L758.8,418.89L759.1,418.90L759.5,418.91L759.9,418.92L760.2,418.93L760.6,418.94L761.0,418.95L761.4,418.95L761.8,418.96L762.1,418.96L762.5,418.97L762.5,419.0" fill="#ff7f0e" fill-opacity="0.45" stroke="#5a5a5a" stroke-width="1.8" stroke-linejoin="round"/>
<line x1="715.4" x2="715.4" y1="419.0" y2="412.0" stroke="#333" stroke-opacity="0.7" stroke-width="1.3" stroke-dasharray="2.5,2.5"/>
<g fill="#2ca02c" fill-opacity="0.47" stroke="#2ca02c" stroke-opacity="0.79" stroke-width="1.3"><circle cx="686.2" cy="428.9" r="5.2"/><circle cx="693.7" cy="426.1" r="5.2"/><circle cx="741.0" cy="433.2" r="5.2"/><circle cx="700.0" cy="429.6" r="5.2"/><circle cx="735.0" cy="430.9" r="5.2"/><circle cx="710.2" cy="427.3" r="5.2"/><circle cx="713.4" cy="432.6" r="5.2"/><circle cx="716.5" cy="430.0" r="5.2"/><circle cx="704.7" cy="429.5" r="5.2"/><circle cx="725.9" cy="427.0" r="5.2"/><circle cx="722.5" cy="430.3" r="5.2"/><circle cx="726.8" cy="430.6" r="5.2"/><circle cx="714.6" cy="429.9" r="5.2"/><circle cx="708.6" cy="428.1" r="5.2"/><circle cx="722.0" cy="428.6" r="5.2"/><circle cx="706.1" cy="430.9" r="5.2"/><circle cx="718.1" cy="428.6" r="5.2"/><circle cx="708.6" cy="430.1" r="5.2"/><circle cx="708.7" cy="428.6" r="5.2"/><circle cx="725.9" cy="430.1" r="5.2"/><circle cx="730.6" cy="432.2" r="5.2"/><circle cx="714.4" cy="432.0" r="5.2"/><circle cx="713.9" cy="427.1" r="5.2"/></g>
<path d="M670.7,433.4L670.7,433.37L671.0,433.36L671.3,433.35L671.5,433.35L671.8,433.34L672.1,433.33L672.4,433.32L672.7,433.32L673.0,433.31L673.2,433.30L673.5,433.29L673.8,433.28L674.1,433.27L674.4,433.26L674.7,433.25L674.9,433.24L675.2,433.22L675.5,433.21L675.8,433.20L676.1,433.18L676.4,433.17L676.6,433.16L676.9,433.14L677.2,433.13L677.5,433.11L677.8,433.09L678.0,433.08L678.3,433.06L678.6,433.04L678.9,433.02L679.2,433.01L679.5,432.99L679.7,432.97L680.0,432.95L680.3,432.93L680.6,432.91L680.9,432.89L681.2,432.87L681.4,432.85L681.7,432.83L682.0,432.81L682.3,432.79L682.6,432.77L682.9,432.75L683.1,432.73L683.4,432.71L683.7,432.69L684.0,432.66L684.3,432.64L684.6,432.62L684.8,432.60L685.1,432.58L685.4,432.56L685.7,432.54L686.0,432.52L686.2,432.50L686.5,432.48L686.8,432.45L687.1,432.43L687.4,432.41L687.7,432.39L687.9,432.37L688.2,432.35L688.5,432.33L688.8,432.31L689.1,432.29L689.4,432.26L689.6,432.24L689.9,432.22L690.2,432.20L690.5,432.17L690.8,432.15L691.1,432.13L691.3,432.10L691.6,432.08L691.9,432.05L692.2,432.02L692.5,432.00L692.7,431.97L693.0,431.94L693.3,431.91L693.6,431.88L693.9,431.85L694.2,431.82L694.4,431.78L694.7,431.75L695.0,431.71L695.3,431.67L695.6,431.63L695.9,431.59L696.1,431.55L696.4,431.50L696.7,431.46L697.0,431.41L697.3,431.36L697.6,431.31L697.8,431.26L698.1,431.20L698.4,431.14L698.7,431.09L699.0,431.02L699.2,430.96L699.5,430.90L699.8,430.83L700.1,430.76L700.4,430.69L700.7,430.62L700.9,430.55L701.2,430.47L701.5,430.39L701.8,430.31L702.1,430.23L702.4,430.15L702.6,430.06L702.9,429.98L703.2,429.89L703.5,429.80L703.8,429.71L704.1,429.62L704.3,429.53L704.6,429.43L704.9,429.34L705.2,429.24L705.5,429.15L705.8,429.05L706.0,428.95L706.3,428.86L706.6,428.76L706.9,428.66L707.2,428.56L707.4,428.47L707.7,428.37L708.0,428.28L708.3,428.18L708.6,428.09L708.9,427.99L709.1,427.90L709.4,427.81L709.7,427.72L710.0,427.64L710.3,427.55L710.6,427.47L710.8,427.39L711.1,427.31L711.4,427.23L711.7,427.16L712.0,427.09L712.3,427.02L712.5,426.96L712.8,426.90L713.1,426.84L713.4,426.79L713.7,426.74L713.9,426.69L714.2,426.65L714.5,426.61L714.8,426.57L715.1,426.54L715.4,426.51L715.6,426.49L715.9,426.47L716.2,426.46L716.5,426.45L716.8,426.44L717.1,426.44L717.3,426.44L717.6,426.45L717.9,426.46L718.2,426.48L718.5,426.50L718.8,426.52L719.0,426.55L719.3,426.58L719.6,426.61L719.9,426.65L720.2,426.70L720.4,426.74L720.7,426.80L721.0,426.85L721.3,426.91L721.6,426.97L721.9,427.03L722.1,427.10L722.4,427.17L722.7,427.24L723.0,427.32L723.3,427.40L723.6,427.48L723.8,427.56L724.1,427.65L724.4,427.73L724.7,427.82L725.0,427.91L725.3,428.00L725.5,428.09L725.8,428.19L726.1,428.28L726.4,428.38L726.7,428.47L727.0,428.57L727.2,428.67L727.5,428.77L727.8,428.86L728.1,428.96L728.4,429.06L728.6,429.16L728.9,429.25L729.2,429.35L729.5,429.44L729.8,429.54L730.1,429.63L730.3,429.72L730.6,429.82L730.9,429.91L731.2,430.00L731.5,430.09L731.8,430.17L732.0,430.26L732.3,430.34L732.6,430.43L732.9,430.51L733.2,430.59L733.5,430.67L733.7,430.74L734.0,430.82L734.3,430.89L734.6,430.97L734.9,431.04L735.1,431.11L735.4,431.17L735.7,431.24L736.0,431.31L736.3,431.37L736.6,431.43L736.8,431.49L737.1,431.55L737.4,431.60L737.7,431.66L738.0,431.71L738.3,431.77L738.5,431.82L738.8,431.87L739.1,431.92L739.4,431.97L739.7,432.01L740.0,432.06L740.2,432.10L740.5,432.14L740.8,432.19L741.1,432.23L741.4,432.27L741.6,432.31L741.9,432.34L742.2,432.38L742.5,432.42L742.8,432.45L743.1,432.49L743.3,432.52L743.6,432.55L743.9,432.59L744.2,432.62L744.5,432.65L744.8,432.68L745.0,432.71L745.3,432.73L745.6,432.76L745.9,432.79L746.2,432.82L746.5,432.84L746.7,432.87L747.0,432.89L747.3,432.91L747.6,432.94L747.9,432.96L748.2,432.98L748.4,433.00L748.7,433.02L749.0,433.04L749.3,433.06L749.6,433.08L749.8,433.10L750.1,433.12L750.4,433.13L750.7,433.15L751.0,433.16L751.3,433.18L751.5,433.19L751.8,433.21L752.1,433.22L752.4,433.23L752.7,433.25L753.0,433.26L753.2,433.27L753.5,433.28L753.8,433.29L754.1,433.30L754.4,433.31L754.7,433.32L754.9,433.33L755.2,433.33L755.5,433.34L755.5,433.4" fill="#2ca02c" fill-opacity="0.45" stroke="#5a5a5a" stroke-width="1.8" stroke-linejoin="round"/>
<line x1="715.8" x2="715.8" y1="433.4" y2="426.5" stroke="#333" stroke-opacity="0.7" stroke-width="1.3" stroke-dasharray="2.5,2.5"/>
<g fill="#e377c2" fill-opacity="0.34" stroke="#e377c2" stroke-opacity="0.66" stroke-width="1.3"><circle cx="750.0" cy="447.1" r="5.2"/><circle cx="771.0" cy="441.7" r="5.2"/><circle cx="689.0" cy="444.6" r="5.2"/><circle cx="746.0" cy="444.8" r="5.2"/><circle cx="724.6" cy="443.2" r="5.2"/><circle cx="719.3" cy="446.6" r="5.2"/><circle cx="718.6" cy="447.3" r="5.2"/><circle cx="706.1" cy="446.6" r="5.2"/><circle cx="726.0" cy="442.9" r="5.2"/><circle cx="713.1" cy="441.6" r="5.2"/><circle cx="743.8" cy="445.2" r="5.2"/><circle cx="735.3" cy="442.5" r="5.2"/><circle cx="694.1" cy="443.1" r="5.2"/><circle cx="735.2" cy="444.2" r="5.2"/><circle cx="744.7" cy="443.0" r="5.2"/><circle cx="720.8" cy="446.3" r="5.2"/><circle cx="709.3" cy="446.0" r="5.2"/><circle cx="717.8" cy="443.3" r="5.2"/><circle cx="694.5" cy="444.8" r="5.2"/><circle cx="692.4" cy="447.4" r="5.2"/><circle cx="725.0" cy="444.3" r="5.2"/><circle cx="705.1" cy="443.0" r="5.2"/><circle cx="730.1" cy="445.1" r="5.2"/><circle cx="721.0" cy="444.5" r="5.2"/><circle cx="709.3" cy="446.5" r="5.2"/><circle cx="692.7" cy="442.1" r="5.2"/><circle cx="705.3" cy="444.3" r="5.2"/><circle cx="701.8" cy="447.0" r="5.2"/><circle cx="726.3" cy="445.0" r="5.2"/><circle cx="743.4" cy="445.6" r="5.2"/><circle cx="719.8" cy="441.5" r="5.2"/><circle cx="720.7" cy="442.6" r="5.2"/><circle cx="705.5" cy="445.7" r="5.2"/><circle cx="711.9" cy="441.4" r="5.2"/><circle cx="721.8" cy="441.4" r="5.2"/><circle cx="706.2" cy="445.7" r="5.2"/><circle cx="716.1" cy="447.6" r="5.2"/><circle cx="702.6" cy="447.2" r="5.2"/><circle cx="717.9" cy="443.7" r="5.2"/><circle cx="700.1" cy="446.0" r="5.2"/><circle cx="729.8" cy="442.1" r="5.2"/><circle cx="735.3" cy="445.4" r="5.2"/><circle cx="723.2" cy="443.7" r="5.2"/><circle cx="716.9" cy="445.2" r="5.2"/><circle cx="727.7" cy="442.9" r="5.2"/><circle cx="705.2" cy="441.2" r="5.2"/><circle cx="720.8" cy="442.1" r="5.2"/><circle cx="697.9" cy="445.9" r="5.2"/><circle cx="702.7" cy="446.5" r="5.2"/><circle cx="691.6" cy="445.5" r="5.2"/><circle cx="707.7" cy="447.2" r="5.2"/><circle cx="713.9" cy="442.1" r="5.2"/><circle cx="712.0" cy="446.6" r="5.2"/><circle cx="708.0" cy="444.4" r="5.2"/><circle cx="731.4" cy="443.2" r="5.2"/><circle cx="693.2" cy="443.7" r="5.2"/><circle cx="719.4" cy="444.5" r="5.2"/><circle cx="694.1" cy="443.7" r="5.2"/><circle cx="737.5" cy="446.4" r="5.2"/><circle cx="702.1" cy="446.3" r="5.2"/><circle cx="715.3" cy="445.4" r="5.2"/><circle cx="707.5" cy="446.1" r="5.2"/><circle cx="742.8" cy="445.2" r="5.2"/><circle cx="689.1" cy="447.2" r="5.2"/><circle cx="700.0" cy="445.7" r="5.2"/><circle cx="724.0" cy="445.8" r="5.2"/><circle cx="700.1" cy="446.1" r="5.2"/><circle cx="716.1" cy="443.7" r="5.2"/><circle cx="696.7" cy="445.4" r="5.2"/><circle cx="738.3" cy="443.5" r="5.2"/><circle cx="727.1" cy="442.9" r="5.2"/><circle cx="710.3" cy="444.0" r="5.2"/><circle cx="700.6" cy="446.8" r="5.2"/><circle cx="697.1" cy="444.0" r="5.2"/><circle cx="722.1" cy="443.4" r="5.2"/><circle cx="701.0" cy="443.9" r="5.2"/><circle cx="726.1" cy="442.1" r="5.2"/><circle cx="691.6" cy="447.0" r="5.2"/><circle cx="716.5" cy="442.8" r="5.2"/><circle cx="724.5" cy="443.3" r="5.2"/><circle cx="718.9" cy="442.2" r="5.2"/><circle cx="707.9" cy="446.0" r="5.2"/><circle cx="712.5" cy="441.9" r="5.2"/><circle cx="717.4" cy="442.4" r="5.2"/><circle cx="705.4" cy="445.1" r="5.2"/><circle cx="709.9" cy="445.0" r="5.2"/><circle cx="700.8" cy="442.4" r="5.2"/></g>
<path d="M677.7,447.9L677.7,447.82L678.1,447.82L678.4,447.81L678.8,447.80L679.1,447.79L679.5,447.77L679.8,447.76L680.2,447.75L680.6,447.73L680.9,447.71L681.3,447.69L681.6,447.67L682.0,447.65L682.3,447.62L682.7,447.60L683.1,447.57L683.4,447.54L683.8,447.50L684.1,447.47L684.5,447.43L684.9,447.39L685.2,447.35L685.6,447.31L685.9,447.26L686.3,447.21L686.6,447.16L687.0,447.11L687.4,447.06L687.7,447.00L688.1,446.94L688.4,446.88L688.8,446.82L689.1,446.76L689.5,446.70L689.9,446.63L690.2,446.57L690.6,446.50L690.9,446.43L691.3,446.36L691.6,446.29L692.0,446.22L692.4,446.15L692.7,446.08L693.1,446.01L693.4,445.94L693.8,445.86L694.2,445.79L694.5,445.71L694.9,445.64L695.2,445.56L695.6,445.48L695.9,445.40L696.3,445.33L696.7,445.25L697.0,445.17L697.4,445.08L697.7,445.00L698.1,444.92L698.4,444.83L698.8,444.75L699.2,444.66L699.5,444.57L699.9,444.48L700.2,444.39L700.6,444.30L700.9,444.21L701.3,444.11L701.7,444.02L702.0,443.92L702.4,443.82L702.7,443.73L703.1,443.63L703.5,443.53L703.8,443.43L704.2,443.33L704.5,443.23L704.9,443.12L705.2,443.02L705.6,442.92L706.0,442.82L706.3,442.72L706.7,442.62L707.0,442.52L707.4,442.43L707.7,442.33L708.1,442.23L708.5,442.14L708.8,442.05L709.2,441.96L709.5,441.87L709.9,441.79L710.2,441.71L710.6,441.63L711.0,441.55L711.3,441.48L711.7,441.41L712.0,441.34L712.4,441.28L712.8,441.22L713.1,441.17L713.5,441.12L713.8,441.07L714.2,441.03L714.5,441.00L714.9,440.97L715.3,440.94L715.6,440.92L716.0,440.90L716.3,440.89L716.7,440.88L717.0,440.88L717.4,440.88L717.8,440.89L718.1,440.90L718.5,440.92L718.8,440.95L719.2,440.97L719.5,441.01L719.9,441.04L720.3,441.08L720.6,441.13L721.0,441.18L721.3,441.24L721.7,441.30L722.1,441.36L722.4,441.43L722.8,441.50L723.1,441.57L723.5,441.65L723.8,441.73L724.2,441.81L724.6,441.89L724.9,441.98L725.3,442.07L725.6,442.16L726.0,442.26L726.3,442.35L726.7,442.45L727.1,442.55L727.4,442.64L727.8,442.74L728.1,442.84L728.5,442.95L728.8,443.05L729.2,443.15L729.6,443.25L729.9,443.35L730.3,443.45L730.6,443.55L731.0,443.65L731.4,443.74L731.7,443.84L732.1,443.94L732.4,444.03L732.8,444.13L733.1,444.22L733.5,444.31L733.9,444.40L734.2,444.49L734.6,444.57L734.9,444.66L735.3,444.74L735.6,444.82L736.0,444.90L736.4,444.98L736.7,445.06L737.1,445.13L737.4,445.21L737.8,445.28L738.1,445.35L738.5,445.42L738.9,445.49L739.2,445.56L739.6,445.63L739.9,445.70L740.3,445.76L740.6,445.83L741.0,445.89L741.4,445.95L741.7,446.01L742.1,446.07L742.4,446.13L742.8,446.19L743.2,446.25L743.5,446.31L743.9,446.37L744.2,446.42L744.6,446.48L744.9,446.53L745.3,446.58L745.7,446.64L746.0,446.69L746.4,446.74L746.7,446.79L747.1,446.84L747.4,446.89L747.8,446.93L748.2,446.98L748.5,447.02L748.9,447.07L749.2,447.11L749.6,447.15L749.9,447.19L750.3,447.23L750.7,447.27L751.0,447.30L751.4,447.34L751.7,447.37L752.1,447.41L752.5,447.44L752.8,447.47L753.2,447.50L753.5,447.52L753.9,447.55L754.2,447.57L754.6,447.60L755.0,447.62L755.3,447.64L755.7,447.66L756.0,447.68L756.4,447.69L756.7,447.71L757.1,447.72L757.5,447.73L757.8,447.75L758.2,447.76L758.5,447.76L758.9,447.77L759.2,447.78L759.6,447.78L760.0,447.79L760.3,447.79L760.7,447.79L761.0,447.79L761.4,447.79L761.8,447.79L762.1,447.79L762.5,447.79L762.8,447.79L763.2,447.78L763.5,447.78L763.9,447.77L764.3,447.77L764.6,447.76L765.0,447.75L765.3,447.75L765.7,447.74L766.0,447.73L766.4,447.73L766.8,447.72L767.1,447.71L767.5,447.71L767.8,447.70L768.2,447.70L768.5,447.69L768.9,447.69L769.3,447.68L769.6,447.68L770.0,447.68L770.3,447.67L770.7,447.67L771.1,447.67L771.4,447.67L771.8,447.67L772.1,447.68L772.5,447.68L772.8,447.68L773.2,447.69L773.6,447.69L773.9,447.70L774.3,447.70L774.6,447.71L775.0,447.72L775.3,447.73L775.7,447.73L776.1,447.74L776.4,447.75L776.8,447.76L777.1,447.77L777.5,447.77L777.8,447.78L778.2,447.79L778.6,447.80L778.9,447.80L779.3,447.81L779.6,447.82L780.0,447.82L780.4,447.83L780.7,447.83L781.1,447.84L781.4,447.84L781.8,447.85L782.1,447.85L782.5,447.85L782.9,447.86L783.2,447.86L783.6,447.86L783.9,447.86L784.3,447.87L784.6,447.87L785.0,447.87L785.0,447.9" fill="#e377c2" fill-opacity="0.45" stroke="#5a5a5a" stroke-width="1.8" stroke-linejoin="round"/>
<line x1="718.2" x2="718.2" y1="447.9" y2="440.9" stroke="#333" stroke-opacity="0.7" stroke-width="1.3" stroke-dasharray="2.5,2.5"/>
<g fill="#9467bd" fill-opacity="0.47" stroke="#9467bd" stroke-opacity="0.79" stroke-width="1.3"><circle cx="668.0" cy="455.9" r="5.2"/><circle cx="765.0" cy="461.5" r="5.2"/><circle cx="719.9" cy="460.1" r="5.2"/><circle cx="670.8" cy="460.1" r="5.2"/><circle cx="729.9" cy="459.1" r="5.2"/><circle cx="732.8" cy="457.7" r="5.2"/><circle cx="741.1" cy="456.1" r="5.2"/><circle cx="726.7" cy="455.7" r="5.2"/><circle cx="704.1" cy="459.3" r="5.2"/><circle cx="721.8" cy="458.8" r="5.2"/><circle cx="707.1" cy="459.1" r="5.2"/><circle cx="757.1" cy="457.1" r="5.2"/><circle cx="722.2" cy="455.8" r="5.2"/><circle cx="699.1" cy="460.8" r="5.2"/><circle cx="733.8" cy="460.2" r="5.2"/><circle cx="726.1" cy="456.9" r="5.2"/><circle cx="722.6" cy="455.8" r="5.2"/><circle cx="723.8" cy="457.0" r="5.2"/><circle cx="742.1" cy="456.3" r="5.2"/><circle cx="739.5" cy="457.5" r="5.2"/><circle cx="741.7" cy="457.7" r="5.2"/><circle cx="745.7" cy="458.6" r="5.2"/><circle cx="681.7" cy="456.1" r="5.2"/><circle cx="711.5" cy="458.3" r="5.2"/><circle cx="698.7" cy="457.4" r="5.2"/><circle cx="722.8" cy="459.0" r="5.2"/><circle cx="747.6" cy="460.7" r="5.2"/><circle cx="733.3" cy="459.4" r="5.2"/><circle cx="743.1" cy="459.3" r="5.2"/><circle cx="672.8" cy="461.0" r="5.2"/><circle cx="731.5" cy="457.6" r="5.2"/><circle cx="706.0" cy="460.9" r="5.2"/><circle cx="714.4" cy="458.3" r="5.2"/><circle cx="711.5" cy="458.6" r="5.2"/><circle cx="674.7" cy="456.2" r="5.2"/><circle cx="708.8" cy="460.9" r="5.2"/><circle cx="718.4" cy="460.7" r="5.2"/><circle cx="674.4" cy="457.6" r="5.2"/><circle cx="753.6" cy="456.9" r="5.2"/><circle cx="702.0" cy="461.1" r="5.2"/><circle cx="685.2" cy="460.6" r="5.2"/><circle cx="739.8" cy="461.7" r="5.2"/><circle cx="700.3" cy="459.5" r="5.2"/><circle cx="744.5" cy="460.4" r="5.2"/><circle cx="672.6" cy="456.7" r="5.2"/><circle cx="702.5" cy="457.6" r="5.2"/><circle cx="721.8" cy="458.5" r="5.2"/><circle cx="741.8" cy="460.5" r="5.2"/><circle cx="750.9" cy="460.6" r="5.2"/><circle cx="736.4" cy="456.4" r="5.2"/><circle cx="693.5" cy="456.7" r="5.2"/><circle cx="713.2" cy="458.9" r="5.2"/><circle cx="696.5" cy="460.3" r="5.2"/><circle cx="730.8" cy="456.2" r="5.2"/><circle cx="680.6" cy="457.3" r="5.2"/><circle cx="720.1" cy="457.2" r="5.2"/><circle cx="762.7" cy="459.4" r="5.2"/><circle cx="742.0" cy="459.8" r="5.2"/><circle cx="736.6" cy="456.9" r="5.2"/><circle cx="684.9" cy="458.4" r="5.2"/><circle cx="702.1" cy="456.1" r="5.2"/><circle cx="681.3" cy="459.5" r="5.2"/><circle cx="736.5" cy="461.9" r="5.2"/><circle cx="703.1" cy="456.5" r="5.2"/><circle cx="684.1" cy="457.0" r="5.2"/><circle cx="740.5" cy="459.9" r="5.2"/><circle cx="732.1" cy="459.4" r="5.2"/><circle cx="698.0" cy="455.7" r="5.2"/><circle cx="734.5" cy="457.4" r="5.2"/><circle cx="738.2" cy="461.6" r="5.2"/><circle cx="733.7" cy="461.0" r="5.2"/><circle cx="753.9" cy="459.2" r="5.2"/><circle cx="717.0" cy="456.9" r="5.2"/><circle cx="737.5" cy="460.6" r="5.2"/><circle cx="713.1" cy="456.5" r="5.2"/><circle cx="696.9" cy="458.5" r="5.2"/><circle cx="714.7" cy="460.0" r="5.2"/><circle cx="683.3" cy="458.6" r="5.2"/><circle cx="700.6" cy="457.2" r="5.2"/><circle cx="701.8" cy="458.0" r="5.2"/><circle cx="717.6" cy="456.9" r="5.2"/><circle cx="709.5" cy="457.8" r="5.2"/><circle cx="711.4" cy="457.0" r="5.2"/><circle cx="720.7" cy="458.8" r="5.2"/><circle cx="691.7" cy="460.3" r="5.2"/><circle cx="716.2" cy="459.2" r="5.2"/><circle cx="704.4" cy="461.3" r="5.2"/><circle cx="686.9" cy="461.5" r="5.2"/><circle cx="761.2" cy="458.1" r="5.2"/><circle cx="707.0" cy="455.9" r="5.2"/><circle cx="708.2" cy="462.0" r="5.2"/><circle cx="677.5" cy="455.9" r="5.2"/><circle cx="746.8" cy="457.0" r="5.2"/><circle cx="701.5" cy="456.7" r="5.2"/><circle cx="762.7" cy="457.8" r="5.2"/></g>
<path d="M656.5,462.3L656.5,462.28L656.9,462.28L657.3,462.27L657.7,462.26L658.1,462.25L658.5,462.24L658.9,462.23L659.3,462.21L659.7,462.19L660.1,462.18L660.5,462.16L660.9,462.13L661.3,462.11L661.7,462.09L662.1,462.06L662.5,462.03L662.9,462.00L663.3,461.96L663.7,461.93L664.1,461.89L664.5,461.85L664.9,461.81L665.3,461.76L665.7,461.72L666.1,461.68L666.5,461.63L666.9,461.58L667.3,461.54L667.7,461.49L668.1,461.44L668.5,461.40L668.9,461.35L669.3,461.31L669.7,461.26L670.1,461.22L670.5,461.18L670.9,461.14L671.3,461.10L671.7,461.06L672.1,461.02L672.5,460.99L672.9,460.96L673.3,460.93L673.7,460.90L674.1,460.87L674.5,460.85L674.9,460.83L675.3,460.81L675.7,460.79L676.1,460.77L676.5,460.75L676.9,460.74L677.3,460.72L677.7,460.71L678.1,460.69L678.5,460.68L678.9,460.67L679.3,460.65L679.7,460.64L680.1,460.63L680.5,460.62L680.9,460.61L681.3,460.59L681.7,460.58L682.1,460.57L682.5,460.55L682.9,460.54L683.3,460.52L683.7,460.51L684.1,460.49L684.5,460.47L684.9,460.45L685.3,460.44L685.7,460.41L686.1,460.39L686.5,460.37L687.0,460.35L687.4,460.32L687.8,460.29L688.2,460.26L688.6,460.24L689.0,460.20L689.4,460.17L689.8,460.14L690.2,460.10L690.6,460.06L691.0,460.02L691.4,459.98L691.8,459.94L692.2,459.90L692.6,459.85L693.0,459.80L693.4,459.75L693.8,459.70L694.2,459.64L694.6,459.59L695.0,459.53L695.4,459.47L695.8,459.41L696.2,459.35L696.6,459.28L697.0,459.21L697.4,459.14L697.8,459.07L698.2,459.00L698.6,458.92L699.0,458.85L699.4,458.77L699.8,458.69L700.2,458.61L700.6,458.52L701.0,458.44L701.4,458.35L701.8,458.27L702.2,458.18L702.6,458.09L703.0,458.00L703.4,457.91L703.8,457.82L704.2,457.73L704.6,457.63L705.0,457.54L705.4,457.45L705.8,457.35L706.2,457.26L706.6,457.17L707.0,457.08L707.4,456.98L707.8,456.89L708.2,456.80L708.6,456.72L709.0,456.63L709.4,456.54L709.8,456.46L710.2,456.38L710.6,456.30L711.0,456.22L711.4,456.14L711.8,456.07L712.2,456.00L712.6,455.93L713.0,455.86L713.4,455.80L713.8,455.74L714.2,455.69L714.6,455.64L715.0,455.59L715.4,455.54L715.8,455.50L716.2,455.47L716.6,455.43L717.0,455.40L717.4,455.38L717.8,455.36L718.2,455.34L718.6,455.33L719.0,455.32L719.4,455.32L719.8,455.32L720.2,455.33L720.6,455.34L721.0,455.35L721.4,455.37L721.8,455.39L722.2,455.42L722.6,455.45L723.0,455.48L723.4,455.52L723.8,455.57L724.2,455.61L724.6,455.66L725.0,455.72L725.4,455.77L725.8,455.83L726.2,455.90L726.6,455.96L727.0,456.03L727.4,456.11L727.8,456.18L728.2,456.26L728.6,456.34L729.0,456.42L729.4,456.50L729.8,456.59L730.2,456.67L730.6,456.76L731.0,456.85L731.4,456.94L731.8,457.03L732.2,457.12L732.6,457.22L733.0,457.31L733.4,457.40L733.8,457.50L734.2,457.59L734.6,457.68L735.0,457.77L735.4,457.87L735.8,457.96L736.2,458.05L736.6,458.14L737.0,458.23L737.4,458.31L737.8,458.40L738.2,458.48L738.6,458.57L739.0,458.65L739.4,458.73L739.8,458.81L740.2,458.89L740.6,458.96L741.0,459.04L741.4,459.11L741.8,459.18L742.2,459.25L742.6,459.31L743.0,459.38L743.4,459.44L743.8,459.50L744.2,459.56L744.6,459.62L745.0,459.67L745.4,459.73L745.8,459.78L746.2,459.83L746.7,459.87L747.1,459.92L747.5,459.96L747.9,460.01L748.3,460.05L748.7,460.09L749.1,460.12L749.5,460.16L749.9,460.19L750.3,460.22L750.7,460.26L751.1,460.29L751.5,460.32L751.9,460.34L752.3,460.37L752.7,460.40L753.1,460.42L753.5,460.45L753.9,460.47L754.3,460.50L754.7,460.52L755.1,460.54L755.5,460.57L755.9,460.59L756.3,460.62L756.7,460.64L757.1,460.67L757.5,460.69L757.9,460.72L758.3,460.75L758.7,460.78L759.1,460.81L759.5,460.84L759.9,460.88L760.3,460.91L760.7,460.95L761.1,460.99L761.5,461.03L761.9,461.07L762.3,461.11L762.7,461.16L763.1,461.20L763.5,461.25L763.9,461.30L764.3,461.35L764.7,461.40L765.1,461.44L765.5,461.49L765.9,461.54L766.3,461.59L766.7,461.64L767.1,461.68L767.5,461.73L767.9,461.77L768.3,461.82L768.7,461.86L769.1,461.90L769.5,461.94L769.9,461.97L770.3,462.01L770.7,462.04L771.1,462.07L771.5,462.09L771.9,462.12L772.3,462.14L772.7,462.16L773.1,462.18L773.5,462.20L773.9,462.22L774.3,462.23L774.7,462.24L775.1,462.25L775.5,462.26L775.9,462.27L776.3,462.28L776.7,462.29L776.7,462.3" fill="#9467bd" fill-opacity="0.45" stroke="#5a5a5a" stroke-width="1.8" stroke-linejoin="round"/>
<line x1="718.2" x2="718.2" y1="462.3" y2="455.3" stroke="#333" stroke-opacity="0.7" stroke-width="1.3" stroke-dasharray="2.5,2.5"/>
<g fill="#c49c94" fill-opacity="0.3" stroke="#c49c94" stroke-opacity="0.62" stroke-width="1.3"><circle cx="724.0" cy="473.7" r="5.2"/><circle cx="726.5" cy="473.7" r="5.2"/></g>
<path d="M718.9,476.8L718.9,476.47L718.9,476.46L719.0,476.44L719.0,476.43L719.1,476.41L719.1,476.40L719.2,476.38L719.2,476.36L719.2,476.34L719.3,476.33L719.3,476.31L719.4,476.29L719.4,476.27L719.5,476.25L719.5,476.23L719.5,476.20L719.6,476.18L719.6,476.16L719.7,476.13L719.7,476.11L719.8,476.08L719.8,476.05L719.8,476.03L719.9,476.00L719.9,475.97L720.0,475.94L720.0,475.91L720.1,475.88L720.1,475.84L720.1,475.81L720.2,475.77L720.2,475.74L720.3,475.70L720.3,475.67L720.4,475.63L720.4,475.59L720.4,475.55L720.5,475.51L720.5,475.47L720.6,475.42L720.6,475.38L720.7,475.34L720.7,475.29L720.7,475.24L720.8,475.20L720.8,475.15L720.9,475.10L720.9,475.05L721.0,475.00L721.0,474.95L721.0,474.89L721.1,474.84L721.1,474.79L721.2,474.73L721.2,474.68L721.3,474.62L721.3,474.56L721.4,474.50L721.4,474.44L721.4,474.38L721.5,474.32L721.5,474.26L721.6,474.20L721.6,474.13L721.7,474.07L721.7,474.01L721.7,473.94L721.8,473.87L721.8,473.81L721.9,473.74L721.9,473.67L722.0,473.61L722.0,473.54L722.0,473.47L722.1,473.40L722.1,473.33L722.2,473.26L722.2,473.19L722.3,473.12L722.3,473.05L722.3,472.98L722.4,472.91L722.4,472.84L722.5,472.76L722.5,472.69L722.6,472.62L722.6,472.55L722.6,472.48L722.7,472.41L722.7,472.34L722.8,472.26L722.8,472.19L722.9,472.12L722.9,472.05L722.9,471.98L723.0,471.91L723.0,471.85L723.1,471.78L723.1,471.71L723.2,471.64L723.2,471.57L723.2,471.51L723.3,471.44L723.3,471.38L723.4,471.31L723.4,471.25L723.5,471.19L723.5,471.13L723.5,471.07L723.6,471.01L723.6,470.95L723.7,470.89L723.7,470.83L723.8,470.78L723.8,470.72L723.8,470.67L723.9,470.62L723.9,470.57L724.0,470.52L724.0,470.47L724.1,470.42L724.1,470.38L724.1,470.34L724.2,470.29L724.2,470.25L724.3,470.21L724.3,470.17L724.4,470.14L724.4,470.10L724.4,470.07L724.5,470.04L724.5,470.01L724.6,469.98L724.6,469.95L724.7,469.93L724.7,469.90L724.7,469.88L724.8,469.86L724.8,469.84L724.9,469.83L724.9,469.81L725.0,469.80L725.0,469.79L725.0,469.78L725.1,469.77L725.1,469.77L725.2,469.76L725.2,469.76L725.3,469.76L725.3,469.76L725.3,469.76L725.4,469.77L725.4,469.78L725.5,469.79L725.5,469.80L725.6,469.81L725.6,469.82L725.7,469.84L725.7,469.86L725.7,469.88L725.8,469.90L725.8,469.92L725.9,469.94L725.9,469.97L726.0,470.00L726.0,470.03L726.0,470.06L726.1,470.09L726.1,470.13L726.2,470.16L726.2,470.20L726.3,470.24L726.3,470.28L726.3,470.32L726.4,470.36L726.4,470.41L726.5,470.45L726.5,470.50L726.6,470.55L726.6,470.60L726.6,470.65L726.7,470.71L726.7,470.76L726.8,470.81L726.8,470.87L726.9,470.93L726.9,470.99L726.9,471.05L727.0,471.11L727.0,471.17L727.1,471.23L727.1,471.29L727.2,471.36L727.2,471.42L727.2,471.49L727.3,471.55L727.3,471.62L727.4,471.69L727.4,471.75L727.5,471.82L727.5,471.89L727.5,471.96L727.6,472.03L727.6,472.10L727.7,472.17L727.7,472.24L727.8,472.31L727.8,472.38L727.8,472.45L727.9,472.52L727.9,472.60L728.0,472.67L728.0,472.74L728.1,472.81L728.1,472.88L728.1,472.95L728.2,473.02L728.2,473.09L728.3,473.17L728.3,473.24L728.4,473.31L728.4,473.38L728.4,473.44L728.5,473.51L728.5,473.58L728.6,473.65L728.6,473.72L728.7,473.79L728.7,473.85L728.7,473.92L728.8,473.98L728.8,474.05L728.9,474.11L728.9,474.18L729.0,474.24L729.0,474.30L729.0,474.36L729.1,474.42L729.1,474.48L729.2,474.54L729.2,474.60L729.3,474.66L729.3,474.71L729.3,474.77L729.4,474.82L729.4,474.88L729.5,474.93L729.5,474.98L729.6,475.03L729.6,475.08L729.6,475.13L729.7,475.18L729.7,475.23L729.8,475.27L729.8,475.32L729.9,475.37L729.9,475.41L730.0,475.45L730.0,475.49L730.0,475.54L730.1,475.58L730.1,475.61L730.2,475.65L730.2,475.69L730.3,475.73L730.3,475.76L730.3,475.80L730.4,475.83L730.4,475.86L730.5,475.90L730.5,475.93L730.6,475.96L730.6,475.99L730.6,476.02L730.7,476.04L730.7,476.07L730.8,476.10L730.8,476.12L730.9,476.15L730.9,476.17L730.9,476.19L731.0,476.22L731.0,476.24L731.1,476.26L731.1,476.28L731.2,476.30L731.2,476.32L731.2,476.34L731.3,476.36L731.3,476.37L731.4,476.39L731.4,476.41L731.5,476.42L731.5,476.44L731.5,476.45L731.6,476.46L731.6,476.48L731.7,476.49L731.7,476.50L731.8,476.52L731.8,476.53L731.8,476.8" fill="#c49c94" fill-opacity="0.45" stroke="#5a5a5a" stroke-width="1.8" stroke-linejoin="round"/>
<line x1="699.4" x2="699.4" y1="27" y2="503.6" stroke="#444" stroke-opacity="0.3" stroke-width="1"/>
<text x="199" y="62.95" text-anchor="end" font-size="14.5" fill="#444" textLength="39.7" lengthAdjust="spacingAndGlyphs">Other</text>
<text x="199" y="77.40" text-anchor="end" font-size="14.5" fill="#444" textLength="99.3" lengthAdjust="spacingAndGlyphs">Adrenal Gland</text>
<text x="199" y="91.85" text-anchor="end" font-size="14.5" fill="#444" textLength="68.9" lengthAdjust="spacingAndGlyphs">Fibroblast</text>
<text x="199" y="106.30" text-anchor="end" font-size="14.5" fill="#444" textLength="58.0" lengthAdjust="spacingAndGlyphs">Prostate</text>
<text x="199" y="120.75" text-anchor="end" font-size="14.5" fill="#444" textLength="118.0" lengthAdjust="spacingAndGlyphs">Ampulla of Vater</text>
<text x="199" y="135.20" text-anchor="end" font-size="14.5" fill="#444" textLength="46.2" lengthAdjust="spacingAndGlyphs">Uterus</text>
<text x="199" y="149.65" text-anchor="end" font-size="14.5" fill="#444" textLength="25.5" lengthAdjust="spacingAndGlyphs">Eye</text>
<text x="199" y="164.10" text-anchor="end" font-size="14.5" fill="#444" textLength="30.6" lengthAdjust="spacingAndGlyphs">Skin</text>
<text x="199" y="178.55" text-anchor="end" font-size="14.5" fill="#444" textLength="83.3" lengthAdjust="spacingAndGlyphs">Biliary Tract</text>
<text x="199" y="193.00" text-anchor="end" font-size="14.5" fill="#444" textLength="52.8" lengthAdjust="spacingAndGlyphs">Thyroid</text>
<text x="199" y="207.45" text-anchor="end" font-size="14.5" fill="#444" textLength="44.5" lengthAdjust="spacingAndGlyphs">Cervix</text>
<text x="199" y="221.90" text-anchor="end" font-size="14.5" fill="#444" textLength="34.2" lengthAdjust="spacingAndGlyphs">Lung</text>
<text x="199" y="236.35" text-anchor="end" font-size="14.5" fill="#444" textLength="45.1" lengthAdjust="spacingAndGlyphs">Breast</text>
<text x="199" y="250.80" text-anchor="end" font-size="14.5" fill="#444" textLength="190.2" lengthAdjust="spacingAndGlyphs">Peripheral Nervous System</text>
<text x="199" y="265.25" text-anchor="end" font-size="14.5" fill="#444" textLength="143.7" lengthAdjust="spacingAndGlyphs">Esophagus/Stomach</text>
<text x="199" y="279.70" text-anchor="end" font-size="14.5" fill="#444" textLength="41.7" lengthAdjust="spacingAndGlyphs">Bowel</text>
<text x="199" y="294.15" text-anchor="end" font-size="14.5" fill="#444" textLength="147.9" lengthAdjust="spacingAndGlyphs">Ovary/Fallopian Tube</text>
<text x="199" y="308.60" text-anchor="end" font-size="14.5" fill="#444" textLength="40.0" lengthAdjust="spacingAndGlyphs">Testis</text>
<text x="199" y="323.05" text-anchor="end" font-size="14.5" fill="#444" textLength="47.8" lengthAdjust="spacingAndGlyphs">Kidney</text>
<text x="199" y="337.50" text-anchor="end" font-size="14.5" fill="#444" textLength="53.3" lengthAdjust="spacingAndGlyphs">Myeloid</text>
<text x="199" y="351.95" text-anchor="end" font-size="14.5" fill="#444" textLength="35.3" lengthAdjust="spacingAndGlyphs">Bone</text>
<text x="199" y="366.40" text-anchor="end" font-size="14.5" fill="#444" textLength="77.7" lengthAdjust="spacingAndGlyphs">Soft Tissue</text>
<text x="199" y="380.85" text-anchor="end" font-size="14.5" fill="#444" textLength="67.6" lengthAdjust="spacingAndGlyphs">Lymphoid</text>
<text x="199" y="395.30" text-anchor="end" font-size="14.5" fill="#444" textLength="34.2" lengthAdjust="spacingAndGlyphs">Liver</text>
<text x="199" y="409.75" text-anchor="end" font-size="14.5" fill="#444" textLength="150.9" lengthAdjust="spacingAndGlyphs">Bladder/Urinary Tract</text>
<text x="199" y="424.20" text-anchor="end" font-size="14.5" fill="#444" textLength="62.5" lengthAdjust="spacingAndGlyphs">Pancreas</text>
<text x="199" y="438.65" text-anchor="end" font-size="14.5" fill="#444" textLength="43.0" lengthAdjust="spacingAndGlyphs">Pleura</text>
<text x="199" y="453.10" text-anchor="end" font-size="14.5" fill="#444" textLength="106.2" lengthAdjust="spacingAndGlyphs">Head and Neck</text>
<text x="199" y="467.55" text-anchor="end" font-size="14.5" fill="#444" textLength="72.9" lengthAdjust="spacingAndGlyphs">CNS/Brain</text>
<text x="199" y="482.00" text-anchor="end" font-size="14.5" fill="#444" textLength="90.9" lengthAdjust="spacingAndGlyphs">Vulva/Vagina</text>
<text x="209.4" y="517" text-anchor="middle" font-size="12.3" fill="#444" stroke="#444" stroke-width="0.1" textLength="17.4" lengthAdjust="spacingAndGlyphs">−3</text>
<text x="291.1" y="517" text-anchor="middle" font-size="12.3" fill="#444" stroke="#444" stroke-width="0.1" textLength="29.4" lengthAdjust="spacingAndGlyphs">−2.5</text>
<text x="372.7" y="517" text-anchor="middle" font-size="12.3" fill="#444" stroke="#444" stroke-width="0.1" textLength="17.4" lengthAdjust="spacingAndGlyphs">−2</text>
<text x="454.4" y="517" text-anchor="middle" font-size="12.3" fill="#444" stroke="#444" stroke-width="0.1" textLength="29.4" lengthAdjust="spacingAndGlyphs">−1.5</text>
<text x="536.1" y="517" text-anchor="middle" font-size="12.3" fill="#444" stroke="#444" stroke-width="0.1" textLength="17.4" lengthAdjust="spacingAndGlyphs">−1</text>
<text x="617.7" y="517" text-anchor="middle" font-size="12.3" fill="#444" stroke="#444" stroke-width="0.1" textLength="29.4" lengthAdjust="spacingAndGlyphs">−0.5</text>
<text x="699.4" y="517" text-anchor="middle" font-size="12.3" fill="#444" stroke="#444" stroke-width="0.1" textLength="7.6" lengthAdjust="spacingAndGlyphs">0</text>
<text x="781.1" y="517" text-anchor="middle" font-size="12.3" fill="#444" stroke="#444" stroke-width="0.1" textLength="19.6" lengthAdjust="spacingAndGlyphs">0.5</text>
<text x="510.5" y="556" text-anchor="middle" font-size="14.5" fill="#444" textLength="191.7" lengthAdjust="spacingAndGlyphs">GSR Gene Effect (Chronos)</text>
<text x="510.5" y="574.6" text-anchor="middle" font-size="14.5" fill="#444" textLength="335.1" lengthAdjust="spacingAndGlyphs">CRISPR (DepMap Public 25Q3+Score, Chronos)</text>
<line x1="234" y1="192.6" x2="239.7" y2="208.5" stroke="#888" stroke-width="1.5"/>
<rect x="202.5" y="174.5" width="57.3" height="18.2" fill="#fff" stroke="#c7c7c7" stroke-width="1"/>
<text x="231.1" y="188.3" text-anchor="middle" font-size="12.3" font-weight="bold" fill="#444" textLength="54.4" lengthAdjust="spacingAndGlyphs">SKMES1</text>
</svg></body></html>
